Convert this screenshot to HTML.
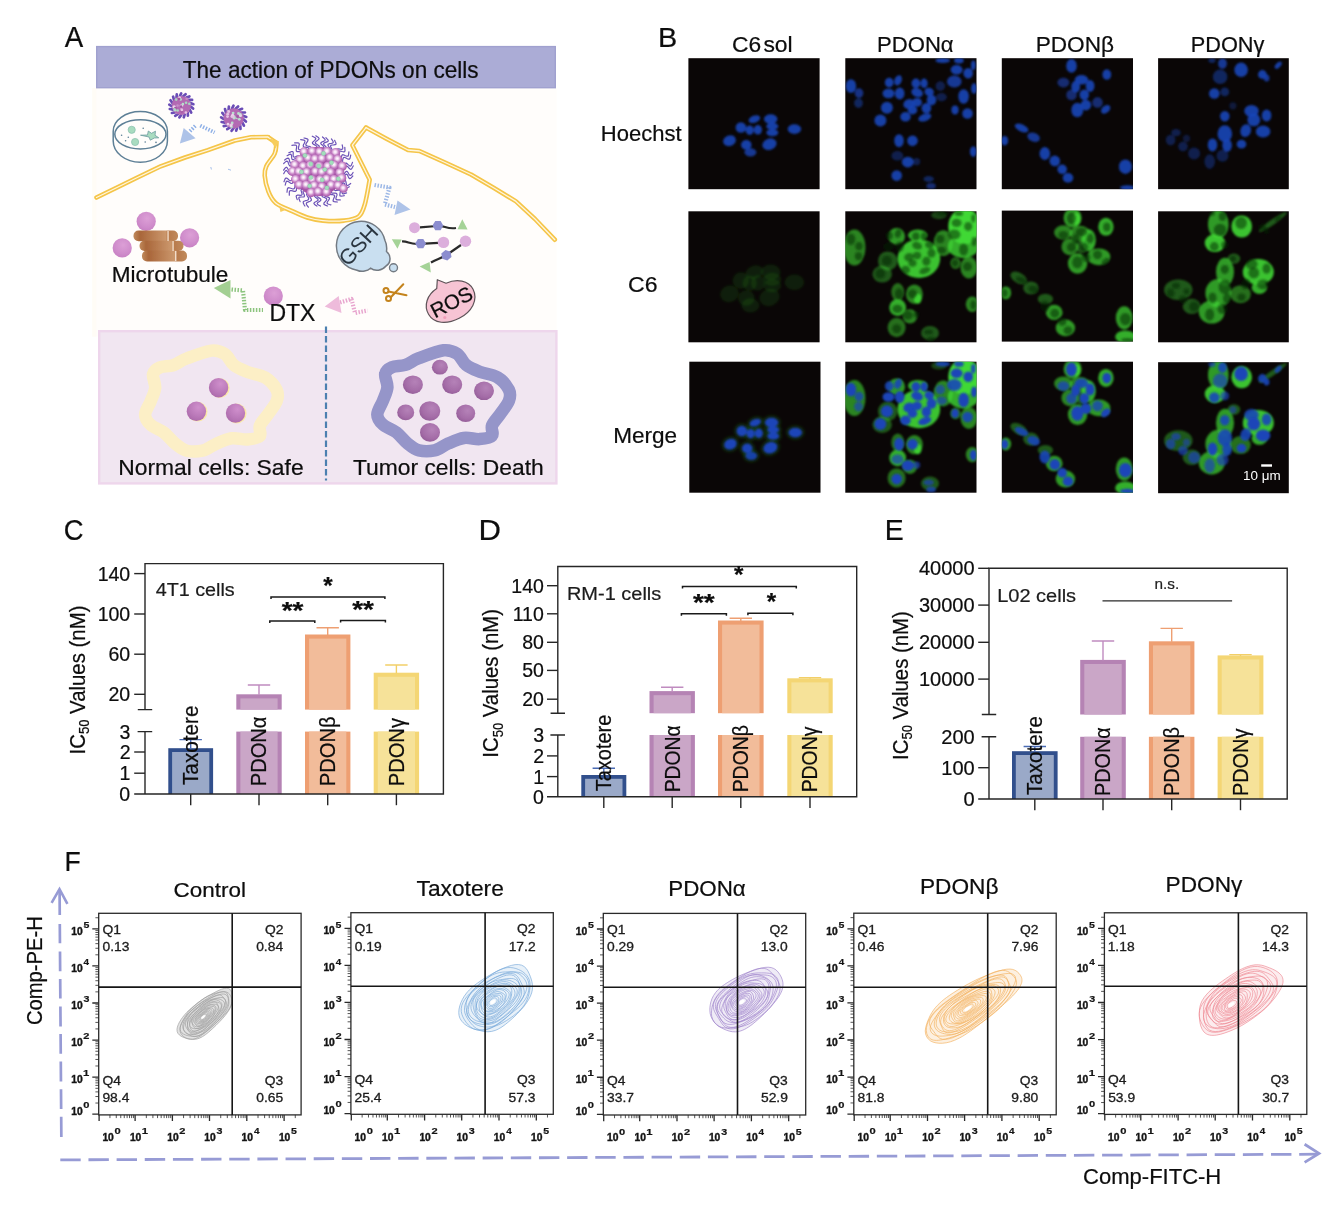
<!DOCTYPE html>
<html lang="en">
<head>
<meta charset="utf-8">
<title>PDONs figure</title>
<style>
html,body{margin:0;padding:0;background:#fff;}
body{width:1334px;height:1224px;overflow:hidden;}
svg{display:block;}
text{font-family:"Liberation Sans", Arial, Helvetica, sans-serif;fill:#0d0d0d;stroke:#0d0d0d;stroke-width:0.22px;}
.lbl{font-size:27px;}
</style>
</head>
<body>
<svg width="1334" height="1224" viewBox="0 0 1334 1224">
<rect x="0" y="0" width="1334" height="1224" fill="#ffffff"/>
<g id="panelA">
<defs>
<radialGradient id="gSph" cx="0.45" cy="0.42" r="0.62"><stop offset="0" stop-color="#ffffff"/><stop offset="0.25" stop-color="#f3dcf2"/><stop offset="0.6" stop-color="#c683c5"/><stop offset="1" stop-color="#a04ba1"/></radialGradient>
<radialGradient id="gPink" cx="0.55" cy="0.35" r="0.75"><stop offset="0" stop-color="#dc9fd6"/><stop offset="0.6" stop-color="#cf8ccb"/><stop offset="1" stop-color="#c47cc0"/></radialGradient>
<radialGradient id="gPink2" cx="0.6" cy="0.3" r="0.8"><stop offset="0" stop-color="#cf8fcc"/><stop offset="0.6" stop-color="#b978b8"/><stop offset="1" stop-color="#a866a8"/></radialGradient>
<radialGradient id="gTum" cx="0.6" cy="0.35" r="0.8"><stop offset="0" stop-color="#b582b8"/><stop offset="0.6" stop-color="#a46ca7"/><stop offset="1" stop-color="#8c5691"/></radialGradient>
<linearGradient id="gBrown" x1="0" y1="0" x2="1" y2="0"><stop offset="0" stop-color="#c08a5c"/><stop offset="0.15" stop-color="#a9663a"/><stop offset="0.72" stop-color="#cb976c"/><stop offset="0.78" stop-color="#b87a4c"/><stop offset="1" stop-color="#c08a5c"/></linearGradient>
<filter id="soft" x="-10%" y="-10%" width="120%" height="120%"><feGaussianBlur stdDeviation="0.45"/></filter>
<filter id="soft2" x="-10%" y="-10%" width="120%" height="120%"><feGaussianBlur stdDeviation="0.7"/></filter>
</defs>
<text transform="translate(64.7 47.4) scale(0.9675 1)" font-size="28.6" >A</text>
<rect x="92.3" y="88" width="464.3" height="248.6" fill="#fffdfb"/><rect x="92.3" y="88" width="4" height="248.6" fill="#fffcf6"/>
<rect x="96.7" y="46.6" width="458.6" height="41.1" fill="#abacd6" stroke="#a0a1cf" stroke-width="1.4"/>
<text transform="translate(182.75 77.9) scale(0.9723 1)" font-size="23.2" >The action of PDONs on cells</text>
<g filter="url(#soft)">
<path d="M96.5 197.5 L115 188.5 L136.4 178 L160.7 166.3 L185 157.5 L207.9 150.1 L234.9 140.5 L251.1 137.2 L268 137" fill="none" stroke="#f5c548" stroke-width="4.6" stroke-linejoin="round" stroke-linecap="round"/>
<path d="M268.4 137.5 L276.5 143 L276.5 143 C276.2 144.8 276.4 149.7 274.7 153.6 C273 157.5 268 162.5 266.3 166.2 C264.6 169.9 264.4 171.4 264.7 175.6 C265 179.8 266.6 186.8 268.4 191.4 C270.2 196 272 199.8 275.7 202.9 C279.4 206.1 285.1 207.9 290.4 210.3 C295.6 212.7 301.8 215.8 307.2 217.5 C312.6 219.2 316.9 220.1 323 220.6 C329.1 221.1 338.1 221.3 344 220.6 C349.9 219.9 355.2 219.3 358.7 216.5 C362.2 213.7 363.1 210.1 364.9 204 C366.7 197.9 368.9 183.8 369.7 179.8 L352.4 145.2 L366 127.6" fill="none" stroke="#f5c548" stroke-width="4.6" stroke-linejoin="round" stroke-linecap="round"/>
<path d="M366 127.6 L386 138.5 L408 150 L419.4 151 L445 162.5 L471 174.5 L494 188 L516 201.4 L535 219 L554.8 239.7" fill="none" stroke="#f5c548" stroke-width="4.6" stroke-linejoin="round" stroke-linecap="round"/>
<path d="M96.5 197.5 L115 188.5 L136.4 178 L160.7 166.3 L185 157.5 L207.9 150.1 L234.9 140.5 L251.1 137.2 L268 137" fill="none" stroke="#fff6df" stroke-width="1.3" stroke-linejoin="round" stroke-linecap="round"/>
<path d="M268.4 137.5 L276.5 143 L276.5 143 C276.2 144.8 276.4 149.7 274.7 153.6 C273 157.5 268 162.5 266.3 166.2 C264.6 169.9 264.4 171.4 264.7 175.6 C265 179.8 266.6 186.8 268.4 191.4 C270.2 196 272 199.8 275.7 202.9 C279.4 206.1 285.1 207.9 290.4 210.3 C295.6 212.7 301.8 215.8 307.2 217.5 C312.6 219.2 316.9 220.1 323 220.6 C329.1 221.1 338.1 221.3 344 220.6 C349.9 219.9 355.2 219.3 358.7 216.5 C362.2 213.7 363.1 210.1 364.9 204 C366.7 197.9 368.9 183.8 369.7 179.8 L352.4 145.2 L366 127.6" fill="none" stroke="#fff6df" stroke-width="1.3" stroke-linejoin="round" stroke-linecap="round"/>
<path d="M366 127.6 L386 138.5 L408 150 L419.4 151 L445 162.5 L471 174.5 L494 188 L516 201.4 L535 219 L554.8 239.7" fill="none" stroke="#fff6df" stroke-width="1.3" stroke-linejoin="round" stroke-linecap="round"/>
<polygon points="269.5,138.5 279,141.2 275.5,148.5" fill="#f7cd5c"/>
<polygon points="279,205.5 285.5,210 280.5,212" fill="#f7cd5c"/>
<path d="M113.2 131.2 A27 19.6 0 0 1 167.4 131.2 L167.4 141 A27.1 21.2 0 0 1 113.2 141 Z" fill="none" stroke="#5d7f96" stroke-width="1.5"/>
<ellipse cx="140.4" cy="134.3" rx="25.6" ry="14.6" fill="none" stroke="#5d7f96" stroke-width="1.5"/>
<circle cx="131.7" cy="129.8" r="3.6" fill="#a9dcc0" stroke="#86bfae" stroke-width="0.7"/>
<circle cx="135.1" cy="142" r="3.6" fill="#a9dcc0" stroke="#86bfae" stroke-width="0.7"/>
<path d="M140.5 135.2 L147.5 135 L148.3 131 L151.5 133.3 L155.5 131.2 L155 135.3 L158.8 137.8 L154.3 138 L150.3 140.2 L149 137 Z" fill="#a9dcc0" stroke="#6d9aa0" stroke-width="0.8" stroke-linejoin="round"/>
<circle cx="121.6" cy="135.2" r="0.8" fill="#5d7f96"/>
<circle cx="128.3" cy="137.3" r="0.8" fill="#5d7f96"/>
<circle cx="125.6" cy="140.7" r="0.8" fill="#5d7f96"/>
<circle cx="143.2" cy="128.2" r="0.8" fill="#5d7f96"/>
<circle cx="145.2" cy="142" r="0.8" fill="#5d7f96"/>
<circle cx="156" cy="142.4" r="0.8" fill="#5d7f96"/>
<g><path d="M190.7 106.4 L193.1 108.6" fill="none" stroke="#6a4db6" stroke-width="2.7" stroke-linecap="round"/><path d="M189.7 109.7 L191.2 112.6" fill="none" stroke="#6a4db6" stroke-width="2.7" stroke-linecap="round"/><path d="M187.7 112.5 L187.9 115.7" fill="none" stroke="#6a4db6" stroke-width="2.7" stroke-linecap="round"/><path d="M184.7 114.3 L183.8 117.3" fill="none" stroke="#6a4db6" stroke-width="2.7" stroke-linecap="round"/><path d="M181.3 114.9 L179.4 117.4" fill="none" stroke="#6a4db6" stroke-width="2.7" stroke-linecap="round"/><path d="M178 114.2 L175.2 115.9" fill="none" stroke="#6a4db6" stroke-width="2.7" stroke-linecap="round"/><path d="M175 112.4 L171.9 113" fill="none" stroke="#6a4db6" stroke-width="2.7" stroke-linecap="round"/><path d="M173 109.6 L169.8 109" fill="none" stroke="#6a4db6" stroke-width="2.7" stroke-linecap="round"/><path d="M172.1 106.3 L169.3 104.6" fill="none" stroke="#6a4db6" stroke-width="2.7" stroke-linecap="round"/><path d="M172.4 102.9 L170.5 100.3" fill="none" stroke="#6a4db6" stroke-width="2.7" stroke-linecap="round"/><path d="M174 99.8 L173.1 96.7" fill="none" stroke="#6a4db6" stroke-width="2.7" stroke-linecap="round"/><path d="M176.5 97.5 L176.8 94.3" fill="none" stroke="#6a4db6" stroke-width="2.7" stroke-linecap="round"/><path d="M179.8 96.3 L181.2 93.4" fill="none" stroke="#6a4db6" stroke-width="2.7" stroke-linecap="round"/><path d="M183.2 96.3 L185.6 94.2" fill="none" stroke="#6a4db6" stroke-width="2.7" stroke-linecap="round"/><path d="M186.4 97.6 L189.4 96.4" fill="none" stroke="#6a4db6" stroke-width="2.7" stroke-linecap="round"/><path d="M188.9 99.9 L192.1 99.9" fill="none" stroke="#6a4db6" stroke-width="2.7" stroke-linecap="round"/><path d="M190.4 103 L193.4 104.2" fill="none" stroke="#6a4db6" stroke-width="2.7" stroke-linecap="round"/><circle cx="181.4" cy="105.5" r="9.6" fill="#b36bb3"/><circle cx="181.8" cy="111.4" r="1.3" fill="#a055a2"/><circle cx="186.1" cy="102.7" r="1.3" fill="#a8d8c0"/><circle cx="182" cy="105.8" r="1.3" fill="#ecd4ec"/><circle cx="181.2" cy="109.1" r="1.3" fill="#c78ec8"/><circle cx="173.8" cy="106.9" r="1.3" fill="#ecd4ec"/><circle cx="175.1" cy="110.2" r="1.3" fill="#b7e0cc"/><circle cx="176.2" cy="99.6" r="1.3" fill="#a8d8c0"/><circle cx="180.9" cy="105.9" r="1.3" fill="#e4c3e3"/><circle cx="185.9" cy="112.5" r="1.3" fill="#e4c3e3"/><circle cx="181.1" cy="106.5" r="1.3" fill="#a055a2"/><circle cx="174.5" cy="106.7" r="1.3" fill="#ecd4ec"/><circle cx="179.6" cy="97.5" r="1.3" fill="#ecd4ec"/><circle cx="180.6" cy="99.4" r="1.3" fill="#b7e0cc"/><circle cx="182.9" cy="104" r="1.3" fill="#b7e0cc"/><circle cx="177.6" cy="105.6" r="1.3" fill="#c78ec8"/><circle cx="175.4" cy="108" r="1.3" fill="#a055a2"/><circle cx="174.6" cy="109.2" r="1.3" fill="#a8d8c0"/><circle cx="177.7" cy="110.5" r="1.3" fill="#a8d8c0"/><circle cx="181.9" cy="109.9" r="1.3" fill="#e4c3e3"/><circle cx="186.7" cy="98.8" r="1.3" fill="#c78ec8"/><circle cx="179.1" cy="99" r="1.3" fill="#a055a2"/><circle cx="189.3" cy="103.7" r="1.3" fill="#a8d8c0"/></g>
<g><path d="M243.4 119.3 L245.9 121.6" fill="none" stroke="#6a4db6" stroke-width="2.7" stroke-linecap="round"/><path d="M242.4 122.7 L243.9 125.7" fill="none" stroke="#6a4db6" stroke-width="2.7" stroke-linecap="round"/><path d="M240.2 125.6 L240.5 128.9" fill="none" stroke="#6a4db6" stroke-width="2.7" stroke-linecap="round"/><path d="M237.2 127.5 L236.2 130.7" fill="none" stroke="#6a4db6" stroke-width="2.7" stroke-linecap="round"/><path d="M233.6 128.1 L231.6 130.8" fill="none" stroke="#6a4db6" stroke-width="2.7" stroke-linecap="round"/><path d="M230.1 127.4 L227.2 129.2" fill="none" stroke="#6a4db6" stroke-width="2.7" stroke-linecap="round"/><path d="M227 125.5 L223.7 126.1" fill="none" stroke="#6a4db6" stroke-width="2.7" stroke-linecap="round"/><path d="M224.9 122.6 L221.6 122" fill="none" stroke="#6a4db6" stroke-width="2.7" stroke-linecap="round"/><path d="M223.9 119.1 L221.1 117.3" fill="none" stroke="#6a4db6" stroke-width="2.7" stroke-linecap="round"/><path d="M224.3 115.5 L222.3 112.9" fill="none" stroke="#6a4db6" stroke-width="2.7" stroke-linecap="round"/><path d="M225.9 112.3 L225 109.1" fill="none" stroke="#6a4db6" stroke-width="2.7" stroke-linecap="round"/><path d="M228.6 109.9 L228.9 106.6" fill="none" stroke="#6a4db6" stroke-width="2.7" stroke-linecap="round"/><path d="M232 108.7 L233.5 105.7" fill="none" stroke="#6a4db6" stroke-width="2.7" stroke-linecap="round"/><path d="M235.6 108.7 L238.1 106.4" fill="none" stroke="#6a4db6" stroke-width="2.7" stroke-linecap="round"/><path d="M238.9 110 L242.1 108.8" fill="none" stroke="#6a4db6" stroke-width="2.7" stroke-linecap="round"/><path d="M241.6 112.5 L244.9 112.5" fill="none" stroke="#6a4db6" stroke-width="2.7" stroke-linecap="round"/><path d="M243.1 115.7 L246.3 116.9" fill="none" stroke="#6a4db6" stroke-width="2.7" stroke-linecap="round"/><circle cx="233.7" cy="118.3" r="10.1" fill="#b36bb3"/><circle cx="228.3" cy="113.1" r="1.4" fill="#c78ec8"/><circle cx="240.7" cy="115.6" r="1.4" fill="#a8d8c0"/><circle cx="239.3" cy="119.3" r="1.4" fill="#b7e0cc"/><circle cx="228.7" cy="111.5" r="1.4" fill="#e4c3e3"/><circle cx="228" cy="124.2" r="1.4" fill="#ecd4ec"/><circle cx="227.5" cy="116.6" r="1.4" fill="#e4c3e3"/><circle cx="233.1" cy="113.1" r="1.4" fill="#b7e0cc"/><circle cx="240.3" cy="114.5" r="1.4" fill="#b7e0cc"/><circle cx="233.8" cy="116.5" r="1.4" fill="#a8d8c0"/><circle cx="231.8" cy="116.6" r="1.4" fill="#e4c3e3"/><circle cx="234.1" cy="118.2" r="1.4" fill="#b7e0cc"/><circle cx="236.7" cy="117.5" r="1.4" fill="#b7e0cc"/><circle cx="231.6" cy="126.8" r="1.4" fill="#a8d8c0"/><circle cx="238.5" cy="113.5" r="1.4" fill="#b7e0cc"/><circle cx="240.4" cy="115.7" r="1.4" fill="#ecd4ec"/><circle cx="232.2" cy="122.9" r="1.4" fill="#b7e0cc"/><circle cx="237.4" cy="116.7" r="1.4" fill="#a055a2"/><circle cx="231.6" cy="124.6" r="1.4" fill="#e4c3e3"/><circle cx="227.7" cy="114.2" r="1.4" fill="#e4c3e3"/><circle cx="230.8" cy="125.7" r="1.4" fill="#ecd4ec"/><circle cx="232.6" cy="115.2" r="1.4" fill="#ecd4ec"/><circle cx="233.2" cy="116.8" r="1.4" fill="#e4c3e3"/></g>
<g><path d="M340.9 172.9L341.7 174.3L342.5 175L343.4 174.7L344.4 173.7L345.3 172.3L346.3 171.4L347.1 171.4L347.9 172.3L348.7 173.8L349.5 175L350.3 175.5L351.2 175L352.2 173.8L353.1 172.5" fill="none" stroke="#6c53b8" stroke-width="1.2" stroke-linejoin="round" stroke-linecap="round"/><path d="M340.7 175.2L341.3 176.6L342.1 177.4L343 177.2L344 176.3L345.1 175L346.1 174.2L347 174.3L347.7 175.3L348.3 176.8L349 178.1L349.8 178.7L350.7 178.3L351.8 177.2L352.8 176" fill="none" stroke="#6c53b8" stroke-width="1.2" stroke-linejoin="round" stroke-linecap="round"/><path d="M339.3 180.1L339.6 181.6L340.1 182.6L341 182.6L342.2 181.9L343.5 180.9L344.7 180.3L345.5 180.6L345.9 181.7L346.2 183.3L346.5 184.8L347.1 185.5L348.1 185.3L349.4 184.5L350.7 183.5" fill="none" stroke="#6c53b8" stroke-width="1.2" stroke-linejoin="round" stroke-linecap="round"/><path d="M338.3 182.2L338.4 183.7L338.9 184.7L339.8 184.8L341 184.2L342.4 183.4L343.7 182.9L344.4 183.3L344.8 184.5L344.9 186.1L345.1 187.5L345.6 188.3L346.6 188.2L347.9 187.5L349.3 186.7" fill="none" stroke="#6c53b8" stroke-width="1.2" stroke-linejoin="round" stroke-linecap="round"/><path d="M335.9 185.8L335.8 187.3L336.1 188.4L337 188.8L338.4 188.5L340 188L341.3 187.8L342.1 188.3L342.2 189.6L342.1 191.2L342 192.7L342.5 193.6L343.5 193.8L345 193.4L346.6 192.9" fill="none" stroke="#6c53b8" stroke-width="1.2" stroke-linejoin="round" stroke-linecap="round"/><path d="M334.4 187.4L334.1 189L334.3 190.1L335.2 190.6L336.6 190.4L338.2 190.1L339.6 190L340.3 190.6L340.3 191.9L340 193.5L339.8 195L340.1 196L341.2 196.2L342.7 196L344.3 195.6" fill="none" stroke="#6c53b8" stroke-width="1.2" stroke-linejoin="round" stroke-linecap="round"/><path d="M331.6 189.8L331.1 191.4L331.1 192.5L331.9 193.1L333.4 193.2L335.1 193.2L336.4 193.4L337 194.1L336.9 195.4L336.3 196.9L335.9 198.4L336.1 199.4L337.1 199.9L338.7 199.9L340.3 199.9" fill="none" stroke="#6c53b8" stroke-width="1.2" stroke-linejoin="round" stroke-linecap="round"/><path d="M329.7 191.1L329 192.6L328.9 193.7L329.7 194.4L331.1 194.6L332.8 194.7L334.1 195.1L334.7 195.9L334.4 197.1L333.7 198.6L333.1 200.1L333.2 201.1L334.2 201.6L335.8 201.8L337.4 202" fill="none" stroke="#6c53b8" stroke-width="1.2" stroke-linejoin="round" stroke-linecap="round"/><path d="M325.6 193L324.7 194.3L324.3 195.4L324.9 196.1L326.3 196.6L327.9 197.1L329.2 197.6L329.5 198.5L329 199.7L328 201L327.2 202.3L327.1 203.3L327.9 204L329.4 204.5L330.9 204.9" fill="none" stroke="#6c53b8" stroke-width="1.2" stroke-linejoin="round" stroke-linecap="round"/><path d="M323.4 193.6L322.4 194.8L321.9 195.8L322.4 196.7L323.8 197.3L325.3 197.9L326.5 198.6L326.8 199.5L326.1 200.6L325 201.8L324 203L323.8 204L324.6 204.8L326 205.4L327.5 206" fill="none" stroke="#6c53b8" stroke-width="1.2" stroke-linejoin="round" stroke-linecap="round"/><path d="M318.9 194.2L317.6 195.1L316.9 195.9L317.3 196.8L318.4 197.6L319.9 198.4L320.8 199.2L320.9 200.1L320.1 201L318.7 201.9L317.6 202.8L317.2 203.6L317.7 204.5L319 205.3L320.4 206.1" fill="none" stroke="#6c53b8" stroke-width="1.2" stroke-linejoin="round" stroke-linecap="round"/><path d="M316.6 194.1L315.2 194.9L314.5 195.7L314.8 196.6L315.8 197.5L317.1 198.5L318 199.4L318.1 200.2L317.1 201L315.7 201.8L314.4 202.5L313.9 203.4L314.4 204.2L315.6 205.2L316.9 206.1" fill="none" stroke="#6c53b8" stroke-width="1.2" stroke-linejoin="round" stroke-linecap="round"/><path d="M311.5 193.2L310 193.8L309 194.6L309 195.6L309.8 196.9L310.8 198.3L311.4 199.6L311.2 200.6L310.1 201.3L308.5 201.9L307 202.5L306.3 203.3L306.5 204.5L307.4 205.8L308.4 207.2" fill="none" stroke="#6c53b8" stroke-width="1.2" stroke-linejoin="round" stroke-linecap="round"/><path d="M309.4 192.4L307.8 192.8L306.8 193.5L306.6 194.6L307.3 196L308.2 197.4L308.7 198.8L308.3 199.7L307.1 200.3L305.5 200.7L304 201.2L303.2 202L303.3 203.1L304 204.6L304.9 206" fill="none" stroke="#6c53b8" stroke-width="1.2" stroke-linejoin="round" stroke-linecap="round"/><path d="M305.8 190.5L304.3 190.6L303.2 191L303 191.9L303.5 193.2L304.2 194.7L304.5 196L304.1 196.8L302.9 197L301.2 197L299.7 197.1L298.9 197.6L298.9 198.7L299.5 200.1L300.1 201.6" fill="none" stroke="#6c53b8" stroke-width="1.2" stroke-linejoin="round" stroke-linecap="round"/><path d="M304 189.2L302.4 189.1L301.3 189.4L301 190.3L301.4 191.6L301.9 193.2L302.1 194.5L301.6 195.2L300.4 195.4L298.7 195.2L297.3 195.2L296.4 195.6L296.2 196.6L296.7 198.1L297.2 199.6" fill="none" stroke="#6c53b8" stroke-width="1.2" stroke-linejoin="round" stroke-linecap="round"/><path d="M300.2 185.3L298.5 184.9L297.3 185.1L296.7 185.9L296.5 187.5L296.5 189.2L296.3 190.6L295.5 191.3L294.2 191.3L292.5 190.8L290.9 190.5L289.8 190.8L289.3 191.9L289.3 193.5L289.3 195.2" fill="none" stroke="#6c53b8" stroke-width="1.2" stroke-linejoin="round" stroke-linecap="round"/><path d="M298.9 183.5L297.3 182.9L296 182.9L295.3 183.7L295 185.2L294.9 187L294.5 188.3L293.6 189L292.3 188.8L290.7 188.2L289.1 187.7L288 187.9L287.4 188.9L287.2 190.5L287 192.2" fill="none" stroke="#6c53b8" stroke-width="1.2" stroke-linejoin="round" stroke-linecap="round"/><path d="M296.9 179.5L295.6 178.6L294.5 178.3L293.7 178.9L293.3 180.3L292.9 181.9L292.4 183.2L291.5 183.5L290.4 183.1L289 182.1L287.7 181.3L286.7 181.2L286 182.1L285.6 183.6L285.2 185.2" fill="none" stroke="#6c53b8" stroke-width="1.2" stroke-linejoin="round" stroke-linecap="round"/><path d="M296.2 177.3L295 176.3L293.9 175.9L293.1 176.4L292.5 177.8L292 179.3L291.3 180.5L290.4 180.8L289.3 180.2L288.1 179.1L286.9 178.2L285.9 178L285.1 178.8L284.6 180.3L284 181.8" fill="none" stroke="#6c53b8" stroke-width="1.2" stroke-linejoin="round" stroke-linecap="round"/><path d="M295.4 172.1L294.5 170.8L293.7 170.2L292.8 170.5L292 171.7L291.2 173.1L290.4 174.1L289.6 174.2L288.7 173.3L287.8 172L286.9 170.8L286.1 170.4L285.3 171L284.5 172.3L283.7 173.7" fill="none" stroke="#6c53b8" stroke-width="1.2" stroke-linejoin="round" stroke-linecap="round"/><path d="M295.5 169.8L294.7 168.5L293.9 167.8L293.1 168L292.1 169.1L291.2 170.4L290.3 171.3L289.4 171.3L288.7 170.4L287.9 169L287.2 167.7L286.3 167.2L285.5 167.7L284.5 168.9L283.6 170.2" fill="none" stroke="#6c53b8" stroke-width="1.2" stroke-linejoin="round" stroke-linecap="round"/><path d="M296.2 165.6L295.6 164.1L294.9 163.2L294 163.3L292.8 164.1L291.6 165.3L290.5 166L289.6 165.8L289 164.7L288.4 163.2L287.9 161.8L287.1 161.1L286.1 161.4L284.9 162.4L283.7 163.5" fill="none" stroke="#6c53b8" stroke-width="1.2" stroke-linejoin="round" stroke-linecap="round"/><path d="M296.9 163.4L296.5 161.9L295.9 160.9L294.9 160.9L293.7 161.7L292.3 162.6L291.2 163.2L290.3 163L289.8 161.8L289.4 160.2L289 158.8L288.3 158.1L287.3 158.3L286 159.1L284.7 160.1" fill="none" stroke="#6c53b8" stroke-width="1.2" stroke-linejoin="round" stroke-linecap="round"/><path d="M298.2 160.5L298.1 158.9L297.6 157.9L296.7 157.8L295.4 158.4L294 159.2L292.8 159.6L292 159.2L291.7 158.1L291.6 156.4L291.4 155L290.9 154.2L289.8 154.3L288.5 154.9L287.1 155.7" fill="none" stroke="#6c53b8" stroke-width="1.2" stroke-linejoin="round" stroke-linecap="round"/><path d="M299.4 158.5L299.4 157L299.1 155.9L298.2 155.7L296.9 156.1L295.4 156.8L294.1 157.1L293.4 156.7L293.1 155.5L293.2 153.9L293.2 152.4L292.7 151.5L291.7 151.5L290.3 152.1L288.8 152.7" fill="none" stroke="#6c53b8" stroke-width="1.2" stroke-linejoin="round" stroke-linecap="round"/><path d="M302.5 154.9L302.8 153.2L302.6 152L301.6 151.5L300.1 151.5L298.4 151.7L297 151.7L296.3 151L296.2 149.6L296.5 148L296.7 146.4L296.3 145.4L295.2 145L293.6 145.1L291.9 145.3" fill="none" stroke="#6c53b8" stroke-width="1.2" stroke-linejoin="round" stroke-linecap="round"/><path d="M304.3 153.4L304.7 151.8L304.6 150.6L303.7 149.9L302.2 149.8L300.5 149.9L299.1 149.7L298.4 148.9L298.5 147.5L298.9 145.9L299.3 144.4L299 143.3L297.9 142.8L296.3 142.8L294.6 142.8" fill="none" stroke="#6c53b8" stroke-width="1.2" stroke-linejoin="round" stroke-linecap="round"/><path d="M307.9 151.1L308.6 149.6L308.8 148.5L308.1 147.7L306.6 147.4L304.9 147.2L303.6 146.7L303.2 145.9L303.5 144.6L304.3 143.2L304.9 141.8L304.9 140.7L303.9 140.1L302.4 139.8L300.7 139.6" fill="none" stroke="#6c53b8" stroke-width="1.2" stroke-linejoin="round" stroke-linecap="round"/><path d="M310 150.1L310.8 148.8L311.1 147.6L310.5 146.8L309.1 146.4L307.4 146L306.2 145.4L305.8 144.5L306.2 143.3L307.2 141.9L307.9 140.6L308 139.5L307.1 138.8L305.6 138.4L304 138" fill="none" stroke="#6c53b8" stroke-width="1.2" stroke-linejoin="round" stroke-linecap="round"/><path d="M315.2 148.8L316.3 147.7L316.9 146.7L316.4 145.9L315.2 145.1L313.7 144.4L312.6 143.6L312.4 142.7L313.2 141.7L314.4 140.6L315.5 139.5L315.8 138.5L315.1 137.7L313.8 137L312.3 136.2" fill="none" stroke="#6c53b8" stroke-width="1.2" stroke-linejoin="round" stroke-linecap="round"/><path d="M317.4 148.6L318.7 147.7L319.3 146.7L319 145.8L317.8 144.9L316.4 144.1L315.4 143.2L315.3 142.3L316.2 141.3L317.5 140.4L318.7 139.4L319.1 138.5L318.5 137.6L317.2 136.7L315.8 135.8" fill="none" stroke="#6c53b8" stroke-width="1.2" stroke-linejoin="round" stroke-linecap="round"/><path d="M321.8 148.9L323.2 148.3L324 147.5L323.8 146.6L322.9 145.6L321.6 144.6L320.8 143.6L320.9 142.7L321.9 142L323.4 141.4L324.7 140.8L325.2 140L324.8 139.1L323.7 138L322.5 137" fill="none" stroke="#6c53b8" stroke-width="1.2" stroke-linejoin="round" stroke-linecap="round"/><path d="M324 149.4L325.5 148.9L326.4 148.2L326.3 147.3L325.4 146.2L324.3 145.1L323.6 144L323.7 143.2L324.8 142.6L326.3 142.1L327.7 141.6L328.3 140.9L328 139.9L327 138.8L325.9 137.6" fill="none" stroke="#6c53b8" stroke-width="1.2" stroke-linejoin="round" stroke-linecap="round"/><path d="M327.5 150.6L329 150.3L330 149.8L330.1 148.8L329.4 147.6L328.5 146.2L327.9 145L328.2 144.2L329.4 143.7L331 143.5L332.5 143.2L333.2 142.5L333.1 141.5L332.3 140.2L331.4 138.9" fill="none" stroke="#6c53b8" stroke-width="1.2" stroke-linejoin="round" stroke-linecap="round"/><path d="M329.5 151.6L331.1 151.5L332.1 151.1L332.2 150.1L331.7 148.8L330.9 147.4L330.5 146.1L330.9 145.3L332.1 145L333.7 144.9L335.2 144.7L336 144.2L336 143.2L335.3 141.8L334.6 140.3" fill="none" stroke="#6c53b8" stroke-width="1.2" stroke-linejoin="round" stroke-linecap="round"/><path d="M334 155L335.6 155.2L336.7 155L337.2 154.1L337 152.7L336.6 151.1L336.6 149.7L337.2 149L338.5 148.9L340.1 149.2L341.6 149.4L342.6 149L342.8 148L342.5 146.4L342.2 144.8" fill="none" stroke="#6c53b8" stroke-width="1.2" stroke-linejoin="round" stroke-linecap="round"/><path d="M335.6 156.7L337.1 157.1L338.3 157L338.8 156.1L338.8 154.7L338.6 153L338.7 151.7L339.3 151L340.6 151.1L342.2 151.5L343.7 151.8L344.7 151.6L345 150.5L344.9 149L344.8 147.4" fill="none" stroke="#6c53b8" stroke-width="1.2" stroke-linejoin="round" stroke-linecap="round"/><path d="M337.8 159.8L339.3 160.4L340.5 160.5L341.2 159.8L341.4 158.3L341.5 156.6L341.9 155.3L342.7 154.7L344 155L345.5 155.7L346.9 156.2L348 156.1L348.5 155.2L348.7 153.6L348.9 151.9" fill="none" stroke="#6c53b8" stroke-width="1.2" stroke-linejoin="round" stroke-linecap="round"/><path d="M338.9 161.8L340.3 162.6L341.5 162.8L342.2 162.1L342.6 160.7L342.9 159L343.4 157.7L344.2 157.3L345.5 157.7L346.9 158.5L348.3 159.2L349.4 159.2L350 158.3L350.4 156.7L350.7 155.1" fill="none" stroke="#6c53b8" stroke-width="1.2" stroke-linejoin="round" stroke-linecap="round"/><path d="M340.4 166.4L341.6 167.4L342.6 167.9L343.4 167.4L344.1 166.1L344.6 164.5L345.3 163.4L346.2 163.1L347.2 163.8L348.4 164.9L349.6 165.9L350.5 166.1L351.3 165.4L351.9 163.9L352.5 162.4" fill="none" stroke="#6c53b8" stroke-width="1.2" stroke-linejoin="round" stroke-linecap="round"/><path d="M340.8 168.6L341.9 169.8L342.8 170.3L343.7 169.9L344.5 168.7L345.2 167.2L346 166.1L346.8 166L347.8 166.7L348.9 168L350 169L350.9 169.4L351.7 168.7L352.5 167.3L353.2 165.9" fill="none" stroke="#6c53b8" stroke-width="1.2" stroke-linejoin="round" stroke-linecap="round"/><circle cx="318.2" cy="171.4" r="24.6" fill="#a654a6"/><circle cx="304.1" cy="151.9" r="4.6" fill="url(#gSph)"/><circle cx="312.2" cy="151.3" r="4.6" fill="url(#gSph)"/><circle cx="319.6" cy="151.9" r="4.6" fill="url(#gSph)"/><circle cx="327.2" cy="151.6" r="4.6" fill="url(#gSph)"/><circle cx="335.6" cy="152.7" r="4.6" fill="url(#gSph)"/><circle cx="299.9" cy="159.7" r="4.6" fill="url(#gSph)"/><circle cx="308.1" cy="158.1" r="4.6" fill="url(#gSph)"/><circle cx="315" cy="158.9" r="4.6" fill="url(#gSph)"/><circle cx="322" cy="158.5" r="4.6" fill="url(#gSph)"/><circle cx="330.1" cy="157.7" r="4.6" fill="url(#gSph)"/><circle cx="337.7" cy="159.2" r="4.6" fill="url(#gSph)"/><circle cx="294.8" cy="164.8" r="4.6" fill="url(#gSph)"/><circle cx="303.2" cy="166.2" r="4.6" fill="url(#gSph)"/><circle cx="310.3" cy="165.2" r="4.6" fill="url(#gSph)"/><circle cx="319.3" cy="166.2" r="4.6" fill="url(#gSph)"/><circle cx="327.7" cy="166.2" r="4.6" fill="url(#gSph)"/><circle cx="334.3" cy="165.2" r="4.6" fill="url(#gSph)"/><circle cx="342.3" cy="166.2" r="4.6" fill="url(#gSph)"/><circle cx="292.7" cy="171.4" r="4.6" fill="url(#gSph)"/><circle cx="298.8" cy="171.6" r="4.6" fill="url(#gSph)"/><circle cx="306.8" cy="172.1" r="4.6" fill="url(#gSph)"/><circle cx="315.4" cy="171.6" r="4.6" fill="url(#gSph)"/><circle cx="321.9" cy="172" r="4.6" fill="url(#gSph)"/><circle cx="330.6" cy="172.3" r="4.6" fill="url(#gSph)"/><circle cx="339.8" cy="172.6" r="4.6" fill="url(#gSph)"/><circle cx="295.7" cy="179.3" r="4.6" fill="url(#gSph)"/><circle cx="303.9" cy="178" r="4.6" fill="url(#gSph)"/><circle cx="312.2" cy="179.6" r="4.6" fill="url(#gSph)"/><circle cx="320" cy="179.7" r="4.6" fill="url(#gSph)"/><circle cx="326.7" cy="178.8" r="4.6" fill="url(#gSph)"/><circle cx="333.9" cy="179.3" r="4.6" fill="url(#gSph)"/><circle cx="341.7" cy="178" r="4.6" fill="url(#gSph)"/><circle cx="299.2" cy="184.8" r="4.6" fill="url(#gSph)"/><circle cx="306.2" cy="185" r="4.6" fill="url(#gSph)"/><circle cx="314.3" cy="185.5" r="4.6" fill="url(#gSph)"/><circle cx="322" cy="186.7" r="4.6" fill="url(#gSph)"/><circle cx="331.2" cy="185" r="4.6" fill="url(#gSph)"/><circle cx="338.2" cy="185.5" r="4.6" fill="url(#gSph)"/><circle cx="311.2" cy="192.6" r="4.6" fill="url(#gSph)"/><circle cx="318.2" cy="191.7" r="4.6" fill="url(#gSph)"/><circle cx="326.6" cy="192.1" r="4.6" fill="url(#gSph)"/><circle cx="304.9" cy="155.5" r="2.1" fill="#a3dfbc" stroke="#7cc8a0" stroke-width="0.4"/><circle cx="323.5" cy="153.4" r="2.1" fill="#a3dfbc" stroke="#7cc8a0" stroke-width="0.4"/><circle cx="331.4" cy="162.7" r="2.1" fill="#a3dfbc" stroke="#7cc8a0" stroke-width="0.4"/><circle cx="310.8" cy="164" r="2.1" fill="#a3dfbc" stroke="#7cc8a0" stroke-width="0.4"/><circle cx="318.7" cy="166.1" r="2.1" fill="#a3dfbc" stroke="#7cc8a0" stroke-width="0.4"/><circle cx="324.8" cy="169.5" r="2.1" fill="#a3dfbc" stroke="#7cc8a0" stroke-width="0.4"/><circle cx="301.5" cy="171.9" r="2.1" fill="#a3dfbc" stroke="#7cc8a0" stroke-width="0.4"/><circle cx="310.8" cy="177.5" r="2.1" fill="#a3dfbc" stroke="#7cc8a0" stroke-width="0.4"/><circle cx="322.2" cy="179.9" r="2.1" fill="#a3dfbc" stroke="#7cc8a0" stroke-width="0.4"/><circle cx="309.7" cy="186" r="2.1" fill="#a3dfbc" stroke="#7cc8a0" stroke-width="0.4"/><circle cx="326.9" cy="187.8" r="2.1" fill="#a3dfbc" stroke="#7cc8a0" stroke-width="0.4"/><circle cx="338.3" cy="178.8" r="2.1" fill="#a3dfbc" stroke="#7cc8a0" stroke-width="0.4"/></g>
<circle cx="343.5" cy="188.5" r="4.3" fill="url(#gSph)"/>
<path d="M190 131.2 L195.6 125.6" fill="none" stroke="#8fb0e6" stroke-width="3.8" stroke-dasharray="1.5 1.5" stroke-linejoin="round"/>
<polygon points="183.7,128.1 179.9,143.6 195.6,138.2" fill="#aec3e8"/>
<path d="M200.2 125.6 L214.6 132.4" fill="none" stroke="#8fb0e6" stroke-width="3.8" stroke-dasharray="1.5 1.5" stroke-linejoin="round"/>
<polygon points="0,0 0,0 0,0" fill="none"/>
<path d="M210.8 167 L211.4 169.5 M228 169.2 L231 170.2" stroke="#9bb8e8" stroke-width="0.9" fill="none"/>
<path d="M374.5 185 L389.5 187.5 L384.8 204.5 L395 207" fill="none" stroke="#9db8e6" stroke-width="4.2" stroke-dasharray="1.5 1.5" stroke-linejoin="round"/>
<polygon points="397.5,200.5 394.5,215 410.5,209.5" fill="#aec3e8"/>
<circle cx="146.2" cy="221.4" r="9.6" fill="url(#gPink)"/>
<circle cx="189.6" cy="237.8" r="9.6" fill="url(#gPink)"/>
<circle cx="122.2" cy="247.9" r="9.6" fill="url(#gPink)"/>
<rect x="133.5" y="230.6" width="44.5" height="10.6" rx="5" ry="5" fill="url(#gBrown)"/>
<rect x="139.5" y="240.8" width="44" height="10.2" rx="5" ry="5" fill="url(#gBrown)"/>
<rect x="142" y="250.6" width="45" height="10.8" rx="5" ry="5" fill="url(#gBrown)"/>
<rect x="167.5" y="231" width="1.1" height="10" fill="#fff3e6"/>
<rect x="172.5" y="241" width="1.1" height="10" fill="#fff3e6"/>
<rect x="175.2" y="251" width="1.1" height="10" fill="#fff3e6"/>
<path d="M231.5 289.5 L243 290.5 L245 310 L263 310" fill="none" stroke="#8cc47e" stroke-width="4.2" stroke-dasharray="1.5 1.5" stroke-linejoin="round"/>
<polygon points="213.8,288 230.5,280 230.5,298.5" fill="#a3cf92"/>
<circle cx="273.3" cy="296" r="9.6" fill="url(#gPink)"/>
<path d="M340 302.5 L351.5 299 L355 313 L367.5 310.5" fill="none" stroke="#e8a6cf" stroke-width="4.2" stroke-dasharray="1.5 1.5" stroke-linejoin="round"/>
<polygon points="324.7,306.5 338.7,296 341.5,313" fill="#eebbdb"/>
<path d="M385 240.5 A24.6 24.6 0 1 0 357 270.2 C362 272.5 367.5 271 370.5 268.2 C375 271.5 382 270.8 386 266 C391 263 391.5 255.5 386.5 251.5 C387 247.5 386.5 243.5 385 240.5 Z" fill="#c9dff0" stroke="#737a82" stroke-width="1.5"/>
<circle cx="393.5" cy="267.7" r="4" fill="#c9dff0" stroke="#737a82" stroke-width="1.4"/>
<text x="0" y="0" font-size="21.5" style="fill:#2b3640;stroke:none" text-anchor="middle" transform="translate(363.8 250.3) rotate(-47)">GSH</text>
<path d="M420 227.3 L437 226 C444 225.2 447 229.5 456 228" fill="none" stroke="#2a2a2a" stroke-width="2.2"/>
<path d="M402 241.5 C408 241 410 245 420 243.8 L443 242.6" fill="none" stroke="#2a2a2a" stroke-width="2.2"/>
<path d="M461 245 L448 254 C440 259 438 258.5 431 262.5" fill="none" stroke="#2a2a2a" stroke-width="2.2"/>
<circle cx="414.5" cy="227.7" r="5.5" fill="#dcaedc"/>
<polygon points="443.3,225.6 440.6,230.3 435.2,230.3 432.5,225.6 435.2,220.9 440.6,220.9" fill="#8c8dcf"/>
<polygon points="462.3,219.3 457.5,229.2 467.6,229.6" fill="#a5d397"/>
<polygon points="391.8,239.3 401.6,239.6 397.5,248.8" fill="#a5d397"/>
<polygon points="426,243.6 423.3,248.3 417.9,248.3 415.2,243.6 417.9,238.9 423.3,238.9" fill="#8c8dcf"/>
<circle cx="443.5" cy="242.4" r="5.7" fill="#dcaedc"/>
<circle cx="465.5" cy="241.2" r="5.7" fill="#dcaedc"/>
<polygon points="451.5,257 447.3,260.5 442.3,258.7 441.3,253.4 445.5,249.9 450.5,251.7" fill="#8c8dcf"/>
<polygon points="419.6,266.5 429.6,262 430.8,272.5" fill="#a5d397"/>
<g fill="none" stroke="#c4831c" stroke-width="2" stroke-linecap="round"><circle cx="386" cy="290.5" r="2.5"/><circle cx="388.5" cy="298.6" r="2.5"/><path d="M388.4 291.5 L406.5 295.3 M390.8 297.3 L403.3 284.2"/></g>
<g transform="translate(450.8 301.8) rotate(-27)"><path d="M-25.5 1 C-26 -9 -18 -17 -6.5 -18.2 L-2 -25.8 L4.2 -18.7 C16 -18 25.5 -11 25.5 -1 C25.5 11 14 18.5 0 18.5 C-14 18.5 -25 12 -25.5 1 Z" fill="#f7c4d4" stroke="#5e5358" stroke-width="1.2" stroke-linejoin="round"/><text x="0.5" y="7.6" font-size="20.5" fill="#1a1a1a" text-anchor="middle">ROS</text></g>
<circle cx="444.8" cy="317.5" r="1.6" fill="#f090b0" opacity="0.7"/>
</g>
<text transform="translate(111.69 281.6) scale(1.0461 1)" font-size="21.6" >Microtubule</text>
<text transform="translate(269.46 321.1) scale(0.9914 1)" font-size="23.2" >DTX</text>
<rect x="99.2" y="331.2" width="457.2" height="152.2" fill="#f1e6f1" stroke="#eed6ec" stroke-width="2.4"/>
<line x1="326" y1="326.5" x2="326" y2="480.5" stroke="#4c80b0" stroke-width="2.2" stroke-dasharray="6.6 2.9"/>
<g filter="url(#soft2)">
<path d="M186.7 358.5 C193.1 356.1 205 351.4 211.4 350.6 C217.8 349.9 221.2 351.6 224.9 354 C228.7 356.4 230.2 362.2 233.9 365.2 C237.7 368.2 242.2 369.9 247.4 372 C252.7 374.1 260.5 374.6 265.4 377.6 C270.3 380.6 274.8 386.1 276.7 390 C278.6 393.9 278.2 397.1 276.7 401.2 C275.2 405.3 270.5 410.6 267.7 414.7 C264.9 418.8 261.1 422.3 259.8 425.9 C258.5 429.5 261.9 433.9 259.8 436.1 C257.7 438.4 252.1 439 247.4 439.4 C242.7 439.8 236.9 437.6 231.7 438.3 C226.4 439.1 220.8 441.8 215.9 443.9 C211 446 207.3 449.6 202.4 450.7 C197.5 451.8 191.2 451.8 186.7 450.7 C182.2 449.6 179.2 446.9 175.5 443.9 C171.8 440.9 168.3 435.9 164.2 432.7 C160.1 429.5 153.9 427.8 150.7 424.8 C147.5 421.8 145.1 418.6 145.1 414.7 C145.1 410.8 149 405.7 150.7 401.2 C152.4 396.7 154.8 392.2 155.2 387.7 C155.6 383.2 152.2 377.6 153 374.2 C153.8 370.8 156.3 369 159.7 367.5 C163.1 366 168.7 366.7 173.2 365.2 C177.7 363.7 180.3 360.9 186.7 358.5Z" fill="none" stroke="#fcefc6" stroke-width="12.5" stroke-linejoin="round"/>
<circle cx="218.6" cy="387.7" r="9.9" fill="#fbe9a8" transform="translate(1.2 0.4)"/>
<circle cx="218.6" cy="387.7" r="9.7" fill="url(#gPink2)"/>
<circle cx="196.4" cy="411.3" r="9.9" fill="#fbe9a8" transform="translate(1.2 0.4)"/>
<circle cx="196.4" cy="411.3" r="9.7" fill="url(#gPink2)"/>
<circle cx="235.5" cy="413.1" r="9.9" fill="#fbe9a8" transform="translate(1.2 0.4)"/>
<circle cx="235.5" cy="413.1" r="9.7" fill="url(#gPink2)"/>
<path d="M418.9 358.2 C425.3 355.8 437.2 351.1 443.6 350.3 C450 349.6 453.4 351.3 457.1 353.7 C460.9 356.1 462.4 361.9 466.1 364.9 C469.9 367.9 474.4 369.6 479.6 371.7 C484.9 373.8 492.7 374.3 497.6 377.3 C502.5 380.3 507 385.8 508.9 389.7 C510.8 393.6 510.4 396.8 508.9 400.9 C507.4 405 502.7 410.3 499.9 414.4 C497.1 418.5 493.3 422 492 425.6 C490.7 429.2 494.1 433.6 492 435.8 C489.9 438.1 484.3 438.7 479.6 439.1 C474.9 439.5 469.1 437.2 463.9 438 C458.6 438.8 453 441.5 448.1 443.6 C443.2 445.7 439.5 449.3 434.6 450.4 C429.7 451.5 423.4 451.5 418.9 450.4 C414.4 449.3 411.4 446.6 407.7 443.6 C403.9 440.6 400.5 435.6 396.4 432.4 C392.3 429.2 386.1 427.5 382.9 424.5 C379.7 421.5 377.3 418.3 377.3 414.4 C377.3 410.5 381.2 405.4 382.9 400.9 C384.6 396.4 387 391.9 387.4 387.4 C387.8 382.9 384.4 377.3 385.2 373.9 C385.9 370.5 388.5 368.7 391.9 367.2 C395.3 365.7 400.9 366.4 405.4 364.9 C409.9 363.4 412.5 360.6 418.9 358.2Z" fill="none" stroke="#9595c9" stroke-width="12.5" stroke-linejoin="round"/>
<ellipse cx="439.9" cy="367.2" rx="8" ry="7.4" fill="url(#gTum)"/>
<ellipse cx="412.9" cy="384.7" rx="10" ry="9.3" fill="url(#gTum)"/>
<ellipse cx="452.2" cy="384.7" rx="10" ry="9.3" fill="url(#gTum)"/>
<ellipse cx="484" cy="390.8" rx="10" ry="9.3" fill="url(#gTum)"/>
<ellipse cx="405.7" cy="412.4" rx="8.5" ry="7.9" fill="url(#gTum)"/>
<ellipse cx="429.8" cy="411" rx="10.5" ry="9.8" fill="url(#gTum)"/>
<ellipse cx="465.7" cy="413.3" rx="9.5" ry="8.8" fill="url(#gTum)"/>
<ellipse cx="430" cy="432.4" rx="10" ry="9.3" fill="url(#gTum)"/>
</g>
<text transform="translate(118.17 475.2) scale(1.0168 1)" font-size="22.5" >Normal cells: Safe</text>
<text transform="translate(352.94 475.2) scale(1.0157 1)" font-size="22.5" >Tumor cells: Death</text>
</g>
<g id="panelB">
<defs><filter id="blurN" x="-5%" y="-5%" width="110%" height="110%"><feGaussianBlur stdDeviation="0.8"/></filter><filter id="blurG" x="-5%" y="-5%" width="110%" height="110%"><feGaussianBlur stdDeviation="1.3"/></filter></defs>
<text transform="translate(657.9 47.3) scale(1.0136 1)" font-size="28.4" >B</text>
<text transform="translate(731.96 51.6) scale(1.0217 1)" font-size="22.3" >C6</text>
<text transform="translate(763.41 51.6) scale(1.0261 1)" font-size="22.3" >sol</text>
<text transform="translate(877.03 51.6) scale(0.9903 1)" font-size="22.3" >PDONα</text>
<text transform="translate(1035.69 51.6) scale(1.0148 1)" font-size="22.3" >PDONβ</text>
<text transform="translate(1190.76 51.5) scale(0.9756 1)" font-size="22.3" >PDONγ</text>
<text transform="translate(600.74 140.7) scale(0.9883 1)" font-size="22.3" >Hoechst</text>
<text transform="translate(628.05 291.9) scale(1.0331 1)" font-size="22.3" >C6</text>
<text transform="translate(613.2 443.1) scale(1.0110 1)" font-size="22.3" >Merge</text>
<clipPath id="c00"><rect x="0" y="0" width="131.2" height="131"/></clipPath><g transform="translate(688.4 58.2)"><rect x="0" y="0" width="131.2" height="131" fill="#0a0606"/><g clip-path="url(#c00)"><g filter="url(#blurN)"><ellipse cx="66" cy="60.9" rx="6" ry="3.6" fill="#1a45b8" opacity="0.9" transform="rotate(-20 66 60.9)"/><ellipse cx="82.3" cy="60.9" rx="6.8" ry="4.8" fill="#1a45b8" opacity="0.9" transform="rotate(0 82.3 60.9)"/><ellipse cx="52.5" cy="69.3" rx="5.3" ry="5.3" fill="#1a45b8" opacity="0.9" transform="rotate(0 52.5 69.3)"/><ellipse cx="61.3" cy="72" rx="4.1" ry="4.8" fill="#1a45b8" opacity="0.9" transform="rotate(0 61.3 72)"/><ellipse cx="69.5" cy="71.6" rx="4.1" ry="4.8" fill="#1a45b8" opacity="0.9" transform="rotate(0 69.5 71.6)"/><ellipse cx="83.9" cy="68.1" rx="6" ry="3.6" fill="#1a45b8" opacity="0.9" transform="rotate(0 83.9 68.1)"/><ellipse cx="83.9" cy="74.4" rx="6" ry="3.6" fill="#1a45b8" opacity="0.9" transform="rotate(0 83.9 74.4)"/><ellipse cx="106" cy="70.9" rx="6.8" ry="4.8" fill="#1a45b8" opacity="0.9" transform="rotate(0 106 70.9)"/><ellipse cx="41.1" cy="82.5" rx="6.5" ry="5.3" fill="#1a45b8" opacity="0.9" transform="rotate(-20 41.1 82.5)"/><ellipse cx="57.9" cy="86.7" rx="5.3" ry="4.8" fill="#1a45b8" opacity="0.9" transform="rotate(0 57.9 86.7)"/><ellipse cx="81.1" cy="86" rx="7.3" ry="5.6" fill="#1a45b8" opacity="0.9" transform="rotate(-20 81.1 86)"/><ellipse cx="62" cy="94.1" rx="6" ry="4.1" fill="#1a45b8" opacity="0.8" transform="rotate(0 62 94.1)"/></g></g></g>
<clipPath id="c01"><rect x="0" y="0" width="131.2" height="131"/></clipPath><g transform="translate(845.3 58.2)"><rect x="0" y="0" width="131.2" height="131" fill="#0a0606"/><g clip-path="url(#c01)"><g filter="url(#blurN)"><ellipse cx="5.6" cy="27.9" rx="5.3" ry="6.8" fill="#1a45b8" opacity="0.9" transform="rotate(0 5.6 27.9)"/><ellipse cx="13.7" cy="34.9" rx="4.4" ry="4.8" fill="#1a45b8" opacity="0.7" transform="rotate(0 13.7 34.9)"/><ellipse cx="13.2" cy="44.9" rx="4.4" ry="4.8" fill="#1a45b8" opacity="0.5" transform="rotate(0 13.2 44.9)"/><ellipse cx="43.9" cy="24.4" rx="4.4" ry="4.8" fill="#1a45b8" opacity="0.9" transform="rotate(0 43.9 24.4)"/><ellipse cx="52.8" cy="22.1" rx="3.6" ry="5.3" fill="#1a45b8" opacity="0.9" transform="rotate(20 52.8 22.1)"/><ellipse cx="70.6" cy="25.1" rx="4.4" ry="4.8" fill="#1a45b8" opacity="0.9" transform="rotate(0 70.6 25.1)"/><ellipse cx="78.8" cy="25.1" rx="3.6" ry="4.8" fill="#1a45b8" opacity="0.9" transform="rotate(0 78.8 25.1)"/><ellipse cx="43.2" cy="35.3" rx="6" ry="4.8" fill="#1a45b8" opacity="0.9" transform="rotate(0 43.2 35.3)"/><ellipse cx="54.4" cy="35.3" rx="4.8" ry="6" fill="#1a45b8" opacity="0.9" transform="rotate(0 54.4 35.3)"/><ellipse cx="71.8" cy="34.4" rx="6" ry="4.4" fill="#1a45b8" opacity="0.9" transform="rotate(20 71.8 34.4)"/><ellipse cx="83.9" cy="33.7" rx="4.8" ry="4.1" fill="#1a45b8" opacity="0.9" transform="rotate(20 83.9 33.7)"/><ellipse cx="63.7" cy="45.8" rx="5.8" ry="4.8" fill="#1a45b8" opacity="0.9" transform="rotate(-20 63.7 45.8)"/><ellipse cx="71.8" cy="44.2" rx="4.8" ry="4.4" fill="#1a45b8" opacity="0.9" transform="rotate(0 71.8 44.2)"/><ellipse cx="67.2" cy="51.8" rx="4.8" ry="4.4" fill="#1a45b8" opacity="0.9" transform="rotate(0 67.2 51.8)"/><ellipse cx="81.1" cy="50" rx="4.8" ry="5.3" fill="#1a45b8" opacity="0.9" transform="rotate(0 81.1 50)"/><ellipse cx="86.2" cy="41.8" rx="4.8" ry="5.3" fill="#1a45b8" opacity="0.9" transform="rotate(0 86.2 41.8)"/><ellipse cx="41.6" cy="49.5" rx="6" ry="6" fill="#1a45b8" opacity="0.9" transform="rotate(0 41.6 49.5)"/><ellipse cx="35.1" cy="62.3" rx="6" ry="6" fill="#1a45b8" opacity="0.9" transform="rotate(0 35.1 62.3)"/><ellipse cx="60.2" cy="58.6" rx="5.3" ry="4.8" fill="#1a45b8" opacity="0.9" transform="rotate(0 60.2 58.6)"/><ellipse cx="79.5" cy="59.3" rx="6.8" ry="3.6" fill="#1a45b8" opacity="0.9" transform="rotate(-20 79.5 59.3)"/><ellipse cx="95" cy="27.9" rx="4.8" ry="4.8" fill="#1a45b8" opacity="0.4" transform="rotate(0 95 27.9)"/><ellipse cx="96.2" cy="39" rx="5.3" ry="4.1" fill="#1a45b8" opacity="0.4" transform="rotate(0 96.2 39)"/><ellipse cx="111.3" cy="11.6" rx="6" ry="4.8" fill="#1a45b8" opacity="0.9" transform="rotate(0 111.3 11.6)"/><ellipse cx="122.9" cy="15.1" rx="4.8" ry="5.3" fill="#1a45b8" opacity="0.9" transform="rotate(0 122.9 15.1)"/><ellipse cx="109" cy="23.2" rx="7.3" ry="6" fill="#1a45b8" opacity="0.8" transform="rotate(0 109 23.2)"/><ellipse cx="118.3" cy="38.3" rx="5.3" ry="7.3" fill="#1a45b8" opacity="0.9" transform="rotate(0 118.3 38.3)"/><ellipse cx="128.7" cy="30.2" rx="2.9" ry="5.3" fill="#1a45b8" opacity="0.9" transform="rotate(0 128.7 30.2)"/><ellipse cx="109.7" cy="51.8" rx="3.6" ry="4.4" fill="#1a45b8" opacity="0.9" transform="rotate(0 109.7 51.8)"/><ellipse cx="122.2" cy="55.3" rx="5.3" ry="5.3" fill="#1a45b8" opacity="0.9" transform="rotate(0 122.2 55.3)"/><ellipse cx="97.4" cy="2.3" rx="7.3" ry="2.4" fill="#1a45b8" opacity="0.9" transform="rotate(0 97.4 2.3)"/><ellipse cx="113.6" cy="2.3" rx="4.8" ry="2.9" fill="#1a45b8" opacity="0.9" transform="rotate(0 113.6 2.3)"/><ellipse cx="128" cy="7" rx="2.4" ry="4.8" fill="#1a45b8" opacity="0.9" transform="rotate(0 128 7)"/><ellipse cx="53.7" cy="82.5" rx="4.8" ry="6.5" fill="#1a45b8" opacity="0.9" transform="rotate(0 53.7 82.5)"/><ellipse cx="67.2" cy="82.5" rx="5.3" ry="5.3" fill="#1a45b8" opacity="0.9" transform="rotate(20 67.2 82.5)"/><ellipse cx="52.1" cy="97.6" rx="6" ry="4.8" fill="#1a45b8" opacity="0.4" transform="rotate(0 52.1 97.6)"/><ellipse cx="62.5" cy="103.9" rx="6" ry="5.3" fill="#1a45b8" opacity="0.9" transform="rotate(0 62.5 103.9)"/><ellipse cx="71.3" cy="103.4" rx="3.6" ry="3.6" fill="#1a45b8" opacity="0.4" transform="rotate(0 71.3 103.4)"/><ellipse cx="51.4" cy="117.4" rx="5.3" ry="5.3" fill="#1a45b8" opacity="0.9" transform="rotate(0 51.4 117.4)"/><ellipse cx="128" cy="93.4" rx="3.4" ry="5.3" fill="#1a45b8" opacity="0.9" transform="rotate(0 128 93.4)"/><ellipse cx="83.4" cy="120.8" rx="5.3" ry="2.9" fill="#1a45b8" opacity="0.5" transform="rotate(0 83.4 120.8)"/><ellipse cx="85.8" cy="127.8" rx="4.8" ry="2.9" fill="#1a45b8" opacity="0.6" transform="rotate(0 85.8 127.8)"/></g></g></g>
<clipPath id="c02"><rect x="0" y="0" width="131.2" height="131"/></clipPath><g transform="translate(1001.8 58.2)"><rect x="0" y="0" width="131.2" height="131" fill="#0a0606"/><g clip-path="url(#c02)"><g filter="url(#blurN)"><ellipse cx="69.7" cy="7.7" rx="5.3" ry="6.8" fill="#1a45b8" opacity="0.9" transform="rotate(0 69.7 7.7)"/><ellipse cx="105" cy="16.3" rx="4.4" ry="5.3" fill="#1a45b8" opacity="0.9" transform="rotate(0 105 16.3)"/><ellipse cx="61.6" cy="24.4" rx="6" ry="4.8" fill="#1a45b8" opacity="0.6" transform="rotate(0 61.6 24.4)"/><ellipse cx="79.7" cy="21.6" rx="6.8" ry="4.8" fill="#1a45b8" opacity="0.9" transform="rotate(0 79.7 21.6)"/><ellipse cx="88.3" cy="27.9" rx="4.4" ry="6" fill="#1a45b8" opacity="0.9" transform="rotate(0 88.3 27.9)"/><ellipse cx="73.9" cy="28.6" rx="4.4" ry="6" fill="#1a45b8" opacity="0.9" transform="rotate(0 73.9 28.6)"/><ellipse cx="69.7" cy="36.7" rx="5.3" ry="5.3" fill="#1a45b8" opacity="0.6" transform="rotate(0 69.7 36.7)"/><ellipse cx="82.5" cy="36.5" rx="4.8" ry="5.3" fill="#1a45b8" opacity="0.9" transform="rotate(0 82.5 36.5)"/><ellipse cx="84.1" cy="46.9" rx="5.3" ry="5.3" fill="#1a45b8" opacity="0.9" transform="rotate(0 84.1 46.9)"/><ellipse cx="95.7" cy="44.2" rx="5.3" ry="5.3" fill="#1a45b8" opacity="0.6" transform="rotate(0 95.7 44.2)"/><ellipse cx="75.5" cy="51.8" rx="6" ry="7.3" fill="#1a45b8" opacity="0.9" transform="rotate(0 75.5 51.8)"/><ellipse cx="103.9" cy="51.1" rx="5.3" ry="3.6" fill="#1a45b8" opacity="0.9" transform="rotate(-40 103.9 51.1)"/><ellipse cx="19.8" cy="69.7" rx="7.3" ry="3.6" fill="#1a45b8" opacity="0.9" transform="rotate(25 19.8 69.7)"/><ellipse cx="31.8" cy="79" rx="6.5" ry="4.4" fill="#1a45b8" opacity="0.8" transform="rotate(20 31.8 79)"/><ellipse cx="2.8" cy="82.5" rx="3.6" ry="4.8" fill="#1a45b8" opacity="0.9" transform="rotate(0 2.8 82.5)"/><ellipse cx="43" cy="95.3" rx="5.3" ry="6.5" fill="#1a45b8" opacity="0.9" transform="rotate(0 43 95.3)"/><ellipse cx="53" cy="102.7" rx="5.3" ry="5.3" fill="#1a45b8" opacity="0.9" transform="rotate(0 53 102.7)"/><ellipse cx="60.4" cy="111.1" rx="4.8" ry="4.8" fill="#1a45b8" opacity="0.9" transform="rotate(0 60.4 111.1)"/><ellipse cx="66.2" cy="119.7" rx="5.3" ry="4.8" fill="#1a45b8" opacity="0.9" transform="rotate(0 66.2 119.7)"/><ellipse cx="123.6" cy="108.5" rx="6.5" ry="7.3" fill="#1a45b8" opacity="0.9" transform="rotate(0 123.6 108.5)"/><ellipse cx="125.5" cy="129.4" rx="7.3" ry="2.4" fill="#1a45b8" opacity="0.9" transform="rotate(0 125.5 129.4)"/></g></g></g>
<clipPath id="c03"><rect x="0" y="0" width="130.7" height="131"/></clipPath><g transform="translate(1158.1 58.2)"><rect x="0" y="0" width="130.7" height="131" fill="#0a0606"/><g clip-path="url(#c03)"><g filter="url(#blurN)"><ellipse cx="53.9" cy="2.3" rx="3.6" ry="2.4" fill="#1a45b8" opacity="0.5" transform="rotate(0 53.9 2.3)"/><ellipse cx="64.4" cy="5.3" rx="4.4" ry="5.3" fill="#1a45b8" opacity="0.8" transform="rotate(0 64.4 5.3)"/><ellipse cx="83" cy="11.6" rx="6.8" ry="7.3" fill="#1a45b8" opacity="0.9" transform="rotate(0 83 11.6)"/><ellipse cx="62" cy="18.6" rx="7.3" ry="7.3" fill="#1a45b8" opacity="0.5" transform="rotate(0 62 18.6)"/><ellipse cx="104.3" cy="16.3" rx="4.4" ry="4.4" fill="#1a45b8" opacity="0.9" transform="rotate(0 104.3 16.3)"/><ellipse cx="108.5" cy="19.8" rx="2.9" ry="3.6" fill="#1a45b8" opacity="0.8" transform="rotate(0 108.5 19.8)"/><ellipse cx="120.1" cy="7" rx="4.4" ry="2.4" fill="#1a45b8" opacity="0.9" transform="rotate(-45 120.1 7)"/><ellipse cx="56.2" cy="35.3" rx="5.3" ry="5.3" fill="#1a45b8" opacity="0.9" transform="rotate(0 56.2 35.3)"/><ellipse cx="66.7" cy="33.7" rx="4.4" ry="4.4" fill="#1a45b8" opacity="0.5" transform="rotate(0 66.7 33.7)"/><ellipse cx="74.8" cy="47.6" rx="3.6" ry="3.6" fill="#1a45b8" opacity="0.3" transform="rotate(0 74.8 47.6)"/><ellipse cx="66.7" cy="58.1" rx="4.8" ry="5.3" fill="#1a45b8" opacity="0.9" transform="rotate(0 66.7 58.1)"/><ellipse cx="93.4" cy="52.8" rx="7.3" ry="6" fill="#1a45b8" opacity="0.9" transform="rotate(0 93.4 52.8)"/><ellipse cx="108.5" cy="57.4" rx="4.8" ry="6" fill="#1a45b8" opacity="0.9" transform="rotate(0 108.5 57.4)"/><ellipse cx="95.7" cy="61.6" rx="6.5" ry="6.5" fill="#1a45b8" opacity="0.9" transform="rotate(0 95.7 61.6)"/><ellipse cx="105" cy="73.2" rx="7.3" ry="6" fill="#1a45b8" opacity="0.9" transform="rotate(0 105 73.2)"/><ellipse cx="87.6" cy="72.5" rx="5.3" ry="6.5" fill="#1a45b8" opacity="0.9" transform="rotate(20 87.6 72.5)"/><ellipse cx="66.7" cy="75.5" rx="7.3" ry="8.5" fill="#1a45b8" opacity="0.9" transform="rotate(0 66.7 75.5)"/><ellipse cx="69" cy="87.1" rx="4.8" ry="6.5" fill="#1a45b8" opacity="0.9" transform="rotate(0 69 87.1)"/><ellipse cx="54.4" cy="86.7" rx="4.8" ry="6.5" fill="#1a45b8" opacity="0.9" transform="rotate(0 54.4 86.7)"/><ellipse cx="83.4" cy="86" rx="4.8" ry="4.4" fill="#1a45b8" opacity="0.9" transform="rotate(0 83.4 86)"/><ellipse cx="17.9" cy="74.4" rx="4.8" ry="3.6" fill="#1a45b8" opacity="0.4" transform="rotate(0 17.9 74.4)"/><ellipse cx="12.5" cy="81.8" rx="4.8" ry="5.3" fill="#1a45b8" opacity="0.4" transform="rotate(0 12.5 81.8)"/><ellipse cx="28.4" cy="80.2" rx="3.6" ry="3.6" fill="#1a45b8" opacity="0.3" transform="rotate(0 28.4 80.2)"/><ellipse cx="24.9" cy="88.3" rx="4.8" ry="4.8" fill="#1a45b8" opacity="0.4" transform="rotate(0 24.9 88.3)"/><ellipse cx="36" cy="95.3" rx="6" ry="6" fill="#1a45b8" opacity="0.4" transform="rotate(0 36 95.3)"/><ellipse cx="51.6" cy="103.4" rx="5.3" ry="7.3" fill="#1a45b8" opacity="0.4" transform="rotate(0 51.6 103.4)"/><ellipse cx="64.4" cy="97.6" rx="6" ry="6" fill="#1a45b8" opacity="0.4" transform="rotate(0 64.4 97.6)"/></g></g></g>
<clipPath id="c10"><rect x="0" y="0" width="131.2" height="131"/></clipPath><g transform="translate(688.4 211.3)"><rect x="0" y="0" width="131.2" height="131" fill="#0a0606"/><g clip-path="url(#c10)"><g filter="url(#blurG)"><ellipse cx="66" cy="60.9" rx="9" ry="6.6" fill="#2fc42a" opacity="0.13" transform="rotate(-20 66 60.9)"/><ellipse cx="82.3" cy="60.9" rx="9.8" ry="7.8" fill="#2fc42a" opacity="0.13" transform="rotate(0 82.3 60.9)"/><ellipse cx="52.5" cy="69.3" rx="8.3" ry="8.3" fill="#2fc42a" opacity="0.13" transform="rotate(0 52.5 69.3)"/><ellipse cx="61.3" cy="72" rx="7.1" ry="7.8" fill="#2fc42a" opacity="0.13" transform="rotate(0 61.3 72)"/><ellipse cx="69.5" cy="71.6" rx="7.1" ry="7.8" fill="#2fc42a" opacity="0.13" transform="rotate(0 69.5 71.6)"/><ellipse cx="83.9" cy="68.1" rx="9" ry="6.6" fill="#2fc42a" opacity="0.13" transform="rotate(0 83.9 68.1)"/><ellipse cx="83.9" cy="74.4" rx="9" ry="6.6" fill="#2fc42a" opacity="0.13" transform="rotate(0 83.9 74.4)"/><ellipse cx="106" cy="70.9" rx="9.8" ry="7.8" fill="#2fc42a" opacity="0.13" transform="rotate(0 106 70.9)"/><ellipse cx="41.1" cy="82.5" rx="9.5" ry="8.3" fill="#2fc42a" opacity="0.13" transform="rotate(-20 41.1 82.5)"/><ellipse cx="57.9" cy="86.7" rx="8.3" ry="7.8" fill="#2fc42a" opacity="0.13" transform="rotate(0 57.9 86.7)"/><ellipse cx="81.1" cy="86" rx="10.3" ry="8.6" fill="#2fc42a" opacity="0.13" transform="rotate(-20 81.1 86)"/><ellipse cx="62" cy="94.1" rx="9" ry="7.1" fill="#2fc42a" opacity="0.13" transform="rotate(0 62 94.1)"/></g></g></g>
<clipPath id="c11"><rect x="0" y="0" width="131.2" height="131"/></clipPath><g transform="translate(845.3 211.3)"><rect x="0" y="0" width="131.2" height="131" fill="#0a0606"/><g clip-path="url(#c11)"><g filter="url(#blurG)"><ellipse cx="73.6" cy="47.3" rx="21.3" ry="19.3" fill="#40d834" opacity="0.9" transform="rotate(0 73.6 47.3)"/><ellipse cx="119.1" cy="15.1" rx="16.1" ry="18" fill="#40d834" opacity="1" transform="rotate(0 119.1 15.1)"/><ellipse cx="118" cy="35.1" rx="15.5" ry="11.6" fill="#40d834" opacity="0.8" transform="rotate(0 118 35.1)"/><ellipse cx="9.1" cy="36.2" rx="11" ry="18" fill="#40d834" opacity="0.6" transform="rotate(0 9.1 36.2)"/><ellipse cx="51.3" cy="25.1" rx="8.4" ry="8.4" fill="#40d834" opacity="0.7" transform="rotate(0 51.3 25.1)"/><ellipse cx="72.4" cy="24" rx="9.7" ry="5.8" fill="#40d834" opacity="0.8" transform="rotate(0 72.4 24)"/><ellipse cx="42.4" cy="49.6" rx="9.7" ry="9.7" fill="#40d834" opacity="0.4" transform="rotate(0 42.4 49.6)"/><ellipse cx="36.9" cy="62.9" rx="9.7" ry="8.4" fill="#40d834" opacity="0.4" transform="rotate(0 36.9 62.9)"/><ellipse cx="98" cy="31.8" rx="9.7" ry="12.9" fill="#40d834" opacity="0.6" transform="rotate(0 98 31.8)"/><ellipse cx="110.2" cy="51.8" rx="5.2" ry="5.8" fill="#40d834" opacity="0.5" transform="rotate(0 110.2 51.8)"/><ellipse cx="123.6" cy="56.2" rx="8.4" ry="11" fill="#40d834" opacity="0.6" transform="rotate(0 123.6 56.2)"/><ellipse cx="52.4" cy="80.7" rx="6.4" ry="9" fill="#40d834" opacity="0.5" transform="rotate(0 52.4 80.7)"/><ellipse cx="69.1" cy="82.9" rx="8.4" ry="9.7" fill="#40d834" opacity="0.6" transform="rotate(0 69.1 82.9)"/><ellipse cx="72.4" cy="87.3" rx="3.9" ry="5.2" fill="#40d834" opacity="0.9" transform="rotate(0 72.4 87.3)"/><ellipse cx="52.4" cy="96.2" rx="8.4" ry="8.4" fill="#40d834" opacity="0.8" transform="rotate(0 52.4 96.2)"/><ellipse cx="64.7" cy="105.1" rx="7.1" ry="7.1" fill="#40d834" opacity="0.6" transform="rotate(0 64.7 105.1)"/><ellipse cx="51.3" cy="116.2" rx="9" ry="9.7" fill="#40d834" opacity="0.5" transform="rotate(0 51.3 116.2)"/><ellipse cx="84.7" cy="121.8" rx="9" ry="7.1" fill="#40d834" opacity="0.4" transform="rotate(0 84.7 121.8)"/><ellipse cx="126.9" cy="92.9" rx="6.4" ry="7.7" fill="#40d834" opacity="0.6" transform="rotate(0 126.9 92.9)"/><ellipse cx="93.6" cy="4" rx="7.7" ry="3.9" fill="#40d834" opacity="0.3" transform="rotate(0 93.6 4)"/></g><g filter="url(#blurN)"><ellipse cx="5.6" cy="27.9" rx="4.5" ry="5.8" fill="#062306" opacity="0.5" transform="rotate(0 5.6 27.9)"/><ellipse cx="13.7" cy="34.9" rx="3.7" ry="4.1" fill="#062306" opacity="0.5" transform="rotate(0 13.7 34.9)"/><ellipse cx="13.2" cy="44.9" rx="3.7" ry="4.1" fill="#062306" opacity="0.5" transform="rotate(0 13.2 44.9)"/><ellipse cx="43.9" cy="24.4" rx="3.7" ry="4.1" fill="#062306" opacity="0.5" transform="rotate(0 43.9 24.4)"/><ellipse cx="52.8" cy="22.1" rx="3.1" ry="4.5" fill="#062306" opacity="0.5" transform="rotate(20 52.8 22.1)"/><ellipse cx="70.6" cy="25.1" rx="3.7" ry="4.1" fill="#062306" opacity="0.5" transform="rotate(0 70.6 25.1)"/><ellipse cx="78.8" cy="25.1" rx="3.1" ry="4.1" fill="#062306" opacity="0.5" transform="rotate(0 78.8 25.1)"/><ellipse cx="43.2" cy="35.3" rx="5.1" ry="4.1" fill="#062306" opacity="0.5" transform="rotate(0 43.2 35.3)"/><ellipse cx="54.4" cy="35.3" rx="4.1" ry="5.1" fill="#062306" opacity="0.5" transform="rotate(0 54.4 35.3)"/><ellipse cx="71.8" cy="34.4" rx="5.1" ry="3.7" fill="#062306" opacity="0.5" transform="rotate(20 71.8 34.4)"/><ellipse cx="83.9" cy="33.7" rx="4.1" ry="3.5" fill="#062306" opacity="0.5" transform="rotate(20 83.9 33.7)"/><ellipse cx="63.7" cy="45.8" rx="4.9" ry="4.1" fill="#062306" opacity="0.5" transform="rotate(-20 63.7 45.8)"/><ellipse cx="71.8" cy="44.2" rx="4.1" ry="3.7" fill="#062306" opacity="0.5" transform="rotate(0 71.8 44.2)"/><ellipse cx="67.2" cy="51.8" rx="4.1" ry="3.7" fill="#062306" opacity="0.5" transform="rotate(0 67.2 51.8)"/><ellipse cx="81.1" cy="50" rx="4.1" ry="4.5" fill="#062306" opacity="0.5" transform="rotate(0 81.1 50)"/><ellipse cx="86.2" cy="41.8" rx="4.1" ry="4.5" fill="#062306" opacity="0.5" transform="rotate(0 86.2 41.8)"/><ellipse cx="41.6" cy="49.5" rx="5.1" ry="5.1" fill="#062306" opacity="0.5" transform="rotate(0 41.6 49.5)"/><ellipse cx="35.1" cy="62.3" rx="5.1" ry="5.1" fill="#062306" opacity="0.5" transform="rotate(0 35.1 62.3)"/><ellipse cx="60.2" cy="58.6" rx="4.5" ry="4.1" fill="#062306" opacity="0.5" transform="rotate(0 60.2 58.6)"/><ellipse cx="79.5" cy="59.3" rx="5.8" ry="3.1" fill="#062306" opacity="0.5" transform="rotate(-20 79.5 59.3)"/><ellipse cx="95" cy="27.9" rx="4.1" ry="4.1" fill="#062306" opacity="0.5" transform="rotate(0 95 27.9)"/><ellipse cx="96.2" cy="39" rx="4.5" ry="3.5" fill="#062306" opacity="0.5" transform="rotate(0 96.2 39)"/><ellipse cx="111.3" cy="11.6" rx="5.1" ry="4.1" fill="#062306" opacity="0.5" transform="rotate(0 111.3 11.6)"/><ellipse cx="122.9" cy="15.1" rx="4.1" ry="4.5" fill="#062306" opacity="0.5" transform="rotate(0 122.9 15.1)"/><ellipse cx="109" cy="23.2" rx="6.2" ry="5.1" fill="#062306" opacity="0.5" transform="rotate(0 109 23.2)"/><ellipse cx="118.3" cy="38.3" rx="4.5" ry="6.2" fill="#062306" opacity="0.5" transform="rotate(0 118.3 38.3)"/><ellipse cx="128.7" cy="30.2" rx="2.5" ry="4.5" fill="#062306" opacity="0.5" transform="rotate(0 128.7 30.2)"/><ellipse cx="109.7" cy="51.8" rx="3.1" ry="3.7" fill="#062306" opacity="0.5" transform="rotate(0 109.7 51.8)"/><ellipse cx="122.2" cy="55.3" rx="4.5" ry="4.5" fill="#062306" opacity="0.5" transform="rotate(0 122.2 55.3)"/><ellipse cx="97.4" cy="2.3" rx="6.2" ry="2.1" fill="#062306" opacity="0.5" transform="rotate(0 97.4 2.3)"/><ellipse cx="113.6" cy="2.3" rx="4.1" ry="2.5" fill="#062306" opacity="0.5" transform="rotate(0 113.6 2.3)"/><ellipse cx="128" cy="7" rx="2.1" ry="4.1" fill="#062306" opacity="0.5" transform="rotate(0 128 7)"/><ellipse cx="53.7" cy="82.5" rx="4.1" ry="5.5" fill="#062306" opacity="0.5" transform="rotate(0 53.7 82.5)"/><ellipse cx="67.2" cy="82.5" rx="4.5" ry="4.5" fill="#062306" opacity="0.5" transform="rotate(20 67.2 82.5)"/><ellipse cx="52.1" cy="97.6" rx="5.1" ry="4.1" fill="#062306" opacity="0.5" transform="rotate(0 52.1 97.6)"/><ellipse cx="62.5" cy="103.9" rx="5.1" ry="4.5" fill="#062306" opacity="0.5" transform="rotate(0 62.5 103.9)"/><ellipse cx="71.3" cy="103.4" rx="3.1" ry="3.1" fill="#062306" opacity="0.5" transform="rotate(0 71.3 103.4)"/><ellipse cx="51.4" cy="117.4" rx="4.5" ry="4.5" fill="#062306" opacity="0.5" transform="rotate(0 51.4 117.4)"/><ellipse cx="128" cy="93.4" rx="2.9" ry="4.5" fill="#062306" opacity="0.5" transform="rotate(0 128 93.4)"/><ellipse cx="83.4" cy="120.8" rx="4.5" ry="2.5" fill="#062306" opacity="0.5" transform="rotate(0 83.4 120.8)"/><ellipse cx="85.8" cy="127.8" rx="4.1" ry="2.5" fill="#062306" opacity="0.5" transform="rotate(0 85.8 127.8)"/></g></g></g>
<clipPath id="c12"><rect x="0" y="0" width="131.2" height="131"/></clipPath><g transform="translate(1001.8 210.6)"><rect x="0" y="0" width="131.2" height="131" fill="#0a0606"/><g clip-path="url(#c12)"><g filter="url(#blurG)"><ellipse cx="70.8" cy="7.3" rx="9" ry="9.7" fill="#40d834" opacity="0.7" transform="rotate(0 70.8 7.3)"/><ellipse cx="74.7" cy="8.4" rx="3.9" ry="6.4" fill="#40d834" opacity="0.9" transform="rotate(0 74.7 8.4)"/><ellipse cx="104.1" cy="16.2" rx="7.7" ry="9" fill="#40d834" opacity="0.8" transform="rotate(0 104.1 16.2)"/><ellipse cx="61.3" cy="21.8" rx="9" ry="7.1" fill="#40d834" opacity="0.6" transform="rotate(0 61.3 21.8)"/><ellipse cx="78" cy="22.9" rx="10.3" ry="7.7" fill="#40d834" opacity="0.6" transform="rotate(0 78 22.9)"/><ellipse cx="86.9" cy="29.6" rx="7.1" ry="11" fill="#40d834" opacity="0.8" transform="rotate(0 86.9 29.6)"/><ellipse cx="68" cy="36.2" rx="8.4" ry="8.4" fill="#40d834" opacity="0.6" transform="rotate(0 68 36.2)"/><ellipse cx="80.2" cy="36.2" rx="6.4" ry="6.4" fill="#40d834" opacity="0.4" transform="rotate(0 80.2 36.2)"/><ellipse cx="75.8" cy="52.9" rx="9.7" ry="10.3" fill="#40d834" opacity="0.7" transform="rotate(0 75.8 52.9)"/><ellipse cx="96.9" cy="46.2" rx="11.6" ry="8.4" fill="#40d834" opacity="0.7" transform="rotate(0 96.9 46.2)"/><ellipse cx="16.9" cy="67.3" rx="9" ry="5.2" fill="#40d834" opacity="0.4" transform="rotate(30 16.9 67.3)"/><ellipse cx="29.1" cy="77.3" rx="7.7" ry="6.4" fill="#40d834" opacity="0.4" transform="rotate(0 29.1 77.3)"/><ellipse cx="4.1" cy="82.3" rx="5.2" ry="6.4" fill="#40d834" opacity="0.7" transform="rotate(0 4.1 82.3)"/><ellipse cx="43.6" cy="88.4" rx="7.7" ry="5.2" fill="#40d834" opacity="0.4" transform="rotate(0 43.6 88.4)"/><ellipse cx="52.4" cy="101.8" rx="8.4" ry="7.7" fill="#40d834" opacity="0.7" transform="rotate(0 52.4 101.8)"/><ellipse cx="63.6" cy="117.3" rx="9.7" ry="8.4" fill="#40d834" opacity="0.7" transform="rotate(0 63.6 117.3)"/><ellipse cx="122.4" cy="107.3" rx="8.4" ry="11.6" fill="#40d834" opacity="0.7" transform="rotate(0 122.4 107.3)"/><ellipse cx="123.6" cy="126.2" rx="10.3" ry="6.4" fill="#40d834" opacity="0.8" transform="rotate(0 123.6 126.2)"/></g><g filter="url(#blurN)"><ellipse cx="69.7" cy="7.7" rx="4.5" ry="5.8" fill="#062306" opacity="0.5" transform="rotate(0 69.7 7.7)"/><ellipse cx="105" cy="16.3" rx="3.7" ry="4.5" fill="#062306" opacity="0.5" transform="rotate(0 105 16.3)"/><ellipse cx="61.6" cy="24.4" rx="5.1" ry="4.1" fill="#062306" opacity="0.5" transform="rotate(0 61.6 24.4)"/><ellipse cx="79.7" cy="21.6" rx="5.8" ry="4.1" fill="#062306" opacity="0.5" transform="rotate(0 79.7 21.6)"/><ellipse cx="88.3" cy="27.9" rx="3.7" ry="5.1" fill="#062306" opacity="0.5" transform="rotate(0 88.3 27.9)"/><ellipse cx="73.9" cy="28.6" rx="3.7" ry="5.1" fill="#062306" opacity="0.5" transform="rotate(0 73.9 28.6)"/><ellipse cx="69.7" cy="36.7" rx="4.5" ry="4.5" fill="#062306" opacity="0.5" transform="rotate(0 69.7 36.7)"/><ellipse cx="82.5" cy="36.5" rx="4.1" ry="4.5" fill="#062306" opacity="0.5" transform="rotate(0 82.5 36.5)"/><ellipse cx="84.1" cy="46.9" rx="4.5" ry="4.5" fill="#062306" opacity="0.5" transform="rotate(0 84.1 46.9)"/><ellipse cx="95.7" cy="44.2" rx="4.5" ry="4.5" fill="#062306" opacity="0.5" transform="rotate(0 95.7 44.2)"/><ellipse cx="75.5" cy="51.8" rx="5.1" ry="6.2" fill="#062306" opacity="0.5" transform="rotate(0 75.5 51.8)"/><ellipse cx="103.9" cy="51.1" rx="4.5" ry="3.1" fill="#062306" opacity="0.5" transform="rotate(-40 103.9 51.1)"/><ellipse cx="19.8" cy="69.7" rx="6.2" ry="3.1" fill="#062306" opacity="0.5" transform="rotate(25 19.8 69.7)"/><ellipse cx="31.8" cy="79" rx="5.5" ry="3.7" fill="#062306" opacity="0.5" transform="rotate(20 31.8 79)"/><ellipse cx="2.8" cy="82.5" rx="3.1" ry="4.1" fill="#062306" opacity="0.5" transform="rotate(0 2.8 82.5)"/><ellipse cx="43" cy="95.3" rx="4.5" ry="5.5" fill="#062306" opacity="0.5" transform="rotate(0 43 95.3)"/><ellipse cx="53" cy="102.7" rx="4.5" ry="4.5" fill="#062306" opacity="0.5" transform="rotate(0 53 102.7)"/><ellipse cx="60.4" cy="111.1" rx="4.1" ry="4.1" fill="#062306" opacity="0.5" transform="rotate(0 60.4 111.1)"/><ellipse cx="66.2" cy="119.7" rx="4.5" ry="4.1" fill="#062306" opacity="0.5" transform="rotate(0 66.2 119.7)"/><ellipse cx="123.6" cy="108.5" rx="5.5" ry="6.2" fill="#062306" opacity="0.5" transform="rotate(0 123.6 108.5)"/><ellipse cx="125.5" cy="129.4" rx="6.2" ry="2.1" fill="#062306" opacity="0.5" transform="rotate(0 125.5 129.4)"/></g></g></g>
<clipPath id="c13"><rect x="0" y="0" width="130.7" height="131"/></clipPath><g transform="translate(1158.1 211.3)"><rect x="0" y="0" width="130.7" height="131" fill="#0a0606"/><g clip-path="url(#c13)"><g filter="url(#blurG)"><ellipse cx="60.2" cy="12.9" rx="10.3" ry="14.2" fill="#40d834" opacity="0.7" transform="rotate(0 60.2 12.9)"/><ellipse cx="56.9" cy="31.8" rx="10.3" ry="9" fill="#40d834" opacity="0.9" transform="rotate(0 56.9 31.8)"/><ellipse cx="83.6" cy="15.1" rx="10.3" ry="11" fill="#40d834" opacity="0.9" transform="rotate(0 83.6 15.1)"/><ellipse cx="114.7" cy="10.7" rx="16.8" ry="2.6" fill="#40d834" opacity="0.4" transform="rotate(-35 114.7 10.7)"/><ellipse cx="100.2" cy="60.7" rx="15.5" ry="12.9" fill="#40d834" opacity="0.9" transform="rotate(0 100.2 60.7)"/><ellipse cx="101.3" cy="76.2" rx="7.7" ry="6.4" fill="#40d834" opacity="0.8" transform="rotate(0 101.3 76.2)"/><ellipse cx="66.9" cy="60.7" rx="9" ry="14.2" fill="#40d834" opacity="0.7" transform="rotate(0 66.9 60.7)"/><ellipse cx="75.8" cy="47.3" rx="6.4" ry="5.2" fill="#40d834" opacity="0.4" transform="rotate(0 75.8 47.3)"/><ellipse cx="60.2" cy="81.8" rx="12.9" ry="14.2" fill="#40d834" opacity="0.7" transform="rotate(0 60.2 81.8)"/><ellipse cx="82.4" cy="82.9" rx="10.3" ry="9" fill="#40d834" opacity="0.5" transform="rotate(0 82.4 82.9)"/><ellipse cx="53.6" cy="100.7" rx="12.9" ry="11.6" fill="#40d834" opacity="0.7" transform="rotate(0 53.6 100.7)"/><ellipse cx="20.2" cy="78.4" rx="14.2" ry="10.3" fill="#40d834" opacity="0.4" transform="rotate(0 20.2 78.4)"/><ellipse cx="33.6" cy="95.1" rx="9" ry="7.7" fill="#40d834" opacity="0.4" transform="rotate(0 33.6 95.1)"/></g><g filter="url(#blurN)"><ellipse cx="53.9" cy="2.3" rx="3.1" ry="2.1" fill="#062306" opacity="0.5" transform="rotate(0 53.9 2.3)"/><ellipse cx="64.4" cy="5.3" rx="3.7" ry="4.5" fill="#062306" opacity="0.5" transform="rotate(0 64.4 5.3)"/><ellipse cx="83" cy="11.6" rx="5.8" ry="6.2" fill="#062306" opacity="0.5" transform="rotate(0 83 11.6)"/><ellipse cx="62" cy="18.6" rx="6.2" ry="6.2" fill="#062306" opacity="0.5" transform="rotate(0 62 18.6)"/><ellipse cx="104.3" cy="16.3" rx="3.7" ry="3.7" fill="#062306" opacity="0.5" transform="rotate(0 104.3 16.3)"/><ellipse cx="108.5" cy="19.8" rx="2.5" ry="3.1" fill="#062306" opacity="0.5" transform="rotate(0 108.5 19.8)"/><ellipse cx="120.1" cy="7" rx="3.7" ry="2.1" fill="#062306" opacity="0.5" transform="rotate(-45 120.1 7)"/><ellipse cx="56.2" cy="35.3" rx="4.5" ry="4.5" fill="#062306" opacity="0.5" transform="rotate(0 56.2 35.3)"/><ellipse cx="66.7" cy="33.7" rx="3.7" ry="3.7" fill="#062306" opacity="0.5" transform="rotate(0 66.7 33.7)"/><ellipse cx="74.8" cy="47.6" rx="3.1" ry="3.1" fill="#062306" opacity="0.5" transform="rotate(0 74.8 47.6)"/><ellipse cx="66.7" cy="58.1" rx="4.1" ry="4.5" fill="#062306" opacity="0.5" transform="rotate(0 66.7 58.1)"/><ellipse cx="93.4" cy="52.8" rx="6.2" ry="5.1" fill="#062306" opacity="0.5" transform="rotate(0 93.4 52.8)"/><ellipse cx="108.5" cy="57.4" rx="4.1" ry="5.1" fill="#062306" opacity="0.5" transform="rotate(0 108.5 57.4)"/><ellipse cx="95.7" cy="61.6" rx="5.5" ry="5.5" fill="#062306" opacity="0.5" transform="rotate(0 95.7 61.6)"/><ellipse cx="105" cy="73.2" rx="6.2" ry="5.1" fill="#062306" opacity="0.5" transform="rotate(0 105 73.2)"/><ellipse cx="87.6" cy="72.5" rx="4.5" ry="5.5" fill="#062306" opacity="0.5" transform="rotate(20 87.6 72.5)"/><ellipse cx="66.7" cy="75.5" rx="6.2" ry="7.2" fill="#062306" opacity="0.5" transform="rotate(0 66.7 75.5)"/><ellipse cx="69" cy="87.1" rx="4.1" ry="5.5" fill="#062306" opacity="0.5" transform="rotate(0 69 87.1)"/><ellipse cx="54.4" cy="86.7" rx="4.1" ry="5.5" fill="#062306" opacity="0.5" transform="rotate(0 54.4 86.7)"/><ellipse cx="83.4" cy="86" rx="4.1" ry="3.7" fill="#062306" opacity="0.5" transform="rotate(0 83.4 86)"/><ellipse cx="17.9" cy="74.4" rx="4.1" ry="3.1" fill="#062306" opacity="0.5" transform="rotate(0 17.9 74.4)"/><ellipse cx="12.5" cy="81.8" rx="4.1" ry="4.5" fill="#062306" opacity="0.5" transform="rotate(0 12.5 81.8)"/><ellipse cx="28.4" cy="80.2" rx="3.1" ry="3.1" fill="#062306" opacity="0.5" transform="rotate(0 28.4 80.2)"/><ellipse cx="24.9" cy="88.3" rx="4.1" ry="4.1" fill="#062306" opacity="0.5" transform="rotate(0 24.9 88.3)"/><ellipse cx="36" cy="95.3" rx="5.1" ry="5.1" fill="#062306" opacity="0.5" transform="rotate(0 36 95.3)"/><ellipse cx="51.6" cy="103.4" rx="4.5" ry="6.2" fill="#062306" opacity="0.5" transform="rotate(0 51.6 103.4)"/><ellipse cx="64.4" cy="97.6" rx="5.1" ry="5.1" fill="#062306" opacity="0.5" transform="rotate(0 64.4 97.6)"/></g></g></g>
<clipPath id="c20"><rect x="0" y="0" width="131.2" height="131"/></clipPath><g transform="translate(689.3 361.7)"><rect x="0" y="0" width="131.2" height="131" fill="#0a0606"/><g clip-path="url(#c20)"><g filter="url(#blurG)"><ellipse cx="66" cy="60.9" rx="9" ry="6.6" fill="#2fc42a" opacity="0.13" transform="rotate(-20 66 60.9)"/><ellipse cx="82.3" cy="60.9" rx="9.8" ry="7.8" fill="#2fc42a" opacity="0.13" transform="rotate(0 82.3 60.9)"/><ellipse cx="52.5" cy="69.3" rx="8.3" ry="8.3" fill="#2fc42a" opacity="0.13" transform="rotate(0 52.5 69.3)"/><ellipse cx="61.3" cy="72" rx="7.1" ry="7.8" fill="#2fc42a" opacity="0.13" transform="rotate(0 61.3 72)"/><ellipse cx="69.5" cy="71.6" rx="7.1" ry="7.8" fill="#2fc42a" opacity="0.13" transform="rotate(0 69.5 71.6)"/><ellipse cx="83.9" cy="68.1" rx="9" ry="6.6" fill="#2fc42a" opacity="0.13" transform="rotate(0 83.9 68.1)"/><ellipse cx="83.9" cy="74.4" rx="9" ry="6.6" fill="#2fc42a" opacity="0.13" transform="rotate(0 83.9 74.4)"/><ellipse cx="106" cy="70.9" rx="9.8" ry="7.8" fill="#2fc42a" opacity="0.13" transform="rotate(0 106 70.9)"/><ellipse cx="41.1" cy="82.5" rx="9.5" ry="8.3" fill="#2fc42a" opacity="0.13" transform="rotate(-20 41.1 82.5)"/><ellipse cx="57.9" cy="86.7" rx="8.3" ry="7.8" fill="#2fc42a" opacity="0.13" transform="rotate(0 57.9 86.7)"/><ellipse cx="81.1" cy="86" rx="10.3" ry="8.6" fill="#2fc42a" opacity="0.13" transform="rotate(-20 81.1 86)"/><ellipse cx="62" cy="94.1" rx="9" ry="7.1" fill="#2fc42a" opacity="0.13" transform="rotate(0 62 94.1)"/></g><g filter="url(#blurN)"><ellipse cx="66" cy="60.9" rx="6" ry="3.6" fill="#1a45b8" opacity="1" transform="rotate(-20 66 60.9)"/><ellipse cx="82.3" cy="60.9" rx="6.8" ry="4.8" fill="#1a45b8" opacity="1" transform="rotate(0 82.3 60.9)"/><ellipse cx="52.5" cy="69.3" rx="5.3" ry="5.3" fill="#1a45b8" opacity="1" transform="rotate(0 52.5 69.3)"/><ellipse cx="61.3" cy="72" rx="4.1" ry="4.8" fill="#1a45b8" opacity="1" transform="rotate(0 61.3 72)"/><ellipse cx="69.5" cy="71.6" rx="4.1" ry="4.8" fill="#1a45b8" opacity="1" transform="rotate(0 69.5 71.6)"/><ellipse cx="83.9" cy="68.1" rx="6" ry="3.6" fill="#1a45b8" opacity="1" transform="rotate(0 83.9 68.1)"/><ellipse cx="83.9" cy="74.4" rx="6" ry="3.6" fill="#1a45b8" opacity="1" transform="rotate(0 83.9 74.4)"/><ellipse cx="106" cy="70.9" rx="6.8" ry="4.8" fill="#1a45b8" opacity="1" transform="rotate(0 106 70.9)"/><ellipse cx="41.1" cy="82.5" rx="6.5" ry="5.3" fill="#1a45b8" opacity="1" transform="rotate(-20 41.1 82.5)"/><ellipse cx="57.9" cy="86.7" rx="5.3" ry="4.8" fill="#1a45b8" opacity="1" transform="rotate(0 57.9 86.7)"/><ellipse cx="81.1" cy="86" rx="7.3" ry="5.6" fill="#1a45b8" opacity="1" transform="rotate(-20 81.1 86)"/><ellipse cx="62" cy="94.1" rx="6" ry="4.1" fill="#1a45b8" opacity="0.9" transform="rotate(0 62 94.1)"/></g></g></g>
<clipPath id="c21"><rect x="0" y="0" width="131.2" height="131"/></clipPath><g transform="translate(845.3 361.7)"><rect x="0" y="0" width="131.2" height="131" fill="#0a0606"/><g clip-path="url(#c21)"><g filter="url(#blurG)"><ellipse cx="73.6" cy="47.3" rx="21.3" ry="19.3" fill="#40d834" opacity="0.9" transform="rotate(0 73.6 47.3)"/><ellipse cx="119.1" cy="15.1" rx="16.1" ry="18" fill="#40d834" opacity="1" transform="rotate(0 119.1 15.1)"/><ellipse cx="118" cy="35.1" rx="15.5" ry="11.6" fill="#40d834" opacity="0.8" transform="rotate(0 118 35.1)"/><ellipse cx="9.1" cy="36.2" rx="11" ry="18" fill="#40d834" opacity="0.6" transform="rotate(0 9.1 36.2)"/><ellipse cx="51.3" cy="25.1" rx="8.4" ry="8.4" fill="#40d834" opacity="0.7" transform="rotate(0 51.3 25.1)"/><ellipse cx="72.4" cy="24" rx="9.7" ry="5.8" fill="#40d834" opacity="0.8" transform="rotate(0 72.4 24)"/><ellipse cx="42.4" cy="49.6" rx="9.7" ry="9.7" fill="#40d834" opacity="0.4" transform="rotate(0 42.4 49.6)"/><ellipse cx="36.9" cy="62.9" rx="9.7" ry="8.4" fill="#40d834" opacity="0.4" transform="rotate(0 36.9 62.9)"/><ellipse cx="98" cy="31.8" rx="9.7" ry="12.9" fill="#40d834" opacity="0.6" transform="rotate(0 98 31.8)"/><ellipse cx="110.2" cy="51.8" rx="5.2" ry="5.8" fill="#40d834" opacity="0.5" transform="rotate(0 110.2 51.8)"/><ellipse cx="123.6" cy="56.2" rx="8.4" ry="11" fill="#40d834" opacity="0.6" transform="rotate(0 123.6 56.2)"/><ellipse cx="52.4" cy="80.7" rx="6.4" ry="9" fill="#40d834" opacity="0.5" transform="rotate(0 52.4 80.7)"/><ellipse cx="69.1" cy="82.9" rx="8.4" ry="9.7" fill="#40d834" opacity="0.6" transform="rotate(0 69.1 82.9)"/><ellipse cx="72.4" cy="87.3" rx="3.9" ry="5.2" fill="#40d834" opacity="0.9" transform="rotate(0 72.4 87.3)"/><ellipse cx="52.4" cy="96.2" rx="8.4" ry="8.4" fill="#40d834" opacity="0.8" transform="rotate(0 52.4 96.2)"/><ellipse cx="64.7" cy="105.1" rx="7.1" ry="7.1" fill="#40d834" opacity="0.6" transform="rotate(0 64.7 105.1)"/><ellipse cx="51.3" cy="116.2" rx="9" ry="9.7" fill="#40d834" opacity="0.5" transform="rotate(0 51.3 116.2)"/><ellipse cx="84.7" cy="121.8" rx="9" ry="7.1" fill="#40d834" opacity="0.4" transform="rotate(0 84.7 121.8)"/><ellipse cx="126.9" cy="92.9" rx="6.4" ry="7.7" fill="#40d834" opacity="0.6" transform="rotate(0 126.9 92.9)"/><ellipse cx="93.6" cy="4" rx="7.7" ry="3.9" fill="#40d834" opacity="0.3" transform="rotate(0 93.6 4)"/></g><g filter="url(#blurN)"><ellipse cx="5.6" cy="27.9" rx="5.3" ry="6.8" fill="#1a45b8" opacity="1" transform="rotate(0 5.6 27.9)"/><ellipse cx="13.7" cy="34.9" rx="4.4" ry="4.8" fill="#1a45b8" opacity="0.8" transform="rotate(0 13.7 34.9)"/><ellipse cx="13.2" cy="44.9" rx="4.4" ry="4.8" fill="#1a45b8" opacity="0.7" transform="rotate(0 13.2 44.9)"/><ellipse cx="43.9" cy="24.4" rx="4.4" ry="4.8" fill="#1a45b8" opacity="0.9" transform="rotate(0 43.9 24.4)"/><ellipse cx="52.8" cy="22.1" rx="3.6" ry="5.3" fill="#1a45b8" opacity="0.9" transform="rotate(20 52.8 22.1)"/><ellipse cx="70.6" cy="25.1" rx="4.4" ry="4.8" fill="#1a45b8" opacity="1" transform="rotate(0 70.6 25.1)"/><ellipse cx="78.8" cy="25.1" rx="3.6" ry="4.8" fill="#1a45b8" opacity="1" transform="rotate(0 78.8 25.1)"/><ellipse cx="43.2" cy="35.3" rx="6" ry="4.8" fill="#1a45b8" opacity="1" transform="rotate(0 43.2 35.3)"/><ellipse cx="54.4" cy="35.3" rx="4.8" ry="6" fill="#1a45b8" opacity="1" transform="rotate(0 54.4 35.3)"/><ellipse cx="71.8" cy="34.4" rx="6" ry="4.4" fill="#1a45b8" opacity="1" transform="rotate(20 71.8 34.4)"/><ellipse cx="83.9" cy="33.7" rx="4.8" ry="4.1" fill="#1a45b8" opacity="1" transform="rotate(20 83.9 33.7)"/><ellipse cx="63.7" cy="45.8" rx="5.8" ry="4.8" fill="#1a45b8" opacity="1" transform="rotate(-20 63.7 45.8)"/><ellipse cx="71.8" cy="44.2" rx="4.8" ry="4.4" fill="#1a45b8" opacity="1" transform="rotate(0 71.8 44.2)"/><ellipse cx="67.2" cy="51.8" rx="4.8" ry="4.4" fill="#1a45b8" opacity="1" transform="rotate(0 67.2 51.8)"/><ellipse cx="81.1" cy="50" rx="4.8" ry="5.3" fill="#1a45b8" opacity="1" transform="rotate(0 81.1 50)"/><ellipse cx="86.2" cy="41.8" rx="4.8" ry="5.3" fill="#1a45b8" opacity="1" transform="rotate(0 86.2 41.8)"/><ellipse cx="41.6" cy="49.5" rx="6" ry="6" fill="#1a45b8" opacity="1" transform="rotate(0 41.6 49.5)"/><ellipse cx="35.1" cy="62.3" rx="6" ry="6" fill="#1a45b8" opacity="1" transform="rotate(0 35.1 62.3)"/><ellipse cx="60.2" cy="58.6" rx="5.3" ry="4.8" fill="#1a45b8" opacity="1" transform="rotate(0 60.2 58.6)"/><ellipse cx="79.5" cy="59.3" rx="6.8" ry="3.6" fill="#1a45b8" opacity="1" transform="rotate(-20 79.5 59.3)"/><ellipse cx="95" cy="27.9" rx="4.8" ry="4.8" fill="#1a45b8" opacity="0.7" transform="rotate(0 95 27.9)"/><ellipse cx="96.2" cy="39" rx="5.3" ry="4.1" fill="#1a45b8" opacity="0.7" transform="rotate(0 96.2 39)"/><ellipse cx="111.3" cy="11.6" rx="6" ry="4.8" fill="#1a45b8" opacity="1" transform="rotate(0 111.3 11.6)"/><ellipse cx="122.9" cy="15.1" rx="4.8" ry="5.3" fill="#1a45b8" opacity="1" transform="rotate(0 122.9 15.1)"/><ellipse cx="109" cy="23.2" rx="7.3" ry="6" fill="#1a45b8" opacity="0.9" transform="rotate(0 109 23.2)"/><ellipse cx="118.3" cy="38.3" rx="5.3" ry="7.3" fill="#1a45b8" opacity="1" transform="rotate(0 118.3 38.3)"/><ellipse cx="128.7" cy="30.2" rx="2.9" ry="5.3" fill="#1a45b8" opacity="1" transform="rotate(0 128.7 30.2)"/><ellipse cx="109.7" cy="51.8" rx="3.6" ry="4.4" fill="#1a45b8" opacity="1" transform="rotate(0 109.7 51.8)"/><ellipse cx="122.2" cy="55.3" rx="5.3" ry="5.3" fill="#1a45b8" opacity="0.9" transform="rotate(0 122.2 55.3)"/><ellipse cx="97.4" cy="2.3" rx="7.3" ry="2.4" fill="#1a45b8" opacity="0.9" transform="rotate(0 97.4 2.3)"/><ellipse cx="113.6" cy="2.3" rx="4.8" ry="2.9" fill="#1a45b8" opacity="0.9" transform="rotate(0 113.6 2.3)"/><ellipse cx="128" cy="7" rx="2.4" ry="4.8" fill="#1a45b8" opacity="0.9" transform="rotate(0 128 7)"/><ellipse cx="53.7" cy="82.5" rx="4.8" ry="6.5" fill="#1a45b8" opacity="1" transform="rotate(0 53.7 82.5)"/><ellipse cx="67.2" cy="82.5" rx="5.3" ry="5.3" fill="#1a45b8" opacity="1" transform="rotate(20 67.2 82.5)"/><ellipse cx="52.1" cy="97.6" rx="6" ry="4.8" fill="#1a45b8" opacity="0.7" transform="rotate(0 52.1 97.6)"/><ellipse cx="62.5" cy="103.9" rx="6" ry="5.3" fill="#1a45b8" opacity="1" transform="rotate(0 62.5 103.9)"/><ellipse cx="71.3" cy="103.4" rx="3.6" ry="3.6" fill="#1a45b8" opacity="0.7" transform="rotate(0 71.3 103.4)"/><ellipse cx="51.4" cy="117.4" rx="5.3" ry="5.3" fill="#1a45b8" opacity="1" transform="rotate(0 51.4 117.4)"/><ellipse cx="128" cy="93.4" rx="3.4" ry="5.3" fill="#1a45b8" opacity="1" transform="rotate(0 128 93.4)"/><ellipse cx="83.4" cy="120.8" rx="5.3" ry="2.9" fill="#1a45b8" opacity="0.7" transform="rotate(0 83.4 120.8)"/><ellipse cx="85.8" cy="127.8" rx="4.8" ry="2.9" fill="#1a45b8" opacity="0.8" transform="rotate(0 85.8 127.8)"/></g></g></g>
<clipPath id="c22"><rect x="0" y="0" width="131.2" height="131"/></clipPath><g transform="translate(1001.8 361.7)"><rect x="0" y="0" width="131.2" height="131" fill="#0a0606"/><g clip-path="url(#c22)"><g filter="url(#blurG)"><ellipse cx="70.8" cy="7.3" rx="9" ry="9.7" fill="#40d834" opacity="0.7" transform="rotate(0 70.8 7.3)"/><ellipse cx="74.7" cy="8.4" rx="3.9" ry="6.4" fill="#40d834" opacity="0.9" transform="rotate(0 74.7 8.4)"/><ellipse cx="104.1" cy="16.2" rx="7.7" ry="9" fill="#40d834" opacity="0.8" transform="rotate(0 104.1 16.2)"/><ellipse cx="61.3" cy="21.8" rx="9" ry="7.1" fill="#40d834" opacity="0.6" transform="rotate(0 61.3 21.8)"/><ellipse cx="78" cy="22.9" rx="10.3" ry="7.7" fill="#40d834" opacity="0.6" transform="rotate(0 78 22.9)"/><ellipse cx="86.9" cy="29.6" rx="7.1" ry="11" fill="#40d834" opacity="0.8" transform="rotate(0 86.9 29.6)"/><ellipse cx="68" cy="36.2" rx="8.4" ry="8.4" fill="#40d834" opacity="0.6" transform="rotate(0 68 36.2)"/><ellipse cx="80.2" cy="36.2" rx="6.4" ry="6.4" fill="#40d834" opacity="0.4" transform="rotate(0 80.2 36.2)"/><ellipse cx="75.8" cy="52.9" rx="9.7" ry="10.3" fill="#40d834" opacity="0.7" transform="rotate(0 75.8 52.9)"/><ellipse cx="96.9" cy="46.2" rx="11.6" ry="8.4" fill="#40d834" opacity="0.7" transform="rotate(0 96.9 46.2)"/><ellipse cx="16.9" cy="67.3" rx="9" ry="5.2" fill="#40d834" opacity="0.4" transform="rotate(30 16.9 67.3)"/><ellipse cx="29.1" cy="77.3" rx="7.7" ry="6.4" fill="#40d834" opacity="0.4" transform="rotate(0 29.1 77.3)"/><ellipse cx="4.1" cy="82.3" rx="5.2" ry="6.4" fill="#40d834" opacity="0.7" transform="rotate(0 4.1 82.3)"/><ellipse cx="43.6" cy="88.4" rx="7.7" ry="5.2" fill="#40d834" opacity="0.4" transform="rotate(0 43.6 88.4)"/><ellipse cx="52.4" cy="101.8" rx="8.4" ry="7.7" fill="#40d834" opacity="0.7" transform="rotate(0 52.4 101.8)"/><ellipse cx="63.6" cy="117.3" rx="9.7" ry="8.4" fill="#40d834" opacity="0.7" transform="rotate(0 63.6 117.3)"/><ellipse cx="122.4" cy="107.3" rx="8.4" ry="11.6" fill="#40d834" opacity="0.7" transform="rotate(0 122.4 107.3)"/><ellipse cx="123.6" cy="126.2" rx="10.3" ry="6.4" fill="#40d834" opacity="0.8" transform="rotate(0 123.6 126.2)"/></g><g filter="url(#blurN)"><ellipse cx="69.7" cy="7.7" rx="5.3" ry="6.8" fill="#1a45b8" opacity="1" transform="rotate(0 69.7 7.7)"/><ellipse cx="105" cy="16.3" rx="4.4" ry="5.3" fill="#1a45b8" opacity="1" transform="rotate(0 105 16.3)"/><ellipse cx="61.6" cy="24.4" rx="6" ry="4.8" fill="#1a45b8" opacity="0.8" transform="rotate(0 61.6 24.4)"/><ellipse cx="79.7" cy="21.6" rx="6.8" ry="4.8" fill="#1a45b8" opacity="0.9" transform="rotate(0 79.7 21.6)"/><ellipse cx="88.3" cy="27.9" rx="4.4" ry="6" fill="#1a45b8" opacity="1" transform="rotate(0 88.3 27.9)"/><ellipse cx="73.9" cy="28.6" rx="4.4" ry="6" fill="#1a45b8" opacity="1" transform="rotate(0 73.9 28.6)"/><ellipse cx="69.7" cy="36.7" rx="5.3" ry="5.3" fill="#1a45b8" opacity="0.8" transform="rotate(0 69.7 36.7)"/><ellipse cx="82.5" cy="36.5" rx="4.8" ry="5.3" fill="#1a45b8" opacity="1" transform="rotate(0 82.5 36.5)"/><ellipse cx="84.1" cy="46.9" rx="5.3" ry="5.3" fill="#1a45b8" opacity="1" transform="rotate(0 84.1 46.9)"/><ellipse cx="95.7" cy="44.2" rx="5.3" ry="5.3" fill="#1a45b8" opacity="0.8" transform="rotate(0 95.7 44.2)"/><ellipse cx="75.5" cy="51.8" rx="6" ry="7.3" fill="#1a45b8" opacity="1" transform="rotate(0 75.5 51.8)"/><ellipse cx="103.9" cy="51.1" rx="5.3" ry="3.6" fill="#1a45b8" opacity="1" transform="rotate(-40 103.9 51.1)"/><ellipse cx="19.8" cy="69.7" rx="7.3" ry="3.6" fill="#1a45b8" opacity="0.9" transform="rotate(25 19.8 69.7)"/><ellipse cx="31.8" cy="79" rx="6.5" ry="4.4" fill="#1a45b8" opacity="0.9" transform="rotate(20 31.8 79)"/><ellipse cx="2.8" cy="82.5" rx="3.6" ry="4.8" fill="#1a45b8" opacity="1" transform="rotate(0 2.8 82.5)"/><ellipse cx="43" cy="95.3" rx="5.3" ry="6.5" fill="#1a45b8" opacity="0.9" transform="rotate(0 43 95.3)"/><ellipse cx="53" cy="102.7" rx="5.3" ry="5.3" fill="#1a45b8" opacity="1" transform="rotate(0 53 102.7)"/><ellipse cx="60.4" cy="111.1" rx="4.8" ry="4.8" fill="#1a45b8" opacity="1" transform="rotate(0 60.4 111.1)"/><ellipse cx="66.2" cy="119.7" rx="5.3" ry="4.8" fill="#1a45b8" opacity="1" transform="rotate(0 66.2 119.7)"/><ellipse cx="123.6" cy="108.5" rx="6.5" ry="7.3" fill="#1a45b8" opacity="1" transform="rotate(0 123.6 108.5)"/><ellipse cx="125.5" cy="129.4" rx="7.3" ry="2.4" fill="#1a45b8" opacity="1" transform="rotate(0 125.5 129.4)"/></g></g></g>
<clipPath id="c23"><rect x="0" y="0" width="130.7" height="131"/></clipPath><g transform="translate(1158.1 362.2)"><rect x="0" y="0" width="130.7" height="131" fill="#0a0606"/><g clip-path="url(#c23)"><g filter="url(#blurG)"><ellipse cx="60.2" cy="12.9" rx="10.3" ry="14.2" fill="#40d834" opacity="0.7" transform="rotate(0 60.2 12.9)"/><ellipse cx="56.9" cy="31.8" rx="10.3" ry="9" fill="#40d834" opacity="0.9" transform="rotate(0 56.9 31.8)"/><ellipse cx="83.6" cy="15.1" rx="10.3" ry="11" fill="#40d834" opacity="0.9" transform="rotate(0 83.6 15.1)"/><ellipse cx="114.7" cy="10.7" rx="16.8" ry="2.6" fill="#40d834" opacity="0.4" transform="rotate(-35 114.7 10.7)"/><ellipse cx="100.2" cy="60.7" rx="15.5" ry="12.9" fill="#40d834" opacity="0.9" transform="rotate(0 100.2 60.7)"/><ellipse cx="101.3" cy="76.2" rx="7.7" ry="6.4" fill="#40d834" opacity="0.8" transform="rotate(0 101.3 76.2)"/><ellipse cx="66.9" cy="60.7" rx="9" ry="14.2" fill="#40d834" opacity="0.7" transform="rotate(0 66.9 60.7)"/><ellipse cx="75.8" cy="47.3" rx="6.4" ry="5.2" fill="#40d834" opacity="0.4" transform="rotate(0 75.8 47.3)"/><ellipse cx="60.2" cy="81.8" rx="12.9" ry="14.2" fill="#40d834" opacity="0.7" transform="rotate(0 60.2 81.8)"/><ellipse cx="82.4" cy="82.9" rx="10.3" ry="9" fill="#40d834" opacity="0.5" transform="rotate(0 82.4 82.9)"/><ellipse cx="53.6" cy="100.7" rx="12.9" ry="11.6" fill="#40d834" opacity="0.7" transform="rotate(0 53.6 100.7)"/><ellipse cx="20.2" cy="78.4" rx="14.2" ry="10.3" fill="#40d834" opacity="0.4" transform="rotate(0 20.2 78.4)"/><ellipse cx="33.6" cy="95.1" rx="9" ry="7.7" fill="#40d834" opacity="0.4" transform="rotate(0 33.6 95.1)"/></g><g filter="url(#blurN)"><ellipse cx="53.9" cy="2.3" rx="3.6" ry="2.4" fill="#1a45b8" opacity="0.7" transform="rotate(0 53.9 2.3)"/><ellipse cx="64.4" cy="5.3" rx="4.4" ry="5.3" fill="#1a45b8" opacity="0.9" transform="rotate(0 64.4 5.3)"/><ellipse cx="83" cy="11.6" rx="6.8" ry="7.3" fill="#1a45b8" opacity="1" transform="rotate(0 83 11.6)"/><ellipse cx="62" cy="18.6" rx="7.3" ry="7.3" fill="#1a45b8" opacity="0.7" transform="rotate(0 62 18.6)"/><ellipse cx="104.3" cy="16.3" rx="4.4" ry="4.4" fill="#1a45b8" opacity="0.9" transform="rotate(0 104.3 16.3)"/><ellipse cx="108.5" cy="19.8" rx="2.9" ry="3.6" fill="#1a45b8" opacity="0.9" transform="rotate(0 108.5 19.8)"/><ellipse cx="120.1" cy="7" rx="4.4" ry="2.4" fill="#1a45b8" opacity="0.9" transform="rotate(-45 120.1 7)"/><ellipse cx="56.2" cy="35.3" rx="5.3" ry="5.3" fill="#1a45b8" opacity="0.9" transform="rotate(0 56.2 35.3)"/><ellipse cx="66.7" cy="33.7" rx="4.4" ry="4.4" fill="#1a45b8" opacity="0.7" transform="rotate(0 66.7 33.7)"/><ellipse cx="74.8" cy="47.6" rx="3.6" ry="3.6" fill="#1a45b8" opacity="0.6" transform="rotate(0 74.8 47.6)"/><ellipse cx="66.7" cy="58.1" rx="4.8" ry="5.3" fill="#1a45b8" opacity="0.9" transform="rotate(0 66.7 58.1)"/><ellipse cx="93.4" cy="52.8" rx="7.3" ry="6" fill="#1a45b8" opacity="0.9" transform="rotate(0 93.4 52.8)"/><ellipse cx="108.5" cy="57.4" rx="4.8" ry="6" fill="#1a45b8" opacity="0.9" transform="rotate(0 108.5 57.4)"/><ellipse cx="95.7" cy="61.6" rx="6.5" ry="6.5" fill="#1a45b8" opacity="1" transform="rotate(0 95.7 61.6)"/><ellipse cx="105" cy="73.2" rx="7.3" ry="6" fill="#1a45b8" opacity="1" transform="rotate(0 105 73.2)"/><ellipse cx="87.6" cy="72.5" rx="5.3" ry="6.5" fill="#1a45b8" opacity="0.9" transform="rotate(20 87.6 72.5)"/><ellipse cx="66.7" cy="75.5" rx="7.3" ry="8.5" fill="#1a45b8" opacity="0.9" transform="rotate(0 66.7 75.5)"/><ellipse cx="69" cy="87.1" rx="4.8" ry="6.5" fill="#1a45b8" opacity="0.9" transform="rotate(0 69 87.1)"/><ellipse cx="54.4" cy="86.7" rx="4.8" ry="6.5" fill="#1a45b8" opacity="1" transform="rotate(0 54.4 86.7)"/><ellipse cx="83.4" cy="86" rx="4.8" ry="4.4" fill="#1a45b8" opacity="1" transform="rotate(0 83.4 86)"/><ellipse cx="17.9" cy="74.4" rx="4.8" ry="3.6" fill="#1a45b8" opacity="0.7" transform="rotate(0 17.9 74.4)"/><ellipse cx="12.5" cy="81.8" rx="4.8" ry="5.3" fill="#1a45b8" opacity="0.7" transform="rotate(0 12.5 81.8)"/><ellipse cx="28.4" cy="80.2" rx="3.6" ry="3.6" fill="#1a45b8" opacity="0.6" transform="rotate(0 28.4 80.2)"/><ellipse cx="24.9" cy="88.3" rx="4.8" ry="4.8" fill="#1a45b8" opacity="0.7" transform="rotate(0 24.9 88.3)"/><ellipse cx="36" cy="95.3" rx="6" ry="6" fill="#1a45b8" opacity="0.7" transform="rotate(0 36 95.3)"/><ellipse cx="51.6" cy="103.4" rx="5.3" ry="7.3" fill="#1a45b8" opacity="0.7" transform="rotate(0 51.6 103.4)"/><ellipse cx="64.4" cy="97.6" rx="6" ry="6" fill="#1a45b8" opacity="0.7" transform="rotate(0 64.4 97.6)"/></g></g></g>
<rect x="1261.2" y="464.3" width="10.8" height="2.4" fill="#fff"/>
<text transform="translate(1243.09 480.4) scale(1.0353 1)" font-size="13" style="fill:#fff;stroke:none" >10 μm</text>
</g>
<g>
<text transform="translate(63.83 539.6) scale(0.9581 1)" font-size="28.6" >C</text>
<rect x="168.3" y="748.2" width="44.8" height="45.8" fill="#314f8c"/><rect x="172.1" y="752" width="37.2" height="42" fill="#9aa9c8"/>
<path d="M190.7 748.7 L190.7 739.6 M179.5 739.6 L201.9 739.6" stroke="#4a6bb4" stroke-width="1.4" fill="none"/>
<rect x="236.3" y="694.3" width="45.4" height="15.3" fill="#b583b4"/><rect x="240.4" y="698.4" width="37.2" height="11.2" fill="#caa6c7"/><rect x="236.3" y="731.6" width="45.4" height="62.4" fill="#b583b4"/><rect x="240.4" y="731.6" width="37.2" height="62.4" fill="#caa6c7"/>
<path d="M259 694.8 L259 685 M247.8 685 L270.2 685" stroke="#c08cc0" stroke-width="1.4" fill="none"/>
<rect x="305" y="634.5" width="45.4" height="75.1" fill="#ee9f72"/><rect x="309.1" y="638.6" width="37.2" height="71" fill="#f2bc9a"/><rect x="305" y="731.6" width="45.4" height="62.4" fill="#ee9f72"/><rect x="309.1" y="731.6" width="37.2" height="62.4" fill="#f2bc9a"/>
<path d="M327.7 635 L327.7 627.7 M316.5 627.7 L338.9 627.7" stroke="#ee9f72" stroke-width="1.4" fill="none"/>
<rect x="373.7" y="672.7" width="45.4" height="36.9" fill="#f4d674"/><rect x="377.8" y="676.8" width="37.2" height="32.8" fill="#f6e299"/><rect x="373.7" y="731.6" width="45.4" height="62.4" fill="#f4d674"/><rect x="377.8" y="731.6" width="37.2" height="62.4" fill="#f6e299"/>
<path d="M396.4 673.2 L396.4 665 M385.2 665 L407.6 665" stroke="#f2cf68" stroke-width="1.4" fill="none"/>
<path d="M145 709.6 L145 563.6 L443.4 563.6 L443.4 794 L134.2 794" fill="none" stroke="#262626" stroke-width="1.4" stroke-linejoin="miter"/>
<path d="M145 731.6 L145 794" fill="none" stroke="#262626" stroke-width="1.4"/>
<path d="M137.8 709.6 L152.2 709.6 M137.6 731.6 L152.2 731.6" fill="none" stroke="#262626" stroke-width="1.4"/>
<line x1="134.2" y1="573.6" x2="145" y2="573.6" stroke="#262626" stroke-width="1.4"/>
<text transform="translate(97.63 580.6) scale(0.9680 1)" font-size="20.2" >140</text>
<line x1="134.2" y1="614" x2="145" y2="614" stroke="#262626" stroke-width="1.4"/>
<text transform="translate(97.63 621) scale(0.9680 1)" font-size="20.2" >100</text>
<line x1="134.2" y1="654.2" x2="145" y2="654.2" stroke="#262626" stroke-width="1.4"/>
<text transform="translate(108.48 661.2) scale(0.9680 1)" font-size="20.2" >60</text>
<line x1="134.2" y1="694.3" x2="145" y2="694.3" stroke="#262626" stroke-width="1.4"/>
<text transform="translate(108.48 701.3) scale(0.9680 1)" font-size="20.2" >20</text>
<text transform="translate(119.43 738.6) scale(0.9680 1)" font-size="20.2" >3</text>
<line x1="134.2" y1="752" x2="145" y2="752" stroke="#262626" stroke-width="1.4"/>
<text transform="translate(119.63 759) scale(0.9680 1)" font-size="20.2" >2</text>
<line x1="134.2" y1="773.2" x2="145" y2="773.2" stroke="#262626" stroke-width="1.4"/>
<text transform="translate(119.53 780.2) scale(0.9680 1)" font-size="20.2" >1</text>
<text transform="translate(119.33 801) scale(0.9680 1)" font-size="20.2" >0</text>
<line x1="190.7" y1="794" x2="190.7" y2="805.2" stroke="#262626" stroke-width="1.4"/>
<text transform="translate(198 785.01) rotate(-90) scale(0.9738 1)" font-size="21.3" >Taxotere</text>
<line x1="259" y1="794" x2="259" y2="805.2" stroke="#262626" stroke-width="1.4"/>
<text transform="translate(266.3 786.21) rotate(-90) scale(0.9432 1)" font-size="21.3" >PDONα</text>
<line x1="327.7" y1="794" x2="327.7" y2="805.2" stroke="#262626" stroke-width="1.4"/>
<text transform="translate(335 786.21) rotate(-90) scale(0.9474 1)" font-size="21.3" >PDONβ</text>
<line x1="396.4" y1="794" x2="396.4" y2="805.2" stroke="#262626" stroke-width="1.4"/>
<text transform="translate(403.7 786.21) rotate(-90) scale(0.9446 1)" font-size="21.3" >PDONγ</text>
<text transform="translate(155.7 595.7) scale(1.0298 1)" font-size="19.2" style="fill:#1c1c1c;stroke:#1c1c1c" >4T1 cells</text>
<text transform="translate(84.6 754.43) rotate(-90) scale(0.9482 1)" font-size="21.5">IC<tspan font-size="13.76" dy="4.3">50</tspan><tspan dy="-4.3"> Values (nM)</tspan></text>
<path d="M271 598.9 L271 596.9 L384.9 596.9 L384.9 598.9" fill="none" stroke="#1a1a1a" stroke-width="1.5"/>
<text transform="translate(323.28 593.7) scale(1.0088 1)" font-size="24" font-weight="bold" >*</text>
<path d="M269.8 623 L269.8 621 L314.8 621 L314.8 623" fill="none" stroke="#1a1a1a" stroke-width="1.5"/>
<text transform="translate(281.71 618.6) scale(1.1634 1)" font-size="24" font-weight="bold" >**</text>
<path d="M340.6 622.6 L340.6 620.6 L385.4 620.6 L385.4 622.6" fill="none" stroke="#1a1a1a" stroke-width="1.5"/>
<text transform="translate(352.21 618.1) scale(1.1634 1)" font-size="24" font-weight="bold" >**</text>
</g>
<g>
<text transform="translate(478.51 539.6) scale(1.0871 1)" font-size="28.6" >D</text>
<rect x="581.3" y="775" width="45" height="21.8" fill="#314f8c"/><rect x="585.1" y="778.8" width="37.4" height="18" fill="#9aa9c8"/>
<path d="M603.8 775.5 L603.8 768.3 M592.6 768.3 L615 768.3" stroke="#4a6bb4" stroke-width="1.4" fill="none"/>
<rect x="649.5" y="691.1" width="45.4" height="22.1" fill="#b583b4"/><rect x="653.6" y="695.2" width="37.2" height="18" fill="#caa6c7"/><rect x="649.5" y="735" width="45.4" height="61.8" fill="#b583b4"/><rect x="653.6" y="735" width="37.2" height="61.8" fill="#caa6c7"/>
<path d="M672.2 691.6 L672.2 687.3 M661 687.3 L683.4 687.3" stroke="#c08cc0" stroke-width="1.4" fill="none"/>
<rect x="718" y="620.5" width="45.6" height="92.7" fill="#ee9f72"/><rect x="722.1" y="624.6" width="37.4" height="88.6" fill="#f2bc9a"/><rect x="718" y="735" width="45.6" height="61.8" fill="#ee9f72"/><rect x="722.1" y="735" width="37.4" height="61.8" fill="#f2bc9a"/>
<path d="M740.8 621 L740.8 618.3 M729.6 618.3 L752 618.3" stroke="#ee9f72" stroke-width="1.4" fill="none"/>
<rect x="787.3" y="678.3" width="45.4" height="34.9" fill="#f4d674"/><rect x="791.4" y="682.4" width="37.2" height="30.8" fill="#f6e299"/><rect x="787.3" y="735" width="45.4" height="61.8" fill="#f4d674"/><rect x="791.4" y="735" width="37.2" height="61.8" fill="#f6e299"/>
<path d="M810 678.8 L810 677.6 M798.8 677.6 L821.2 677.6" stroke="#f2cf68" stroke-width="1.4" fill="none"/>
<path d="M557.8 713.2 L557.8 566.5 L856.7 566.5 L856.7 796.8 L547 796.8" fill="none" stroke="#262626" stroke-width="1.4" stroke-linejoin="miter"/>
<path d="M557.8 735 L557.8 796.8" fill="none" stroke="#262626" stroke-width="1.4"/>
<path d="M550.6 713.2 L565 713.2 M550.4 735 L565 735" fill="none" stroke="#262626" stroke-width="1.4"/>
<line x1="547" y1="585.7" x2="557.8" y2="585.7" stroke="#262626" stroke-width="1.4"/>
<text transform="translate(511.33 592.7) scale(0.9680 1)" font-size="20.2" >140</text>
<line x1="547" y1="613.8" x2="557.8" y2="613.8" stroke="#262626" stroke-width="1.4"/>
<text transform="translate(512.7 620.8) scale(0.9680 1)" font-size="20.2" >110</text>
<line x1="547" y1="642.3" x2="557.8" y2="642.3" stroke="#262626" stroke-width="1.4"/>
<text transform="translate(522.18 649.3) scale(0.9680 1)" font-size="20.2" >80</text>
<line x1="547" y1="670.4" x2="557.8" y2="670.4" stroke="#262626" stroke-width="1.4"/>
<text transform="translate(522.18 677.4) scale(0.9680 1)" font-size="20.2" >50</text>
<line x1="547" y1="699.2" x2="557.8" y2="699.2" stroke="#262626" stroke-width="1.4"/>
<text transform="translate(522.18 706.2) scale(0.9680 1)" font-size="20.2" >20</text>
<text transform="translate(533.13 742) scale(0.9680 1)" font-size="20.2" >3</text>
<line x1="547" y1="755.9" x2="557.8" y2="755.9" stroke="#262626" stroke-width="1.4"/>
<text transform="translate(533.33 762.9) scale(0.9680 1)" font-size="20.2" >2</text>
<line x1="547" y1="776.6" x2="557.8" y2="776.6" stroke="#262626" stroke-width="1.4"/>
<text transform="translate(533.23 783.6) scale(0.9680 1)" font-size="20.2" >1</text>
<text transform="translate(533.03 803.8) scale(0.9680 1)" font-size="20.2" >0</text>
<line x1="603.8" y1="796.8" x2="603.8" y2="808" stroke="#262626" stroke-width="1.4"/>
<text transform="translate(611.1 791.2) rotate(-90) scale(0.9378 1)" font-size="21.3" >Taxotere</text>
<line x1="672.2" y1="796.8" x2="672.2" y2="808" stroke="#262626" stroke-width="1.4"/>
<text transform="translate(679.5 792.35) rotate(-90) scale(0.9083 1)" font-size="21.3" >PDONα</text>
<line x1="740.8" y1="796.8" x2="740.8" y2="808" stroke="#262626" stroke-width="1.4"/>
<text transform="translate(748.1 792.35) rotate(-90) scale(0.9123 1)" font-size="21.3" >PDONβ</text>
<line x1="810" y1="796.8" x2="810" y2="808" stroke="#262626" stroke-width="1.4"/>
<text transform="translate(817.3 792.35) rotate(-90) scale(0.9097 1)" font-size="21.3" >PDONγ</text>
<text transform="translate(566.9 600.4) scale(1.0417 1)" font-size="19.2" style="fill:#1c1c1c;stroke:#1c1c1c" >RM-1 cells</text>
<text transform="translate(498.2 757.73) rotate(-90) scale(0.9475 1)" font-size="21.5">IC<tspan font-size="13.76" dy="4.3">50</tspan><tspan dy="-4.3"> Values (nM)</tspan></text>
<path d="M682.5 588.6 L682.5 586.6 L796.3 586.6 L796.3 588.6" fill="none" stroke="#1a1a1a" stroke-width="1.5"/>
<text transform="translate(733.98 582.9) scale(1.0088 1)" font-size="24" font-weight="bold" >*</text>
<path d="M681.4 615.8 L681.4 613.8 L726.4 613.8 L726.4 615.8" fill="none" stroke="#1a1a1a" stroke-width="1.5"/>
<text transform="translate(693.01 610.6) scale(1.1634 1)" font-size="24" font-weight="bold" >**</text>
<path d="M747.9 615.3 L747.9 613.3 L792.9 613.3 L792.9 615.3" fill="none" stroke="#1a1a1a" stroke-width="1.5"/>
<text transform="translate(766.78 610.1) scale(1.0088 1)" font-size="24" font-weight="bold" >*</text>
</g>
<g>
<text transform="translate(884.72 539.6) scale(0.9944 1)" font-size="28.6" >E</text>
<rect x="1012" y="751.2" width="45.6" height="47.8" fill="#314f8c"/><rect x="1015.8" y="755" width="38" height="44" fill="#9aa9c8"/>
<path d="M1034.8 751.7 L1034.8 746.5 M1023.6 746.5 L1046 746.5" stroke="#4a6bb4" stroke-width="1.4" fill="none"/>
<rect x="1080.2" y="659.9" width="45.6" height="54.6" fill="#b583b4"/><rect x="1084.3" y="664" width="37.4" height="50.5" fill="#caa6c7"/><rect x="1080.2" y="736.8" width="45.6" height="62.2" fill="#b583b4"/><rect x="1084.3" y="736.8" width="37.4" height="62.2" fill="#caa6c7"/>
<path d="M1103 660.4 L1103 641 M1091.8 641 L1114.2 641" stroke="#c08cc0" stroke-width="1.4" fill="none"/>
<rect x="1148.9" y="641.3" width="45.5" height="73.2" fill="#ee9f72"/><rect x="1153" y="645.4" width="37.3" height="69.1" fill="#f2bc9a"/><rect x="1148.9" y="736.8" width="45.5" height="62.2" fill="#ee9f72"/><rect x="1153" y="736.8" width="37.3" height="62.2" fill="#f2bc9a"/>
<path d="M1171.7 641.8 L1171.7 628.4 M1160.5 628.4 L1182.9 628.4" stroke="#ee9f72" stroke-width="1.4" fill="none"/>
<rect x="1217.6" y="655.4" width="45.8" height="59.1" fill="#f4d674"/><rect x="1221.7" y="659.5" width="37.6" height="55" fill="#f6e299"/><rect x="1217.6" y="736.8" width="45.8" height="62.2" fill="#f4d674"/><rect x="1221.7" y="736.8" width="37.6" height="62.2" fill="#f6e299"/>
<path d="M1240.5 655.9 L1240.5 654.6 M1229.3 654.6 L1251.7 654.6" stroke="#f2cf68" stroke-width="1.4" fill="none"/>
<path d="M989 714.5 L989 568.3 L1287.2 568.3 L1287.2 799 L978.2 799" fill="none" stroke="#262626" stroke-width="1.4" stroke-linejoin="miter"/>
<path d="M989 736.8 L989 799" fill="none" stroke="#262626" stroke-width="1.4"/>
<path d="M981.8 714.5 L996.2 714.5 M981.6 736.8 L996.2 736.8" fill="none" stroke="#262626" stroke-width="1.4"/>
<line x1="978.2" y1="568.3" x2="989" y2="568.3" stroke="#262626" stroke-width="1.4"/>
<text transform="translate(918.89 575.3) scale(0.9920 1)" font-size="20.2" >40000</text>
<line x1="978.2" y1="605.1" x2="989" y2="605.1" stroke="#262626" stroke-width="1.4"/>
<text transform="translate(918.89 612.1) scale(0.9920 1)" font-size="20.2" >30000</text>
<line x1="978.2" y1="642.3" x2="989" y2="642.3" stroke="#262626" stroke-width="1.4"/>
<text transform="translate(918.89 649.3) scale(0.9920 1)" font-size="20.2" >20000</text>
<line x1="978.2" y1="679.1" x2="989" y2="679.1" stroke="#262626" stroke-width="1.4"/>
<text transform="translate(918.89 686.1) scale(0.9920 1)" font-size="20.2" >10000</text>
<text transform="translate(941.24 743.8) scale(0.9920 1)" font-size="20.2" >200</text>
<line x1="978.2" y1="767.7" x2="989" y2="767.7" stroke="#262626" stroke-width="1.4"/>
<text transform="translate(941.24 774.7) scale(0.9920 1)" font-size="20.2" >100</text>
<text transform="translate(963.48 806) scale(0.9920 1)" font-size="20.2" >0</text>
<line x1="1034.8" y1="799" x2="1034.8" y2="810.2" stroke="#262626" stroke-width="1.4"/>
<text transform="translate(1042.1 794.91) rotate(-90) scale(0.9641 1)" font-size="21.3" >Taxotere</text>
<line x1="1103" y1="799" x2="1103" y2="810.2" stroke="#262626" stroke-width="1.4"/>
<text transform="translate(1110.3 796.09) rotate(-90) scale(0.9337 1)" font-size="21.3" >PDONα</text>
<line x1="1171.7" y1="799" x2="1171.7" y2="810.2" stroke="#262626" stroke-width="1.4"/>
<text transform="translate(1178.95 796.1) rotate(-90) scale(0.9379 1)" font-size="21.3" >PDONβ</text>
<line x1="1240.5" y1="799" x2="1240.5" y2="810.2" stroke="#262626" stroke-width="1.4"/>
<text transform="translate(1247.8 796.09) rotate(-90) scale(0.9352 1)" font-size="21.3" >PDONγ</text>
<text transform="translate(997.2 601.8) scale(1.0417 1)" font-size="19.2" style="fill:#1c1c1c;stroke:#1c1c1c" >L02 cells</text>
<text transform="translate(907.6 759.93) rotate(-90) scale(0.9475 1)" font-size="21.5">IC<tspan font-size="13.76" dy="4.3">50</tspan><tspan dy="-4.3"> Values (nM)</tspan></text>
<line x1="1102.5" y1="600.9" x2="1232.1" y2="600.9" stroke="#2a2a2a" stroke-width="1.3"/>
<text transform="translate(1154.5 589) scale(0.9888 1)" font-size="15.5" style="fill:#222;stroke:#222" >n.s.</text>
</g>
<g id="panelF">
<text transform="translate(64.48 871.2) scale(0.9475 1)" font-size="28" >F</text>
<path d="M59.6 892 L59.75 914.9 M59.8 924 L59.95 943.3 M60 951.5 L60.15 971.2 M60.2 978.9 L60.35 998.4 M60.4 1006.4 L60.55 1026.4 M60.6 1034 L60.75 1053.8 M60.8 1061.6 L60.95 1081.4 M61 1089.2 L61.15 1109 M61.2 1116.8 L61.35 1137" fill="none" stroke="#979bd5" stroke-width="2.7"/>
<path d="M51.6 902.8 L59.5 889.2 L67.4 903.8" fill="none" stroke="#979bd5" stroke-width="2.6" stroke-linejoin="miter"/>
<path d="M60.3 1159.9 L1317 1154.2" fill="none" stroke="#979bd5" stroke-width="2.8" stroke-dasharray="20.4 7.757"/>
<path d="M1304.6 1144.2 L1319 1153.4 L1304.6 1162.4" fill="none" stroke="#979bd5" stroke-width="2.8"/>
<text transform="translate(41.9 1025.11) rotate(-90) scale(0.9112 1)" font-size="22.2" >Comp-PE-H</text>
<text transform="translate(1083.1 1183.6) scale(1.0241 1)" font-size="21.5" >Comp-FITC-H</text>
<g>
<text transform="translate(173.58 897.2) scale(1.0792 1)" font-size="20.8" >Control</text>
<rect x="98.7" y="913.3" width="202.4" height="201.6" fill="#fff" stroke="#2a2a2a" stroke-width="1.3"/>
<g fill="none" stroke="#8c8c8c" stroke-width="0.6" opacity="0.85" transform="translate(206.3 1014.3) rotate(-41)"><path d="M33.59 0C33.17 1.11 32.39 2.22 31.7 3.2C31.02 4.17 30.33 4.99 29.5 5.85C28.67 6.72 27.89 7.58 26.75 8.39C25.62 9.2 24.3 10.02 22.67 10.72C21.04 11.41 19.1 12.04 16.95 12.56C14.81 13.08 12.64 13.5 9.81 13.85C6.99 14.21 3.31 14.51 0 14.7C-3.31 14.89 -7.16 15.06 -10.07 15C-12.99 14.95 -15.34 14.78 -17.5 14.38C-19.65 13.99 -21.5 13.36 -23.02 12.64C-24.53 11.92 -25.58 10.98 -26.59 10.07C-27.6 9.16 -28.26 8.17 -29.06 7.16C-29.86 6.15 -30.67 5.2 -31.39 4.01C-32.12 2.81 -32.99 1.39 -33.41 0C-33.83 -1.39 -34.15 -3.01 -33.91 -4.33C-33.68 -5.64 -32.99 -6.84 -32.01 -7.89C-31.02 -8.93 -29.53 -9.83 -28 -10.6C-26.47 -11.38 -24.67 -11.99 -22.81 -12.53C-20.95 -13.07 -19.01 -13.51 -16.83 -13.84C-14.65 -14.17 -12.53 -14.41 -9.73 -14.49C-6.92 -14.57 -3.2 -14.49 -0 -14.3C3.2 -14.11 6.75 -13.74 9.47 -13.37C12.18 -12.99 14.12 -12.52 16.29 -12.07C18.45 -11.61 20.48 -11.16 22.46 -10.62C24.44 -10.08 26.5 -9.53 28.16 -8.84C29.83 -8.14 31.43 -7.33 32.44 -6.44C33.46 -5.54 34.04 -4.53 34.23 -3.45C34.42 -2.38 34.01 -1.11 33.59 0Z" fill="#8c8c8c" fill-opacity="0.3"/><path d="M30.73 0C30.73 1.02 30.47 2.11 30.14 3.06C29.81 4.02 29.39 4.87 28.75 5.74C28.1 6.62 27.39 7.51 26.27 8.31C25.15 9.1 23.75 9.9 22.03 10.52C20.32 11.13 18.18 11.63 15.97 11.99C13.75 12.34 11.44 12.5 8.74 12.64C6.05 12.79 2.73 12.8 -0.21 12.85C-3.15 12.9 -6.31 12.96 -8.91 12.95C-11.5 12.94 -13.62 12.98 -15.78 12.8C-17.94 12.63 -20.08 12.37 -21.88 11.9C-23.68 11.43 -25.28 10.76 -26.56 9.98C-27.83 9.2 -28.76 8.23 -29.54 7.23C-30.31 6.22 -30.83 5.16 -31.22 3.96C-31.61 2.75 -31.88 1.32 -31.87 0C-31.86 -1.32 -31.69 -2.78 -31.16 -3.95C-30.64 -5.12 -29.76 -6.13 -28.72 -7.03C-27.67 -7.92 -26.27 -8.66 -24.89 -9.35C-23.51 -10.03 -22.01 -10.57 -20.46 -11.12C-18.91 -11.67 -17.42 -12.19 -15.6 -12.65C-13.77 -13.11 -12.08 -13.59 -9.51 -13.85C-6.95 -14.12 -3.35 -14.31 -0.21 -14.25C2.93 -14.19 6.68 -13.9 9.35 -13.5C12.01 -13.1 13.91 -12.46 15.78 -11.85C17.66 -11.24 19.14 -10.52 20.61 -9.84C22.08 -9.17 23.38 -8.49 24.6 -7.78C25.82 -7.07 27.01 -6.37 27.93 -5.58C28.84 -4.79 29.62 -3.99 30.09 -3.06C30.56 -2.13 30.72 -1.02 30.73 0Z"/><path d="M28.6 0C28.24 0.96 27.63 1.92 27.1 2.78C26.57 3.63 26.09 4.36 25.44 5.13C24.79 5.9 24.18 6.69 23.21 7.41C22.25 8.14 21.1 8.87 19.66 9.49C18.22 10.11 16.48 10.65 14.58 11.11C12.68 11.57 10.74 11.93 8.24 12.23C5.74 12.54 2.49 12.79 -0.42 12.94C-3.33 13.09 -6.7 13.2 -9.24 13.13C-11.77 13.06 -13.77 12.87 -15.63 12.5C-17.48 12.14 -19.03 11.57 -20.34 10.94C-21.65 10.31 -22.58 9.52 -23.51 8.74C-24.44 7.97 -25.14 7.15 -25.93 6.29C-26.73 5.42 -27.58 4.61 -28.29 3.56C-29 2.51 -29.82 1.23 -30.18 0C-30.55 -1.23 -30.75 -2.68 -30.47 -3.84C-30.2 -4.99 -29.47 -6.03 -28.53 -6.93C-27.59 -7.83 -26.21 -8.58 -24.83 -9.24C-23.45 -9.9 -21.88 -10.42 -20.25 -10.89C-18.62 -11.35 -16.96 -11.75 -15.06 -12.04C-13.17 -12.33 -11.34 -12.55 -8.9 -12.63C-6.46 -12.71 -3.22 -12.65 -0.42 -12.51C2.38 -12.36 5.5 -12.06 7.91 -11.76C10.31 -11.46 12.07 -11.08 14.02 -10.7C15.96 -10.31 17.81 -9.92 19.56 -9.45C21.32 -8.97 23.12 -8.46 24.53 -7.83C25.95 -7.19 27.24 -6.45 28.03 -5.64C28.83 -4.84 29.19 -3.94 29.28 -3C29.38 -2.06 28.97 -0.96 28.6 0Z"/><path d="M27.79 0C27.7 0.93 27.26 1.92 26.77 2.77C26.27 3.61 25.62 4.33 24.83 5.05C24.04 5.77 23.15 6.48 22.02 7.11C20.89 7.74 19.56 8.34 18.05 8.83C16.54 9.33 14.79 9.73 12.96 10.07C11.13 10.41 9.35 10.65 7.08 10.89C4.81 11.13 2 11.34 -0.63 11.52C-3.26 11.71 -6.27 11.93 -8.69 12C-11.1 12.06 -13.18 12.11 -15.13 11.92C-17.08 11.73 -18.93 11.37 -20.39 10.85C-21.84 10.33 -22.96 9.57 -23.84 8.79C-24.73 8.01 -25.2 7.08 -25.68 6.17C-26.16 5.26 -26.43 4.36 -26.71 3.33C-27 2.3 -27.28 1.12 -27.37 0C-27.46 -1.12 -27.52 -2.37 -27.26 -3.4C-27 -4.43 -26.52 -5.36 -25.82 -6.21C-25.12 -7.06 -24.14 -7.81 -23.07 -8.49C-21.99 -9.18 -20.76 -9.77 -19.39 -10.3C-18.03 -10.84 -16.59 -11.33 -14.85 -11.69C-13.12 -12.06 -11.38 -12.37 -9.01 -12.48C-6.64 -12.59 -3.37 -12.55 -0.63 -12.36C2.1 -12.17 5.18 -11.76 7.4 -11.34C9.62 -10.93 11.08 -10.36 12.69 -9.87C14.3 -9.37 15.64 -8.86 17.06 -8.36C18.49 -7.86 19.92 -7.41 21.24 -6.86C22.56 -6.31 23.95 -5.75 24.97 -5.08C25.98 -4.4 26.85 -3.67 27.32 -2.82C27.79 -1.97 27.89 -0.93 27.79 0Z"/><path d="M23.81 0C23.73 0.83 23.69 1.68 23.48 2.45C23.28 3.23 23.1 3.94 22.59 4.65C22.08 5.35 21.39 6.05 20.44 6.68C19.49 7.3 18.25 7.87 16.9 8.39C15.55 8.9 14 9.35 12.33 9.76C10.65 10.16 9.03 10.55 6.83 10.84C4.64 11.13 1.72 11.41 -0.84 11.51C-3.41 11.62 -6.4 11.63 -8.55 11.49C-10.71 11.34 -12.27 11.01 -13.78 10.63C-15.29 10.26 -16.45 9.73 -17.62 9.21C-18.8 8.7 -19.77 8.15 -20.82 7.57C-21.88 6.98 -22.98 6.4 -23.94 5.69C-24.91 4.98 -25.97 4.24 -26.62 3.29C-27.27 2.34 -27.77 1.11 -27.86 0C-27.94 -1.11 -27.62 -2.37 -27.12 -3.36C-26.62 -4.34 -25.74 -5.15 -24.85 -5.92C-23.96 -6.68 -22.9 -7.33 -21.79 -7.93C-20.68 -8.53 -19.52 -9.08 -18.18 -9.52C-16.83 -9.96 -15.38 -10.35 -13.73 -10.59C-12.07 -10.84 -10.38 -10.97 -8.23 -11.01C-6.09 -11.05 -3.3 -10.96 -0.84 -10.85C1.62 -10.75 4.33 -10.58 6.51 -10.39C8.7 -10.2 10.45 -10.01 12.28 -9.72C14.1 -9.43 15.93 -9.11 17.45 -8.65C18.98 -8.19 20.4 -7.62 21.4 -6.98C22.41 -6.34 23.06 -5.57 23.49 -4.83C23.92 -4.08 23.93 -3.31 23.99 -2.51C24.04 -1.7 23.9 -0.83 23.81 0Z"/><path d="M24.03 0C24.12 0.81 23.86 1.73 23.43 2.47C22.99 3.21 22.22 3.84 21.43 4.46C20.64 5.08 19.69 5.64 18.67 6.19C17.64 6.73 16.55 7.26 15.28 7.72C14.01 8.19 12.62 8.63 11.05 8.96C9.47 9.3 7.86 9.55 5.84 9.74C3.83 9.92 1.23 10 -1.05 10.07C-3.34 10.14 -5.84 10.16 -7.87 10.15C-9.9 10.14 -11.53 10.15 -13.24 10.02C-14.94 9.89 -16.67 9.72 -18.11 9.37C-19.55 9.01 -20.9 8.51 -21.87 7.88C-22.83 7.26 -23.47 6.44 -23.89 5.63C-24.31 4.81 -24.35 3.92 -24.4 2.98C-24.46 2.04 -24.33 0.98 -24.23 0C-24.14 -0.98 -24.07 -2.01 -23.84 -2.91C-23.61 -3.81 -23.39 -4.62 -22.87 -5.38C-22.36 -6.14 -21.67 -6.86 -20.77 -7.47C-19.87 -8.08 -18.72 -8.59 -17.48 -9.02C-16.23 -9.45 -14.83 -9.78 -13.29 -10.06C-11.75 -10.34 -10.27 -10.56 -8.23 -10.69C-6.19 -10.82 -3.46 -10.89 -1.05 -10.82C1.35 -10.75 4.18 -10.55 6.21 -10.25C8.23 -9.95 9.69 -9.47 11.1 -9C12.51 -8.53 13.57 -7.95 14.65 -7.42C15.73 -6.9 16.61 -6.37 17.57 -5.84C18.53 -5.32 19.53 -4.83 20.41 -4.26C21.3 -3.69 22.26 -3.12 22.86 -2.41C23.47 -1.7 23.93 -0.81 24.03 0Z"/><path d="M21.18 0C21.37 0.74 21.56 1.57 21.43 2.29C21.3 3.01 21.02 3.69 20.41 4.3C19.8 4.91 18.84 5.49 17.75 5.96C16.66 6.44 15.24 6.81 13.87 7.15C12.51 7.5 11.04 7.74 9.55 8.01C8.07 8.29 6.77 8.54 4.97 8.79C3.16 9.04 0.88 9.33 -1.26 9.51C-3.4 9.68 -5.95 9.85 -7.88 9.85C-9.81 9.85 -11.36 9.74 -12.84 9.52C-14.33 9.3 -15.61 8.94 -16.78 8.52C-17.96 8.11 -18.96 7.61 -19.87 7.05C-20.79 6.49 -21.63 5.87 -22.26 5.17C-22.89 4.48 -23.43 3.72 -23.68 2.86C-23.92 2 -23.92 0.93 -23.74 0C-23.55 -0.93 -23.05 -1.92 -22.57 -2.72C-22.08 -3.52 -21.43 -4.16 -20.83 -4.82C-20.23 -5.49 -19.66 -6.1 -18.96 -6.7C-18.26 -7.3 -17.6 -7.93 -16.62 -8.43C-15.64 -8.94 -14.51 -9.43 -13.1 -9.73C-11.68 -10.03 -10.11 -10.2 -8.13 -10.23C-6.16 -10.27 -3.49 -10.11 -1.26 -9.93C0.96 -9.75 3.38 -9.45 5.22 -9.16C7.07 -8.87 8.39 -8.55 9.81 -8.2C11.22 -7.86 12.54 -7.5 13.71 -7.08C14.88 -6.66 15.96 -6.19 16.84 -5.68C17.71 -5.17 18.4 -4.6 18.98 -4.01C19.56 -3.43 19.95 -2.85 20.32 -2.18C20.68 -1.51 21 -0.74 21.18 0Z"/><path d="M18.77 0C18.85 0.67 18.87 1.4 18.66 2.03C18.45 2.66 18.05 3.22 17.51 3.76C16.97 4.31 16.23 4.81 15.43 5.3C14.62 5.79 13.72 6.25 12.7 6.7C11.68 7.15 10.61 7.61 9.3 7.98C7.99 8.35 6.66 8.73 4.86 8.95C3.07 9.17 0.59 9.3 -1.47 9.3C-3.53 9.31 -5.83 9.16 -7.5 8.98C-9.17 8.8 -10.26 8.5 -11.49 8.23C-12.71 7.96 -13.75 7.67 -14.85 7.35C-15.95 7.02 -17.07 6.71 -18.07 6.28C-19.07 5.86 -20.12 5.38 -20.86 4.78C-21.61 4.18 -22.22 3.49 -22.55 2.69C-22.88 1.89 -22.93 0.89 -22.86 0C-22.79 -0.89 -22.48 -1.85 -22.12 -2.64C-21.76 -3.43 -21.3 -4.1 -20.71 -4.74C-20.13 -5.38 -19.46 -5.99 -18.6 -6.48C-17.74 -6.98 -16.71 -7.42 -15.56 -7.73C-14.41 -8.05 -13.07 -8.25 -11.69 -8.4C-10.31 -8.55 -8.98 -8.59 -7.28 -8.65C-5.58 -8.7 -3.46 -8.72 -1.47 -8.72C0.51 -8.71 2.81 -8.73 4.64 -8.63C6.47 -8.53 8.05 -8.4 9.51 -8.13C10.97 -7.87 12.34 -7.48 13.41 -7.04C14.49 -6.59 15.3 -6.02 15.95 -5.47C16.61 -4.92 16.98 -4.31 17.36 -3.73C17.74 -3.15 17.99 -2.61 18.22 -1.99C18.46 -1.37 18.7 -0.67 18.77 0Z"/><path d="M17.35 0C17.6 0.63 17.86 1.35 17.77 1.96C17.69 2.58 17.4 3.16 16.85 3.68C16.31 4.2 15.44 4.67 14.52 5.08C13.6 5.5 12.46 5.84 11.34 6.16C10.22 6.48 9.06 6.76 7.8 7.03C6.54 7.29 5.38 7.55 3.8 7.75C2.22 7.94 0.15 8.11 -1.68 8.19C-3.52 8.27 -5.61 8.27 -7.19 8.2C-8.77 8.13 -9.93 7.98 -11.16 7.79C-12.4 7.61 -13.5 7.38 -14.59 7.09C-15.68 6.8 -16.77 6.49 -17.69 6.06C-18.62 5.64 -19.54 5.14 -20.15 4.55C-20.76 3.96 -21.19 3.27 -21.34 2.51C-21.49 1.75 -21.3 0.8 -21.05 0C-20.8 -0.8 -20.27 -1.63 -19.83 -2.32C-19.39 -3 -18.89 -3.55 -18.39 -4.12C-17.9 -4.69 -17.47 -5.24 -16.85 -5.74C-16.24 -6.25 -15.6 -6.76 -14.72 -7.16C-13.84 -7.55 -12.78 -7.9 -11.56 -8.12C-10.34 -8.34 -9.04 -8.45 -7.39 -8.51C-5.75 -8.56 -3.58 -8.51 -1.68 -8.43C0.22 -8.35 2.36 -8.22 4.01 -8.04C5.65 -7.85 6.95 -7.62 8.2 -7.32C9.44 -7.02 10.56 -6.64 11.47 -6.22C12.39 -5.8 13.08 -5.3 13.68 -4.82C14.29 -4.34 14.67 -3.83 15.1 -3.33C15.53 -2.83 15.89 -2.37 16.27 -1.81C16.64 -1.26 17.09 -0.63 17.35 0Z"/><path d="M14.95 0C14.8 0.56 14.58 1.13 14.39 1.64C14.2 2.16 14.07 2.62 13.78 3.11C13.5 3.6 13.2 4.11 12.65 4.56C12.1 5.02 11.38 5.48 10.48 5.85C9.58 6.22 8.45 6.53 7.26 6.78C6.06 7.03 4.84 7.2 3.31 7.35C1.78 7.49 -0.17 7.6 -1.89 7.65C-3.62 7.7 -5.57 7.73 -7.04 7.67C-8.52 7.61 -9.65 7.48 -10.74 7.27C-11.83 7.06 -12.75 6.76 -13.57 6.41C-14.4 6.07 -15.04 5.65 -15.69 5.23C-16.35 4.8 -16.92 4.35 -17.5 3.85C-18.08 3.34 -18.71 2.85 -19.16 2.2C-19.62 1.56 -20.09 0.75 -20.24 0C-20.4 -0.75 -20.37 -1.64 -20.08 -2.32C-19.79 -3 -19.19 -3.59 -18.53 -4.1C-17.86 -4.61 -16.96 -5.01 -16.11 -5.38C-15.26 -5.75 -14.35 -6.05 -13.41 -6.33C-12.48 -6.61 -11.57 -6.86 -10.49 -7.07C-9.41 -7.27 -8.39 -7.45 -6.95 -7.54C-5.52 -7.62 -3.59 -7.64 -1.89 -7.58C-0.2 -7.53 1.74 -7.39 3.22 -7.22C4.7 -7.06 5.82 -6.83 7 -6.59C8.19 -6.35 9.31 -6.09 10.32 -5.77C11.33 -5.46 12.32 -5.1 13.07 -4.69C13.82 -4.28 14.44 -3.81 14.81 -3.31C15.18 -2.82 15.28 -2.29 15.31 -1.74C15.33 -1.18 15.1 -0.56 14.95 0Z"/><path d="M14.41 0C14.57 0.54 14.64 1.16 14.44 1.67C14.23 2.17 13.77 2.63 13.19 3.03C12.61 3.44 11.77 3.78 10.96 4.1C10.15 4.42 9.24 4.67 8.34 4.94C7.45 5.21 6.59 5.47 5.61 5.72C4.63 5.97 3.75 6.24 2.46 6.45C1.17 6.65 -0.56 6.85 -2.11 6.94C-3.65 7.04 -5.47 7.07 -6.83 7.03C-8.18 6.99 -9.21 6.87 -10.26 6.7C-11.31 6.54 -12.26 6.33 -13.14 6.06C-14.02 5.79 -14.87 5.48 -15.55 5.09C-16.24 4.7 -16.85 4.24 -17.25 3.73C-17.64 3.22 -17.84 2.64 -17.9 2.02C-17.96 1.39 -17.78 0.65 -17.62 0C-17.46 -0.65 -17.17 -1.31 -16.94 -1.89C-16.7 -2.47 -16.5 -2.96 -16.21 -3.48C-15.93 -3.99 -15.69 -4.51 -15.22 -4.97C-14.75 -5.42 -14.18 -5.87 -13.4 -6.2C-12.62 -6.53 -11.63 -6.78 -10.54 -6.93C-9.45 -7.09 -8.29 -7.11 -6.88 -7.11C-5.48 -7.11 -3.67 -7.02 -2.11 -6.92C-0.54 -6.82 1.18 -6.69 2.52 -6.53C3.85 -6.36 4.88 -6.17 5.89 -5.92C6.91 -5.68 7.82 -5.39 8.61 -5.06C9.4 -4.74 10.03 -4.37 10.63 -3.99C11.22 -3.62 11.69 -3.23 12.16 -2.83C12.63 -2.43 13.09 -2.04 13.47 -1.57C13.84 -1.1 14.25 -0.54 14.41 0Z"/><path d="M12.16 0C12.14 0.48 12.02 0.99 11.76 1.42C11.51 1.85 11.08 2.21 10.63 2.57C10.17 2.92 9.59 3.23 9.02 3.56C8.45 3.88 7.86 4.18 7.2 4.5C6.53 4.81 5.88 5.15 5.02 5.44C4.17 5.73 3.32 6.03 2.09 6.22C0.87 6.42 -0.86 6.56 -2.32 6.59C-3.77 6.63 -5.44 6.55 -6.63 6.43C-7.83 6.31 -8.63 6.1 -9.48 5.89C-10.33 5.68 -11.04 5.44 -11.75 5.18C-12.47 4.92 -13.15 4.66 -13.76 4.33C-14.37 4.01 -14.97 3.65 -15.42 3.23C-15.86 2.81 -16.21 2.34 -16.43 1.8C-16.65 1.26 -16.73 0.6 -16.74 0C-16.76 -0.6 -16.68 -1.26 -16.54 -1.82C-16.4 -2.37 -16.23 -2.88 -15.91 -3.35C-15.58 -3.82 -15.18 -4.28 -14.6 -4.65C-14.02 -5.02 -13.26 -5.33 -12.42 -5.55C-11.58 -5.76 -10.56 -5.87 -9.55 -5.95C-8.53 -6.02 -7.54 -5.99 -6.34 -5.99C-5.13 -5.98 -3.67 -5.95 -2.32 -5.92C-0.96 -5.89 0.56 -5.87 1.79 -5.8C3.03 -5.73 4.08 -5.65 5.09 -5.49C6.1 -5.32 7.07 -5.09 7.86 -4.81C8.66 -4.53 9.31 -4.18 9.85 -3.82C10.4 -3.46 10.77 -3.06 11.11 -2.66C11.45 -2.27 11.7 -1.88 11.87 -1.43C12.04 -0.99 12.17 -0.48 12.16 0Z"/><path d="M11.06 0C11.1 0.44 10.93 0.94 10.66 1.33C10.38 1.72 9.88 2.05 9.4 2.37C8.92 2.68 8.34 2.95 7.77 3.23C7.2 3.51 6.62 3.77 5.97 4.02C5.32 4.27 4.65 4.52 3.85 4.73C3.06 4.93 2.26 5.12 1.19 5.25C0.13 5.38 -1.28 5.47 -2.53 5.52C-3.77 5.57 -5.16 5.57 -6.26 5.56C-7.35 5.54 -8.21 5.5 -9.11 5.41C-10 5.32 -10.88 5.2 -11.62 4.99C-12.36 4.79 -13.06 4.51 -13.55 4.17C-14.05 3.84 -14.38 3.41 -14.59 2.97C-14.81 2.54 -14.81 2.07 -14.84 1.57C-14.86 1.08 -14.77 0.52 -14.73 0C-14.7 -0.52 -14.68 -1.06 -14.61 -1.54C-14.53 -2.03 -14.49 -2.47 -14.28 -2.9C-14.06 -3.32 -13.77 -3.74 -13.31 -4.08C-12.86 -4.43 -12.23 -4.72 -11.54 -4.95C-10.85 -5.18 -10.02 -5.33 -9.15 -5.45C-8.28 -5.57 -7.43 -5.63 -6.33 -5.66C-5.22 -5.7 -3.79 -5.7 -2.53 -5.65C-1.26 -5.6 0.19 -5.5 1.27 -5.35C2.34 -5.21 3.13 -4.99 3.9 -4.76C4.67 -4.53 5.29 -4.25 5.89 -3.98C6.5 -3.71 7 -3.43 7.53 -3.15C8.06 -2.88 8.6 -2.61 9.09 -2.3C9.57 -2 10.1 -1.69 10.43 -1.31C10.76 -0.92 11.02 -0.44 11.06 0Z"/><path d="M8.75 0C8.76 0.38 8.65 0.78 8.5 1.13C8.35 1.48 8.14 1.79 7.86 2.1C7.58 2.41 7.25 2.72 6.81 2.99C6.36 3.27 5.82 3.54 5.19 3.75C4.56 3.96 3.79 4.13 3 4.25C2.22 4.38 1.41 4.45 0.46 4.51C-0.5 4.58 -1.67 4.61 -2.74 4.65C-3.8 4.69 -4.97 4.74 -5.93 4.76C-6.89 4.77 -7.7 4.8 -8.51 4.75C-9.32 4.69 -10.12 4.59 -10.77 4.41C-11.42 4.23 -11.99 3.97 -12.42 3.67C-12.85 3.37 -13.13 2.99 -13.36 2.62C-13.6 2.24 -13.71 1.85 -13.82 1.41C-13.92 0.98 -13.98 0.47 -13.97 0C-13.96 -0.47 -13.91 -0.98 -13.75 -1.41C-13.59 -1.83 -13.33 -2.19 -13 -2.53C-12.67 -2.86 -12.22 -3.15 -11.76 -3.42C-11.3 -3.68 -10.78 -3.9 -10.23 -4.12C-9.68 -4.33 -9.13 -4.53 -8.45 -4.7C-7.77 -4.86 -7.12 -5.03 -6.17 -5.11C-5.22 -5.19 -3.88 -5.23 -2.74 -5.19C-1.59 -5.14 -0.25 -5.01 0.69 -4.85C1.64 -4.68 2.29 -4.44 2.95 -4.21C3.61 -3.98 4.12 -3.73 4.65 -3.49C5.18 -3.26 5.67 -3.03 6.15 -2.79C6.62 -2.54 7.11 -2.31 7.49 -2.03C7.87 -1.75 8.23 -1.47 8.43 -1.13C8.64 -0.79 8.74 -0.38 8.75 0Z"/><path d="M6.84 0C6.81 0.32 6.75 0.67 6.61 0.96C6.47 1.26 6.28 1.52 6 1.77C5.72 2.03 5.34 2.26 4.92 2.47C4.51 2.68 4.01 2.87 3.51 3.05C3 3.24 2.48 3.41 1.88 3.58C1.29 3.75 0.74 3.93 -0.06 4.08C-0.87 4.22 -1.96 4.37 -2.95 4.44C-3.93 4.51 -5.12 4.55 -5.97 4.5C-6.82 4.46 -7.45 4.33 -8.04 4.18C-8.62 4.03 -9.07 3.81 -9.5 3.6C-9.94 3.39 -10.28 3.15 -10.63 2.91C-10.99 2.67 -11.34 2.43 -11.64 2.14C-11.95 1.86 -12.26 1.57 -12.46 1.21C-12.65 0.86 -12.79 0.41 -12.83 0C-12.86 -0.41 -12.78 -0.86 -12.65 -1.24C-12.52 -1.61 -12.3 -1.93 -12.05 -2.24C-11.8 -2.56 -11.51 -2.85 -11.15 -3.1C-10.78 -3.36 -10.36 -3.61 -9.84 -3.79C-9.32 -3.97 -8.71 -4.11 -8.03 -4.18C-7.36 -4.26 -6.64 -4.26 -5.8 -4.24C-4.95 -4.22 -3.87 -4.14 -2.95 -4.07C-2.02 -4 -1.04 -3.91 -0.24 -3.83C0.57 -3.75 1.2 -3.68 1.88 -3.58C2.56 -3.47 3.25 -3.37 3.84 -3.21C4.44 -3.05 5.01 -2.86 5.44 -2.63C5.86 -2.4 6.18 -2.13 6.41 -1.86C6.64 -1.58 6.73 -1.29 6.8 -0.98C6.87 -0.67 6.87 -0.32 6.84 0Z"/><path d="M4.99 0C4.9 0.27 4.76 0.54 4.63 0.79C4.5 1.03 4.38 1.24 4.21 1.46C4.03 1.68 3.85 1.91 3.56 2.11C3.28 2.31 2.93 2.51 2.52 2.68C2.1 2.85 1.6 3 1.07 3.13C0.53 3.26 -0.01 3.36 -0.71 3.46C-1.41 3.55 -2.33 3.63 -3.16 3.68C-3.98 3.72 -4.95 3.76 -5.66 3.73C-6.38 3.71 -6.94 3.64 -7.45 3.53C-7.97 3.42 -8.39 3.25 -8.75 3.07C-9.11 2.89 -9.37 2.67 -9.64 2.46C-9.91 2.24 -10.14 2.02 -10.38 1.78C-10.63 1.54 -10.9 1.31 -11.11 1.02C-11.32 0.72 -11.55 0.35 -11.64 0C-11.73 -0.35 -11.76 -0.76 -11.66 -1.09C-11.56 -1.41 -11.33 -1.69 -11.06 -1.95C-10.79 -2.2 -10.41 -2.41 -10.03 -2.6C-9.65 -2.79 -9.22 -2.95 -8.77 -3.08C-8.32 -3.22 -7.86 -3.34 -7.32 -3.42C-6.78 -3.5 -6.25 -3.56 -5.56 -3.58C-4.87 -3.59 -3.95 -3.57 -3.16 -3.52C-2.37 -3.48 -1.5 -3.39 -0.81 -3.31C-0.13 -3.23 0.37 -3.13 0.93 -3.03C1.49 -2.93 2.04 -2.83 2.54 -2.69C3.04 -2.56 3.56 -2.41 3.95 -2.23C4.34 -2.05 4.68 -1.83 4.88 -1.6C5.09 -1.36 5.16 -1.11 5.18 -0.84C5.19 -0.58 5.08 -0.27 4.99 0Z"/><path d="M3.32 0C3.25 0.22 3.14 0.45 3.04 0.65C2.93 0.85 2.84 1.02 2.69 1.2C2.53 1.38 2.37 1.56 2.13 1.73C1.89 1.89 1.6 2.05 1.25 2.18C0.91 2.32 0.5 2.44 0.07 2.55C-0.37 2.65 -0.8 2.74 -1.37 2.82C-1.94 2.9 -2.69 2.98 -3.37 3.02C-4.05 3.06 -4.84 3.09 -5.43 3.07C-6.02 3.05 -6.48 3 -6.9 2.9C-7.32 2.81 -7.66 2.67 -7.95 2.52C-8.25 2.37 -8.45 2.19 -8.67 2.01C-8.9 1.83 -9.08 1.65 -9.28 1.46C-9.48 1.26 -9.71 1.07 -9.88 0.83C-10.05 0.59 -10.23 0.29 -10.3 0C-10.37 -0.29 -10.38 -0.62 -10.3 -0.88C-10.22 -1.15 -10.03 -1.38 -9.82 -1.59C-9.6 -1.8 -9.3 -1.97 -9 -2.13C-8.69 -2.29 -8.36 -2.42 -7.99 -2.54C-7.63 -2.65 -7.24 -2.75 -6.8 -2.82C-6.36 -2.89 -5.91 -2.93 -5.34 -2.94C-4.77 -2.95 -4.02 -2.92 -3.37 -2.88C-2.72 -2.84 -2.02 -2.76 -1.46 -2.7C-0.9 -2.63 -0.49 -2.55 -0.03 -2.47C0.43 -2.39 0.88 -2.31 1.29 -2.2C1.71 -2.1 2.13 -1.98 2.46 -1.83C2.78 -1.68 3.05 -1.5 3.22 -1.31C3.39 -1.12 3.44 -0.91 3.46 -0.69C3.48 -0.47 3.39 -0.22 3.32 0Z"/><path d="M1.89 0C1.85 0.18 1.72 0.37 1.58 0.52C1.45 0.67 1.25 0.79 1.07 0.92C0.9 1.05 0.72 1.17 0.53 1.29C0.34 1.41 0.17 1.54 -0.06 1.66C-0.29 1.79 -0.54 1.92 -0.85 2.02C-1.17 2.12 -1.52 2.21 -1.97 2.27C-2.43 2.33 -3.05 2.36 -3.58 2.37C-4.11 2.38 -4.7 2.36 -5.15 2.34C-5.59 2.31 -5.92 2.27 -6.27 2.21C-6.61 2.15 -6.92 2.08 -7.19 1.98C-7.46 1.89 -7.71 1.77 -7.9 1.64C-8.09 1.5 -8.22 1.34 -8.33 1.17C-8.45 1.01 -8.5 0.83 -8.57 0.64C-8.64 0.44 -8.69 0.22 -8.73 0C-8.77 -0.22 -8.83 -0.46 -8.82 -0.67C-8.82 -0.88 -8.8 -1.08 -8.68 -1.26C-8.57 -1.44 -8.39 -1.6 -8.15 -1.73C-7.92 -1.86 -7.6 -1.96 -7.27 -2.03C-6.95 -2.1 -6.58 -2.13 -6.21 -2.17C-5.85 -2.2 -5.51 -2.21 -5.07 -2.22C-4.63 -2.23 -4.08 -2.24 -3.58 -2.23C-3.08 -2.22 -2.49 -2.2 -2.05 -2.16C-1.6 -2.12 -1.25 -2.06 -0.91 -1.98C-0.56 -1.9 -0.26 -1.8 0.02 -1.7C0.3 -1.6 0.55 -1.49 0.79 -1.37C1.02 -1.25 1.25 -1.13 1.42 -0.99C1.59 -0.85 1.76 -0.71 1.84 -0.55C1.91 -0.38 1.94 -0.18 1.89 0Z"/><path d="M0.03 0C0.08 0.13 0.13 0.27 0.11 0.39C0.08 0.52 0.01 0.63 -0.1 0.73C-0.21 0.83 -0.39 0.93 -0.58 1.01C-0.76 1.09 -0.98 1.16 -1.21 1.22C-1.43 1.29 -1.65 1.35 -1.9 1.4C-2.15 1.45 -2.38 1.51 -2.69 1.55C-3.01 1.58 -3.42 1.62 -3.79 1.63C-4.15 1.65 -4.57 1.64 -4.88 1.63C-5.2 1.62 -5.43 1.59 -5.68 1.55C-5.93 1.52 -6.15 1.47 -6.37 1.42C-6.59 1.36 -6.81 1.3 -7 1.21C-7.18 1.13 -7.36 1.03 -7.48 0.91C-7.59 0.79 -7.67 0.65 -7.69 0.5C-7.71 0.35 -7.67 0.16 -7.62 0C-7.57 -0.16 -7.47 -0.32 -7.39 -0.46C-7.3 -0.6 -7.22 -0.71 -7.12 -0.82C-7.03 -0.94 -6.95 -1.05 -6.83 -1.15C-6.71 -1.25 -6.58 -1.35 -6.4 -1.43C-6.22 -1.51 -6 -1.58 -5.76 -1.62C-5.51 -1.66 -5.25 -1.68 -4.93 -1.69C-4.6 -1.7 -4.17 -1.69 -3.79 -1.68C-3.41 -1.66 -2.98 -1.64 -2.65 -1.6C-2.33 -1.57 -2.07 -1.52 -1.82 -1.46C-1.57 -1.4 -1.36 -1.32 -1.18 -1.23C-1 -1.15 -0.87 -1.05 -0.74 -0.96C-0.62 -0.86 -0.55 -0.76 -0.45 -0.66C-0.36 -0.56 -0.28 -0.47 -0.2 -0.36C-0.12 -0.25 -0.02 -0.13 0.03 0Z"/><path d="M-1.77 0C-1.77 0.07 -1.76 0.15 -1.76 0.23C-1.77 0.3 -1.77 0.37 -1.8 0.44C-1.84 0.5 -1.9 0.57 -1.99 0.63C-2.08 0.69 -2.2 0.74 -2.34 0.79C-2.47 0.83 -2.64 0.86 -2.8 0.89C-2.97 0.91 -3.13 0.93 -3.33 0.95C-3.53 0.97 -3.78 0.98 -4 0.99C-4.22 1 -4.48 1.01 -4.67 1C-4.87 1 -5.02 0.98 -5.17 0.96C-5.31 0.94 -5.44 0.9 -5.56 0.86C-5.68 0.82 -5.79 0.77 -5.89 0.72C-5.99 0.66 -6.09 0.6 -6.17 0.53C-6.25 0.47 -6.34 0.39 -6.39 0.3C-6.43 0.22 -6.47 0.1 -6.46 0C-6.46 -0.1 -6.41 -0.21 -6.35 -0.3C-6.3 -0.39 -6.2 -0.46 -6.11 -0.52C-6.02 -0.58 -5.92 -0.64 -5.82 -0.69C-5.72 -0.74 -5.63 -0.79 -5.52 -0.84C-5.41 -0.88 -5.31 -0.93 -5.17 -0.96C-5.03 -0.99 -4.89 -1.02 -4.7 -1.04C-4.5 -1.05 -4.23 -1.05 -4 -1.04C-3.77 -1.03 -3.5 -1.01 -3.3 -0.98C-3.1 -0.96 -2.96 -0.92 -2.8 -0.89C-2.65 -0.85 -2.5 -0.81 -2.38 -0.77C-2.26 -0.72 -2.14 -0.67 -2.06 -0.61C-1.97 -0.55 -1.91 -0.49 -1.86 -0.42C-1.82 -0.36 -1.81 -0.29 -1.79 -0.22C-1.78 -0.15 -1.78 -0.07 -1.77 0Z" fill="#fff" stroke="none"/></g>
<path d="M232.2 913.3 L232.2 1114.9 M98.7 987.1 L301.1 987.1" stroke="#161616" stroke-width="1.6" fill="none"/>
<text transform="translate(71.18 1114.5) scale(0.9997 1)" font-size="10.3" font-weight="bold" style="fill:#141414;stroke:#141414;stroke-width:0.4px" >10</text>
<text transform="translate(83.25 1107.6) scale(1.1623 1)" font-size="9.6" font-weight="bold" style="fill:#141414;stroke:#141414;stroke-width:0.2px" >0</text>
<text transform="translate(71.18 1083.24) scale(0.9997 1)" font-size="10.3" font-weight="bold" style="fill:#141414;stroke:#141414;stroke-width:0.4px" >10</text>
<text transform="translate(83.02 1076.34) scale(1.1746 1)" font-size="9.6" font-weight="bold" style="fill:#141414;stroke:#141414;stroke-width:0.2px" >1</text>
<text transform="translate(71.18 1046.18) scale(0.9997 1)" font-size="10.3" font-weight="bold" style="fill:#141414;stroke:#141414;stroke-width:0.4px" >10</text>
<text transform="translate(83.31 1039.28) scale(1.1502 1)" font-size="9.6" font-weight="bold" style="fill:#141414;stroke:#141414;stroke-width:0.2px" >2</text>
<text transform="translate(71.18 1009.12) scale(0.9997 1)" font-size="10.3" font-weight="bold" style="fill:#141414;stroke:#141414;stroke-width:0.4px" >10</text>
<text transform="translate(83.43 1002.22) scale(1.1153 1)" font-size="9.6" font-weight="bold" style="fill:#141414;stroke:#141414;stroke-width:0.2px" >3</text>
<text transform="translate(71.18 972.06) scale(0.9997 1)" font-size="10.3" font-weight="bold" style="fill:#141414;stroke:#141414;stroke-width:0.4px" >10</text>
<text transform="translate(83.55 965.16) scale(1.0319 1)" font-size="9.6" font-weight="bold" style="fill:#141414;stroke:#141414;stroke-width:0.2px" >4</text>
<text transform="translate(71.18 935) scale(0.9997 1)" font-size="10.3" font-weight="bold" style="fill:#141414;stroke:#141414;stroke-width:0.4px" >10</text>
<text transform="translate(83.38 928.1) scale(1.1042 1)" font-size="9.6" font-weight="bold" style="fill:#141414;stroke:#141414;stroke-width:0.2px" >5</text>
<text transform="translate(102.38 1141.3) scale(0.9997 1)" font-size="10.3" font-weight="bold" style="fill:#141414;stroke:#141414;stroke-width:0.4px" >10</text>
<text transform="translate(114.45 1134.4) scale(1.1623 1)" font-size="9.6" font-weight="bold" style="fill:#141414;stroke:#141414;stroke-width:0.2px" >0</text>
<text transform="translate(129.88 1141.3) scale(0.9997 1)" font-size="10.3" font-weight="bold" style="fill:#141414;stroke:#141414;stroke-width:0.4px" >10</text>
<text transform="translate(141.72 1134.4) scale(1.1746 1)" font-size="9.6" font-weight="bold" style="fill:#141414;stroke:#141414;stroke-width:0.2px" >1</text>
<text transform="translate(167.18 1141.3) scale(0.9997 1)" font-size="10.3" font-weight="bold" style="fill:#141414;stroke:#141414;stroke-width:0.4px" >10</text>
<text transform="translate(179.31 1134.4) scale(1.1502 1)" font-size="9.6" font-weight="bold" style="fill:#141414;stroke:#141414;stroke-width:0.2px" >2</text>
<text transform="translate(204.28 1141.3) scale(0.9997 1)" font-size="10.3" font-weight="bold" style="fill:#141414;stroke:#141414;stroke-width:0.4px" >10</text>
<text transform="translate(216.53 1134.4) scale(1.1153 1)" font-size="9.6" font-weight="bold" style="fill:#141414;stroke:#141414;stroke-width:0.2px" >3</text>
<text transform="translate(241.58 1141.3) scale(0.9997 1)" font-size="10.3" font-weight="bold" style="fill:#141414;stroke:#141414;stroke-width:0.4px" >10</text>
<text transform="translate(253.95 1134.4) scale(1.0319 1)" font-size="9.6" font-weight="bold" style="fill:#141414;stroke:#141414;stroke-width:0.2px" >4</text>
<text transform="translate(278.88 1141.3) scale(0.9997 1)" font-size="10.3" font-weight="bold" style="fill:#141414;stroke:#141414;stroke-width:0.4px" >10</text>
<text transform="translate(291.08 1134.4) scale(1.1042 1)" font-size="9.6" font-weight="bold" style="fill:#141414;stroke:#141414;stroke-width:0.2px" >5</text>
<path d="M92.3 1114.2 L98.7 1114.2 M92.3 1077.14 L98.7 1077.14 M92.3 1040.08 L98.7 1040.08 M92.3 1003.02 L98.7 1003.02 M92.3 965.96 L98.7 965.96 M92.3 928.9 L98.7 928.9 M99.1 1114.9 L99.1 1121.1 M135.1 1114.9 L135.1 1121.1 M172.4 1114.9 L172.4 1121.1 M209.5 1114.9 L209.5 1121.1 M246.8 1114.9 L246.8 1121.1 M284.1 1114.9 L284.1 1121.1" stroke="#2a2a2a" stroke-width="1.3" fill="none"/>
<path d="M95.4 1103.04 L98.7 1103.04 M95.4 1096.52 L98.7 1096.52 M95.4 1091.89 L98.7 1091.89 M95.4 1088.3 L98.7 1088.3 M95.4 1085.36 L98.7 1085.36 M95.4 1082.88 L98.7 1082.88 M95.4 1080.73 L98.7 1080.73 M95.4 1078.84 L98.7 1078.84 M95.4 1065.98 L98.7 1065.98 M95.4 1059.46 L98.7 1059.46 M95.4 1054.83 L98.7 1054.83 M95.4 1051.24 L98.7 1051.24 M95.4 1048.3 L98.7 1048.3 M95.4 1045.82 L98.7 1045.82 M95.4 1043.67 L98.7 1043.67 M95.4 1041.78 L98.7 1041.78 M95.4 1028.92 L98.7 1028.92 M95.4 1022.4 L98.7 1022.4 M95.4 1017.77 L98.7 1017.77 M95.4 1014.18 L98.7 1014.18 M95.4 1011.24 L98.7 1011.24 M95.4 1008.76 L98.7 1008.76 M95.4 1006.61 L98.7 1006.61 M95.4 1004.72 L98.7 1004.72 M95.4 991.86 L98.7 991.86 M95.4 985.34 L98.7 985.34 M95.4 980.71 L98.7 980.71 M95.4 977.12 L98.7 977.12 M95.4 974.18 L98.7 974.18 M95.4 971.7 L98.7 971.7 M95.4 969.55 L98.7 969.55 M95.4 967.66 L98.7 967.66 M95.4 954.8 L98.7 954.8 M95.4 948.28 L98.7 948.28 M95.4 943.65 L98.7 943.65 M95.4 940.06 L98.7 940.06 M95.4 937.12 L98.7 937.12 M95.4 934.64 L98.7 934.64 M95.4 932.49 L98.7 932.49 M95.4 930.6 L98.7 930.6 M95.4 917.74 L98.7 917.74 M109.94 1114.9 L109.94 1118.1 M116.28 1114.9 L116.28 1118.1 M120.77 1114.9 L120.77 1118.1 M124.26 1114.9 L124.26 1118.1 M127.11 1114.9 L127.11 1118.1 M129.52 1114.9 L129.52 1118.1 M131.61 1114.9 L131.61 1118.1 M133.45 1114.9 L133.45 1118.1 M146.33 1114.9 L146.33 1118.1 M152.9 1114.9 L152.9 1118.1 M157.56 1114.9 L157.56 1118.1 M161.17 1114.9 L161.17 1118.1 M164.13 1114.9 L164.13 1118.1 M166.62 1114.9 L166.62 1118.1 M168.79 1114.9 L168.79 1118.1 M170.69 1114.9 L170.69 1118.1 M183.57 1114.9 L183.57 1118.1 M190.1 1114.9 L190.1 1118.1 M194.74 1114.9 L194.74 1118.1 M198.33 1114.9 L198.33 1118.1 M201.27 1114.9 L201.27 1118.1 M203.75 1114.9 L203.75 1118.1 M205.9 1114.9 L205.9 1118.1 M207.8 1114.9 L207.8 1118.1 M220.73 1114.9 L220.73 1118.1 M227.3 1114.9 L227.3 1118.1 M231.96 1114.9 L231.96 1118.1 M235.57 1114.9 L235.57 1118.1 M238.53 1114.9 L238.53 1118.1 M241.02 1114.9 L241.02 1118.1 M243.19 1114.9 L243.19 1118.1 M245.09 1114.9 L245.09 1118.1 M258.03 1114.9 L258.03 1118.1 M264.6 1114.9 L264.6 1118.1 M269.26 1114.9 L269.26 1118.1 M272.87 1114.9 L272.87 1118.1 M275.83 1114.9 L275.83 1118.1 M278.32 1114.9 L278.32 1118.1 M280.49 1114.9 L280.49 1118.1 M282.39 1114.9 L282.39 1118.1 M295.27 1114.9 L295.27 1118.1" stroke="#2a2a2a" stroke-width="0.8" fill="none"/>
<text transform="translate(102.38 934) scale(1.1000 1)" font-size="12.6" style="fill:#1c1c1c;stroke:#1c1c1c;stroke-width:0.3px" >Q1</text>
<text transform="translate(102.45 951.3) scale(1.1000 1)" font-size="12.6" style="fill:#1c1c1c;stroke:#1c1c1c;stroke-width:0.3px" >0.13</text>
<text transform="translate(264.89 934) scale(1.1000 1)" font-size="12.6" style="fill:#1c1c1c;stroke:#1c1c1c;stroke-width:0.3px" >Q2</text>
<text transform="translate(256.16 951.3) scale(1.1000 1)" font-size="12.6" style="fill:#1c1c1c;stroke:#1c1c1c;stroke-width:0.3px" >0.84</text>
<text transform="translate(102.38 1084.8) scale(1.1000 1)" font-size="12.6" style="fill:#1c1c1c;stroke:#1c1c1c;stroke-width:0.3px" >Q4</text>
<text transform="translate(102.38 1102.2) scale(1.1000 1)" font-size="12.6" style="fill:#1c1c1c;stroke:#1c1c1c;stroke-width:0.3px" >98.4</text>
<text transform="translate(264.75 1084.8) scale(1.1000 1)" font-size="12.6" style="fill:#1c1c1c;stroke:#1c1c1c;stroke-width:0.3px" >Q3</text>
<text transform="translate(256.3 1102.2) scale(1.1000 1)" font-size="12.6" style="fill:#1c1c1c;stroke:#1c1c1c;stroke-width:0.3px" >0.65</text>
</g>
<g>
<text transform="translate(416.54 896.3) scale(1.0345 1)" font-size="22" >Taxotere</text>
<rect x="350.9" y="912.7" width="202.4" height="201.6" fill="#fff" stroke="#2a2a2a" stroke-width="1.3"/>
<g fill="none" stroke="#5f99d2" stroke-width="0.6" opacity="0.85" transform="translate(497.2 998.5) rotate(-38)"><path d="M40.51 0C40.08 1.94 39.41 3.9 38.74 5.64C38.07 7.37 37.44 8.87 36.49 10.4C35.54 11.92 34.51 13.44 33.04 14.8C31.58 16.17 29.77 17.46 27.7 18.56C25.62 19.67 23.2 20.6 20.59 21.44C17.97 22.28 15.42 22.98 11.99 23.58C8.56 24.19 4.07 24.76 0 25.06C-4.07 25.36 -8.89 25.58 -12.45 25.38C-16.01 25.18 -18.83 24.67 -21.38 23.87C-23.93 23.06 -25.98 21.82 -27.76 20.56C-29.54 19.29 -30.76 17.76 -32.06 16.28C-33.36 14.81 -34.42 13.32 -35.57 11.71C-36.73 10.1 -38.01 8.58 -39 6.63C-39.99 4.68 -41.06 2.28 -41.49 0C-41.92 -2.28 -42.02 -4.94 -41.57 -7.07C-41.12 -9.2 -40.06 -11.07 -38.79 -12.77C-37.52 -14.46 -35.78 -15.93 -33.97 -17.25C-32.17 -18.58 -30.17 -19.72 -27.97 -20.71C-25.77 -21.7 -23.44 -22.58 -20.76 -23.18C-18.09 -23.78 -15.39 -24.18 -11.92 -24.31C-8.46 -24.43 -3.9 -24.23 -0 -23.94C3.9 -23.64 8.14 -23.07 11.46 -22.55C14.79 -22.03 17.23 -21.44 19.97 -20.8C22.71 -20.16 25.41 -19.56 27.9 -18.7C30.4 -17.84 32.99 -16.89 34.95 -15.66C36.92 -14.43 38.65 -12.92 39.71 -11.31C40.77 -9.7 41.18 -7.89 41.31 -6.01C41.44 -4.12 40.94 -1.94 40.51 0Z" fill="#5f99d2" fill-opacity="0.16"/><path d="M37.49 0C37.5 1.79 37.21 3.74 36.64 5.37C36.06 7 35.09 8.39 34.04 9.78C32.99 11.17 31.71 12.44 30.34 13.72C28.96 15.01 27.56 16.29 25.8 17.48C24.03 18.68 22.15 19.94 19.76 20.88C17.37 21.82 14.82 22.69 11.48 23.14C8.13 23.59 3.51 23.71 -0.29 23.59C-4.09 23.48 -8.23 22.95 -11.3 22.45C-14.37 21.94 -16.4 21.23 -18.71 20.56C-21.01 19.89 -23.08 19.23 -25.15 18.41C-27.21 17.59 -29.32 16.76 -31.1 15.64C-32.87 14.53 -34.58 13.22 -35.81 11.69C-37.04 10.17 -37.91 8.44 -38.46 6.49C-39.01 4.54 -39.14 2.16 -39.13 0C-39.12 -2.16 -38.87 -4.51 -38.39 -6.48C-37.92 -8.46 -37.32 -10.22 -36.3 -11.85C-35.27 -13.48 -33.95 -15.02 -32.27 -16.24C-30.59 -17.47 -28.44 -18.45 -26.21 -19.2C-23.98 -19.95 -21.43 -20.35 -18.87 -20.74C-16.31 -21.14 -13.96 -21.32 -10.87 -21.56C-7.77 -21.8 -3.94 -22.07 -0.29 -22.19C3.36 -22.31 7.67 -22.47 11.04 -22.29C14.41 -22.1 17.29 -21.73 19.93 -21.05C22.56 -20.37 24.93 -19.33 26.86 -18.19C28.79 -17.06 30.24 -15.63 31.51 -14.25C32.79 -12.87 33.68 -11.4 34.52 -9.92C35.37 -8.44 36.08 -7.02 36.58 -5.36C37.07 -3.71 37.48 -1.79 37.49 0Z"/><path d="M36.02 0C36.11 1.72 35.76 3.62 35.24 5.21C34.72 6.8 33.87 8.17 32.9 9.54C31.92 10.91 30.8 12.22 29.38 13.43C27.97 14.63 26.37 15.82 24.43 16.76C22.49 17.71 20.21 18.52 17.76 19.09C15.3 19.67 12.74 19.96 9.68 20.19C6.63 20.41 2.8 20.39 -0.58 20.43C-3.96 20.46 -7.59 20.46 -10.59 20.41C-13.59 20.35 -16.03 20.37 -18.58 20.09C-21.12 19.81 -23.71 19.45 -25.85 18.72C-28 17.98 -29.99 16.93 -31.46 15.68C-32.92 14.43 -33.91 12.82 -34.63 11.21C-35.36 9.59 -35.6 7.86 -35.81 5.99C-36.03 4.12 -36.03 1.98 -35.93 0C-35.83 -1.98 -35.68 -4.11 -35.22 -5.89C-34.76 -7.68 -34.12 -9.26 -33.15 -10.72C-32.18 -12.18 -30.87 -13.49 -29.41 -14.64C-27.96 -15.8 -26.22 -16.75 -24.41 -17.65C-22.59 -18.55 -20.71 -19.33 -18.52 -20.03C-16.34 -20.73 -14.29 -21.43 -11.3 -21.85C-8.31 -22.27 -4.19 -22.61 -0.58 -22.56C3.04 -22.52 7.34 -22.17 10.39 -21.58C13.44 -20.99 15.6 -20 17.7 -19.04C19.8 -18.07 21.38 -16.88 22.98 -15.79C24.59 -14.7 25.94 -13.62 27.34 -12.51C28.75 -11.4 30.2 -10.35 31.41 -9.11C32.63 -7.88 33.88 -6.64 34.65 -5.12C35.42 -3.61 35.92 -1.72 36.02 0Z"/><path d="M33.4 0C33.44 1.63 33.37 3.41 32.93 4.92C32.49 6.42 31.81 7.78 30.77 9.01C29.72 10.25 28.25 11.37 26.65 12.33C25.06 13.3 23.11 14.05 21.21 14.8C19.31 15.54 17.35 16.14 15.26 16.79C13.17 17.45 11.35 18.15 8.66 18.75C5.98 19.36 2.44 20.06 -0.87 20.43C-4.17 20.81 -8.21 21.1 -11.17 21C-14.14 20.91 -16.5 20.49 -18.66 19.87C-20.83 19.24 -22.59 18.26 -24.18 17.26C-25.76 16.26 -26.99 15.07 -28.17 13.86C-29.35 12.66 -30.4 11.39 -31.27 10.01C-32.15 8.62 -32.97 7.21 -33.44 5.54C-33.91 3.87 -34.16 1.84 -34.12 0C-34.08 -1.84 -33.68 -3.83 -33.2 -5.5C-32.71 -7.16 -31.99 -8.56 -31.22 -9.99C-30.44 -11.41 -29.62 -12.78 -28.52 -14.04C-27.43 -15.31 -26.25 -16.6 -24.62 -17.59C-23 -18.59 -21.05 -19.49 -18.79 -20C-16.52 -20.52 -14.01 -20.72 -11.03 -20.7C-8.04 -20.69 -4.13 -20.29 -0.87 -19.91C2.39 -19.54 5.81 -18.96 8.52 -18.46C11.23 -17.97 13.19 -17.49 15.38 -16.92C17.57 -16.36 19.72 -15.84 21.66 -15.1C23.6 -14.36 25.5 -13.51 27.01 -12.49C28.52 -11.47 29.76 -10.26 30.71 -9C31.66 -7.73 32.24 -6.38 32.69 -4.88C33.14 -3.38 33.36 -1.63 33.4 0Z"/><path d="M29.04 0C28.8 1.46 28.45 2.92 28.13 4.26C27.82 5.6 27.63 6.81 27.14 8.06C26.64 9.32 26.15 10.63 25.16 11.79C24.18 12.95 22.86 14.1 21.23 15C19.59 15.9 17.53 16.63 15.35 17.19C13.17 17.75 10.92 18.08 8.17 18.35C5.42 18.62 1.92 18.76 -1.16 18.82C-4.24 18.87 -7.69 18.87 -10.32 18.68C-12.95 18.48 -14.99 18.17 -16.96 17.65C-18.94 17.13 -20.64 16.39 -22.17 15.56C-23.69 14.73 -24.91 13.72 -26.12 12.68C-27.33 11.63 -28.38 10.53 -29.42 9.3C-30.46 8.08 -31.57 6.86 -32.36 5.31C-33.16 3.76 -33.96 1.81 -34.2 0C-34.44 -1.81 -34.35 -3.92 -33.8 -5.55C-33.25 -7.18 -32.13 -8.57 -30.92 -9.79C-29.7 -11.02 -28.06 -11.98 -26.52 -12.88C-24.98 -13.78 -23.36 -14.5 -21.7 -15.21C-20.03 -15.93 -18.44 -16.61 -16.54 -17.17C-14.63 -17.73 -12.83 -18.27 -10.27 -18.57C-7.71 -18.88 -4.22 -19.02 -1.16 -18.97C1.91 -18.92 5.44 -18.62 8.12 -18.25C10.8 -17.88 12.82 -17.34 14.92 -16.75C17.03 -16.15 18.99 -15.49 20.76 -14.69C22.53 -13.89 24.25 -13.01 25.56 -11.97C26.88 -10.94 27.96 -9.74 28.63 -8.49C29.3 -7.24 29.51 -5.89 29.57 -4.47C29.64 -3.06 29.28 -1.46 29.04 0Z"/><path d="M27.19 0C26.9 1.38 26.49 2.76 26.09 4.01C25.69 5.25 25.37 6.35 24.79 7.47C24.21 8.6 23.58 9.75 22.59 10.77C21.59 11.79 20.33 12.77 18.84 13.6C17.35 14.42 15.56 15.11 13.63 15.7C11.7 16.3 9.79 16.77 7.27 17.15C4.76 17.54 1.48 17.88 -1.45 18.03C-4.38 18.18 -7.79 18.25 -10.31 18.07C-12.83 17.88 -14.78 17.47 -16.58 16.89C-18.38 16.31 -19.82 15.45 -21.12 14.57C-22.42 13.7 -23.36 12.66 -24.38 11.65C-25.4 10.63 -26.3 9.62 -27.23 8.49C-28.17 7.36 -29.22 6.27 -30 4.86C-30.77 3.44 -31.58 1.67 -31.87 0C-32.17 -1.67 -32.16 -3.62 -31.76 -5.16C-31.35 -6.69 -30.45 -8.02 -29.43 -9.21C-28.42 -10.4 -27.05 -11.4 -25.68 -12.31C-24.32 -13.22 -22.85 -13.99 -21.26 -14.67C-19.67 -15.36 -18.04 -15.97 -16.15 -16.42C-14.27 -16.86 -12.4 -17.2 -9.95 -17.34C-7.5 -17.48 -4.26 -17.41 -1.45 -17.27C1.36 -17.12 4.47 -16.78 6.92 -16.45C9.36 -16.12 11.2 -15.72 13.21 -15.26C15.22 -14.8 17.19 -14.34 18.97 -13.68C20.75 -13.03 22.55 -12.28 23.89 -11.35C25.23 -10.42 26.33 -9.28 26.99 -8.1C27.65 -6.92 27.82 -5.61 27.85 -4.26C27.89 -2.91 27.49 -1.38 27.19 0Z"/><path d="M26.73 0C26.69 1.34 26.25 2.79 25.74 4C25.24 5.2 24.49 6.22 23.67 7.24C22.85 8.26 21.94 9.22 20.82 10.11C19.7 10.99 18.43 11.84 16.95 12.53C15.47 13.22 13.76 13.79 11.94 14.24C10.11 14.69 8.27 14.96 6 15.21C3.72 15.46 0.87 15.61 -1.74 15.75C-4.34 15.9 -7.26 16.07 -9.63 16.1C-12.01 16.12 -14.03 16.16 -15.99 15.91C-17.96 15.66 -19.89 15.25 -21.42 14.58C-22.95 13.91 -24.23 12.94 -25.17 11.9C-26.11 10.86 -26.63 9.58 -27.08 8.34C-27.53 7.1 -27.68 5.84 -27.87 4.45C-28.07 3.05 -28.21 1.49 -28.25 0C-28.29 -1.49 -28.34 -3.11 -28.1 -4.48C-27.86 -5.86 -27.46 -7.1 -26.8 -8.25C-26.13 -9.39 -25.18 -10.44 -24.11 -11.36C-23.04 -12.29 -21.75 -13.08 -20.37 -13.8C-18.98 -14.52 -17.51 -15.16 -15.79 -15.68C-14.06 -16.2 -12.38 -16.68 -10.04 -16.92C-7.7 -17.16 -4.48 -17.25 -1.74 -17.1C1 -16.95 4.15 -16.52 6.4 -16C8.64 -15.49 10.15 -14.72 11.73 -14.03C13.31 -13.33 14.56 -12.55 15.9 -11.82C17.23 -11.09 18.51 -10.41 19.76 -9.63C21.01 -8.85 22.35 -8.09 23.39 -7.16C24.43 -6.22 25.42 -5.22 25.97 -4.03C26.53 -2.84 26.76 -1.34 26.73 0Z"/><path d="M23.91 0C24.14 1.23 24.3 2.63 24.06 3.79C23.81 4.96 23.26 6.03 22.43 6.97C21.59 7.91 20.32 8.73 19.03 9.43C17.74 10.14 16.17 10.67 14.69 11.21C13.21 11.74 11.73 12.19 10.14 12.67C8.54 13.15 7.16 13.67 5.14 14.09C3.11 14.51 0.43 14.98 -2.03 15.21C-4.49 15.44 -7.43 15.57 -9.62 15.48C-11.81 15.39 -13.51 15.09 -15.17 14.68C-16.83 14.26 -18.26 13.66 -19.58 13C-20.91 12.34 -22.1 11.58 -23.14 10.72C-24.18 9.86 -25.15 8.91 -25.83 7.83C-26.5 6.76 -27 5.59 -27.2 4.28C-27.4 2.98 -27.27 1.39 -27.04 0C-26.82 -1.39 -26.3 -2.83 -25.85 -4.05C-25.4 -5.28 -24.89 -6.28 -24.35 -7.35C-23.81 -8.42 -23.36 -9.47 -22.61 -10.46C-21.87 -11.44 -21.07 -12.46 -19.9 -13.23C-18.72 -14.01 -17.25 -14.69 -15.56 -15.1C-13.86 -15.51 -11.98 -15.67 -9.72 -15.69C-7.47 -15.71 -4.52 -15.47 -2.03 -15.24C0.47 -15 3.15 -14.65 5.24 -14.29C7.33 -13.93 8.89 -13.55 10.52 -13.07C12.15 -12.59 13.67 -12.06 15 -11.41C16.33 -10.77 17.51 -10.01 18.5 -9.2C19.49 -8.39 20.25 -7.48 20.95 -6.55C21.65 -5.61 22.21 -4.69 22.7 -3.6C23.2 -2.51 23.69 -1.23 23.91 0Z"/><path d="M21.03 0C21.24 1.12 21.49 2.37 21.38 3.45C21.28 4.53 21.02 5.56 20.4 6.47C19.79 7.39 18.8 8.25 17.66 8.95C16.53 9.65 15.04 10.19 13.61 10.67C12.17 11.15 10.62 11.48 9.06 11.85C7.49 12.21 6.11 12.54 4.22 12.85C2.32 13.16 -0.08 13.51 -2.32 13.7C-4.55 13.9 -7.19 14.06 -9.19 14.01C-11.19 13.97 -12.79 13.76 -14.34 13.42C-15.88 13.08 -17.23 12.55 -18.47 11.96C-19.71 11.37 -20.8 10.67 -21.79 9.89C-22.78 9.11 -23.71 8.25 -24.4 7.27C-25.09 6.29 -25.68 5.23 -25.94 4.02C-26.2 2.81 -26.18 1.3 -25.96 0C-25.75 -1.3 -25.18 -2.68 -24.64 -3.8C-24.1 -4.92 -23.38 -5.79 -22.73 -6.72C-22.08 -7.65 -21.48 -8.5 -20.74 -9.36C-20 -10.21 -19.31 -11.1 -18.29 -11.83C-17.27 -12.56 -16.1 -13.29 -14.64 -13.75C-13.17 -14.22 -11.54 -14.52 -9.49 -14.62C-7.43 -14.72 -4.65 -14.57 -2.32 -14.37C0.02 -14.18 2.57 -13.8 4.51 -13.43C6.46 -13.06 7.87 -12.64 9.36 -12.16C10.85 -11.68 12.22 -11.17 13.43 -10.55C14.64 -9.94 15.73 -9.24 16.61 -8.48C17.49 -7.72 18.16 -6.87 18.74 -6C19.32 -5.13 19.7 -4.26 20.08 -3.26C20.46 -2.26 20.81 -1.12 21.03 0Z"/><path d="M18.86 0C18.94 1.03 18.98 2.14 18.83 3.12C18.68 4.09 18.47 5.01 17.95 5.86C17.44 6.71 16.7 7.54 15.73 8.22C14.77 8.89 13.49 9.46 12.18 9.91C10.88 10.37 9.38 10.65 7.9 10.94C6.43 11.24 5.08 11.44 3.33 11.67C1.58 11.91 -0.57 12.18 -2.61 12.36C-4.64 12.55 -7.02 12.78 -8.88 12.79C-10.74 12.81 -12.31 12.74 -13.78 12.47C-15.24 12.2 -16.56 11.73 -17.68 11.17C-18.81 10.61 -19.71 9.87 -20.52 9.1C-21.33 8.33 -21.99 7.48 -22.55 6.56C-23.1 5.65 -23.59 4.71 -23.87 3.62C-24.15 2.52 -24.3 1.19 -24.22 0C-24.13 -1.19 -23.8 -2.49 -23.36 -3.53C-22.92 -4.57 -22.24 -5.41 -21.59 -6.25C-20.94 -7.09 -20.22 -7.82 -19.47 -8.56C-18.71 -9.31 -18 -10.04 -17.06 -10.7C-16.11 -11.36 -15.12 -12.05 -13.82 -12.52C-12.51 -12.98 -11.1 -13.37 -9.23 -13.51C-7.36 -13.65 -4.76 -13.57 -2.61 -13.38C-0.45 -13.19 1.92 -12.76 3.68 -12.36C5.44 -11.96 6.63 -11.46 7.94 -10.99C9.26 -10.51 10.43 -10.03 11.56 -9.49C12.68 -8.95 13.77 -8.4 14.68 -7.74C15.59 -7.09 16.39 -6.37 17 -5.58C17.6 -4.8 18.01 -3.97 18.32 -3.04C18.63 -2.11 18.77 -1.03 18.86 0Z"/><path d="M17.53 0C17.35 0.96 16.83 1.97 16.33 2.8C15.83 3.62 15.16 4.28 14.52 4.96C13.89 5.65 13.26 6.28 12.53 6.91C11.8 7.54 11.07 8.18 10.14 8.73C9.21 9.29 8.16 9.83 6.94 10.24C5.72 10.66 4.45 10.98 2.81 11.23C1.18 11.48 -0.98 11.62 -2.89 11.72C-4.81 11.82 -6.99 11.87 -8.69 11.82C-10.4 11.77 -11.79 11.68 -13.12 11.42C-14.46 11.15 -15.72 10.76 -16.71 10.23C-17.71 9.7 -18.5 8.98 -19.11 8.23C-19.71 7.48 -20.02 6.6 -20.34 5.74C-20.66 4.88 -20.8 4.04 -21.03 3.08C-21.25 2.13 -21.5 1.06 -21.68 0C-21.85 -1.06 -22.1 -2.24 -22.06 -3.26C-22.03 -4.28 -21.89 -5.25 -21.47 -6.11C-21.04 -6.98 -20.34 -7.78 -19.51 -8.44C-18.68 -9.09 -17.59 -9.61 -16.47 -10.06C-15.36 -10.5 -14.14 -10.82 -12.83 -11.09C-11.52 -11.36 -10.27 -11.56 -8.62 -11.67C-6.96 -11.77 -4.79 -11.8 -2.89 -11.7C-1 -11.61 1.15 -11.37 2.74 -11.08C4.33 -10.79 5.45 -10.35 6.65 -9.94C7.84 -9.52 8.85 -9.05 9.9 -8.57C10.95 -8.1 11.97 -7.64 12.93 -7.09C13.89 -6.54 14.91 -5.97 15.65 -5.28C16.39 -4.59 17.05 -3.83 17.37 -2.95C17.68 -2.07 17.7 -0.96 17.53 0Z"/><path d="M14.03 0C14.2 0.82 14.38 1.75 14.29 2.54C14.2 3.33 13.94 4.07 13.49 4.75C13.04 5.43 12.35 6.06 11.6 6.62C10.85 7.19 9.94 7.69 8.99 8.16C8.03 8.62 7.01 9.05 5.85 9.41C4.69 9.77 3.55 10.1 2.05 10.29C0.54 10.49 -1.48 10.6 -3.18 10.59C-4.89 10.58 -6.79 10.42 -8.21 10.24C-9.62 10.05 -10.59 9.76 -11.68 9.48C-12.76 9.2 -13.74 8.91 -14.73 8.55C-15.73 8.2 -16.77 7.85 -17.67 7.36C-18.57 6.86 -19.49 6.28 -20.12 5.57C-20.74 4.86 -21.21 4.03 -21.41 3.1C-21.62 2.17 -21.52 1 -21.34 0C-21.17 -1 -20.74 -2.05 -20.35 -2.92C-19.96 -3.79 -19.49 -4.49 -18.98 -5.2C-18.48 -5.91 -17.97 -6.58 -17.31 -7.17C-16.65 -7.77 -15.91 -8.33 -15.02 -8.77C-14.14 -9.21 -13.11 -9.56 -11.98 -9.82C-10.86 -10.09 -9.73 -10.24 -8.27 -10.36C-6.8 -10.48 -4.91 -10.54 -3.18 -10.55C-1.45 -10.56 0.55 -10.55 2.11 -10.41C3.67 -10.28 4.96 -10.07 6.16 -9.73C7.35 -9.39 8.43 -8.9 9.28 -8.35C10.12 -7.81 10.72 -7.11 11.24 -6.46C11.75 -5.81 12.02 -5.11 12.35 -4.43C12.68 -3.75 12.95 -3.12 13.23 -2.39C13.5 -1.65 13.85 -0.82 14.03 0Z"/><path d="M12.35 0C12.54 0.75 12.72 1.62 12.64 2.34C12.55 3.07 12.29 3.76 11.82 4.36C11.35 4.96 10.6 5.5 9.81 5.95C9.03 6.41 8.04 6.75 7.1 7.09C6.16 7.42 5.19 7.69 4.17 7.96C3.15 8.24 2.24 8.51 0.97 8.74C-0.31 8.96 -1.97 9.19 -3.47 9.3C-4.98 9.41 -6.75 9.45 -8.08 9.39C-9.41 9.32 -10.43 9.14 -11.45 8.91C-12.48 8.68 -13.39 8.35 -14.25 7.98C-15.12 7.61 -15.93 7.19 -16.64 6.69C-17.34 6.18 -18.03 5.6 -18.49 4.94C-18.95 4.28 -19.29 3.53 -19.41 2.71C-19.53 1.89 -19.41 0.87 -19.22 0C-19.03 -0.87 -18.63 -1.77 -18.28 -2.52C-17.94 -3.27 -17.55 -3.87 -17.16 -4.51C-16.78 -5.14 -16.46 -5.77 -15.99 -6.35C-15.51 -6.94 -15.03 -7.56 -14.33 -8.04C-13.62 -8.52 -12.76 -8.96 -11.75 -9.24C-10.73 -9.52 -9.62 -9.66 -8.24 -9.72C-6.86 -9.77 -5.04 -9.68 -3.47 -9.57C-1.91 -9.46 -0.19 -9.27 1.13 -9.05C2.45 -8.84 3.46 -8.59 4.47 -8.27C5.47 -7.95 6.4 -7.57 7.18 -7.14C7.96 -6.71 8.61 -6.19 9.16 -5.66C9.72 -5.14 10.1 -4.56 10.49 -3.98C10.88 -3.4 11.2 -2.84 11.51 -2.18C11.82 -1.52 12.16 -0.75 12.35 0Z"/><path d="M10.27 0C10.24 0.66 10.09 1.39 9.82 1.98C9.55 2.57 9.1 3.05 8.65 3.53C8.19 4.02 7.63 4.43 7.08 4.86C6.53 5.29 5.99 5.7 5.36 6.11C4.73 6.53 4.11 6.98 3.3 7.36C2.49 7.73 1.66 8.11 0.48 8.35C-0.7 8.58 -2.36 8.73 -3.76 8.74C-5.16 8.76 -6.76 8.63 -7.91 8.46C-9.07 8.29 -9.84 8 -10.68 7.72C-11.51 7.43 -12.21 7.12 -12.9 6.77C-13.6 6.42 -14.26 6.06 -14.84 5.62C-15.42 5.19 -15.96 4.7 -16.36 4.15C-16.77 3.59 -17.06 2.99 -17.25 2.29C-17.45 1.6 -17.51 0.77 -17.53 0C-17.56 -0.77 -17.52 -1.6 -17.41 -2.32C-17.3 -3.04 -17.17 -3.7 -16.88 -4.32C-16.59 -4.94 -16.2 -5.55 -15.64 -6.03C-15.08 -6.52 -14.33 -6.93 -13.51 -7.22C-12.69 -7.51 -11.7 -7.66 -10.72 -7.77C-9.74 -7.88 -8.79 -7.86 -7.63 -7.88C-6.47 -7.9 -5.07 -7.89 -3.76 -7.87C-2.46 -7.85 -0.99 -7.87 0.2 -7.79C1.38 -7.71 2.38 -7.61 3.34 -7.4C4.31 -7.19 5.22 -6.89 5.97 -6.52C6.73 -6.16 7.35 -5.69 7.88 -5.22C8.42 -4.74 8.81 -4.22 9.16 -3.68C9.51 -3.15 9.79 -2.61 9.98 -2C10.16 -1.39 10.3 -0.66 10.27 0Z"/><path d="M7.86 0C8.02 0.57 8.18 1.22 8.14 1.77C8.09 2.33 7.92 2.85 7.58 3.31C7.25 3.78 6.7 4.2 6.13 4.56C5.55 4.92 4.82 5.21 4.12 5.47C3.41 5.74 2.67 5.96 1.88 6.18C1.09 6.39 0.36 6.59 -0.62 6.74C-1.61 6.89 -2.9 7.03 -4.05 7.08C-5.2 7.13 -6.52 7.12 -7.51 7.05C-8.51 6.98 -9.24 6.83 -10.01 6.65C-10.79 6.48 -11.48 6.26 -12.15 6C-12.83 5.74 -13.5 5.45 -14.07 5.09C-14.65 4.72 -15.22 4.3 -15.61 3.8C-15.99 3.3 -16.27 2.73 -16.37 2.09C-16.47 1.46 -16.36 0.67 -16.2 0C-16.05 -0.67 -15.72 -1.36 -15.43 -1.94C-15.15 -2.51 -14.83 -2.96 -14.51 -3.44C-14.2 -3.92 -13.92 -4.38 -13.54 -4.82C-13.16 -5.25 -12.77 -5.7 -12.22 -6.05C-11.67 -6.4 -11.02 -6.72 -10.26 -6.93C-9.49 -7.14 -8.68 -7.26 -7.64 -7.32C-6.61 -7.38 -5.24 -7.35 -4.05 -7.3C-2.86 -7.25 -1.52 -7.15 -0.49 -7C0.54 -6.86 1.34 -6.68 2.12 -6.43C2.9 -6.18 3.61 -5.87 4.18 -5.52C4.76 -5.17 5.21 -4.74 5.59 -4.32C5.98 -3.9 6.22 -3.45 6.49 -3C6.76 -2.56 6.97 -2.14 7.2 -1.64C7.43 -1.14 7.71 -0.57 7.86 0Z"/><path d="M6.17 0C6.17 0.49 6.02 1.03 5.84 1.48C5.67 1.93 5.4 2.31 5.1 2.69C4.8 3.07 4.46 3.43 4.05 3.76C3.63 4.09 3.17 4.41 2.62 4.66C2.06 4.92 1.43 5.13 0.74 5.3C0.06 5.46 -0.63 5.55 -1.48 5.64C-2.32 5.72 -3.38 5.76 -4.34 5.81C-5.3 5.85 -6.37 5.9 -7.24 5.91C-8.11 5.91 -8.85 5.93 -9.58 5.84C-10.31 5.76 -11.03 5.62 -11.61 5.38C-12.19 5.15 -12.69 4.8 -13.05 4.42C-13.42 4.05 -13.63 3.57 -13.8 3.11C-13.97 2.65 -14.02 2.18 -14.09 1.66C-14.15 1.14 -14.19 0.55 -14.19 0C-14.19 -0.55 -14.19 -1.15 -14.09 -1.66C-13.99 -2.17 -13.84 -2.62 -13.59 -3.04C-13.34 -3.46 -12.98 -3.85 -12.59 -4.19C-12.19 -4.53 -11.71 -4.81 -11.2 -5.08C-10.69 -5.35 -10.15 -5.58 -9.52 -5.78C-8.89 -5.98 -8.27 -6.16 -7.41 -6.26C-6.55 -6.35 -5.36 -6.4 -4.34 -6.36C-3.32 -6.31 -2.14 -6.16 -1.3 -5.98C-0.47 -5.79 0.1 -5.5 0.69 -5.24C1.27 -4.97 1.72 -4.67 2.21 -4.39C2.69 -4.11 3.13 -3.84 3.58 -3.55C4.03 -3.26 4.51 -2.97 4.88 -2.63C5.26 -2.28 5.63 -1.92 5.85 -1.48C6.06 -1.04 6.17 -0.49 6.17 0Z"/><path d="M4.08 0C4.1 0.41 3.99 0.86 3.83 1.23C3.66 1.6 3.38 1.9 3.1 2.2C2.81 2.5 2.48 2.77 2.13 3.03C1.77 3.29 1.4 3.54 0.97 3.75C0.54 3.97 0.06 4.18 -0.47 4.33C-1.01 4.49 -1.56 4.6 -2.25 4.68C-2.94 4.77 -3.84 4.8 -4.63 4.82C-5.42 4.85 -6.3 4.86 -7.01 4.84C-7.71 4.83 -8.29 4.82 -8.88 4.74C-9.47 4.66 -10.06 4.56 -10.55 4.38C-11.04 4.2 -11.49 3.94 -11.8 3.64C-12.12 3.34 -12.32 2.96 -12.46 2.58C-12.59 2.19 -12.59 1.79 -12.62 1.36C-12.64 0.93 -12.6 0.45 -12.58 0C-12.57 -0.45 -12.56 -0.92 -12.5 -1.34C-12.44 -1.75 -12.37 -2.14 -12.21 -2.49C-12.04 -2.85 -11.8 -3.2 -11.49 -3.49C-11.18 -3.78 -10.78 -4.02 -10.35 -4.23C-9.91 -4.44 -9.42 -4.6 -8.88 -4.74C-8.34 -4.88 -7.82 -4.99 -7.11 -5.06C-6.4 -5.12 -5.46 -5.16 -4.63 -5.14C-3.8 -5.11 -2.84 -5.02 -2.15 -4.89C-1.45 -4.76 -0.96 -4.54 -0.47 -4.33C0.01 -4.12 0.38 -3.86 0.77 -3.62C1.15 -3.38 1.47 -3.14 1.82 -2.89C2.17 -2.64 2.53 -2.41 2.85 -2.13C3.16 -1.85 3.5 -1.57 3.71 -1.21C3.91 -0.86 4.06 -0.41 4.08 0Z"/><path d="M1.54 0C1.53 0.31 1.45 0.64 1.34 0.91C1.22 1.18 1.04 1.41 0.85 1.64C0.67 1.88 0.45 2.09 0.22 2.3C-0.01 2.52 -0.23 2.74 -0.52 2.95C-0.81 3.15 -1.12 3.37 -1.52 3.54C-1.92 3.7 -2.35 3.86 -2.92 3.94C-3.49 4.02 -4.27 4.04 -4.92 4.03C-5.57 4.01 -6.28 3.92 -6.8 3.84C-7.33 3.75 -7.68 3.63 -8.07 3.52C-8.47 3.4 -8.82 3.28 -9.16 3.14C-9.51 3 -9.85 2.85 -10.14 2.65C-10.43 2.45 -10.7 2.23 -10.89 1.97C-11.09 1.71 -11.23 1.42 -11.32 1.09C-11.42 0.76 -11.45 0.37 -11.46 0C-11.48 -0.37 -11.46 -0.76 -11.4 -1.1C-11.34 -1.44 -11.25 -1.75 -11.09 -2.03C-10.92 -2.31 -10.7 -2.58 -10.41 -2.79C-10.12 -2.99 -9.74 -3.16 -9.35 -3.28C-8.96 -3.4 -8.52 -3.47 -8.08 -3.53C-7.64 -3.59 -7.24 -3.61 -6.71 -3.65C-6.19 -3.69 -5.54 -3.73 -4.92 -3.74C-4.3 -3.76 -3.58 -3.79 -3.01 -3.76C-2.44 -3.72 -1.96 -3.66 -1.52 -3.55C-1.07 -3.43 -0.67 -3.26 -0.33 -3.07C0 -2.89 0.26 -2.65 0.49 -2.42C0.72 -2.2 0.89 -1.95 1.05 -1.7C1.2 -1.45 1.33 -1.21 1.41 -0.92C1.5 -0.64 1.55 -0.31 1.54 0Z"/><path d="M-0.65 0C-0.64 0.22 -0.63 0.46 -0.68 0.66C-0.73 0.86 -0.82 1.04 -0.94 1.22C-1.07 1.39 -1.23 1.55 -1.41 1.7C-1.59 1.86 -1.79 2 -2.02 2.14C-2.25 2.28 -2.49 2.41 -2.79 2.53C-3.08 2.64 -3.38 2.74 -3.78 2.8C-4.19 2.86 -4.75 2.89 -5.21 2.89C-5.67 2.88 -6.19 2.82 -6.56 2.76C-6.94 2.7 -7.18 2.6 -7.46 2.51C-7.74 2.42 -7.97 2.33 -8.22 2.23C-8.47 2.13 -8.72 2.03 -8.95 1.9C-9.18 1.77 -9.41 1.62 -9.58 1.44C-9.74 1.25 -9.88 1.05 -9.95 0.81C-10.02 0.57 -10.03 0.27 -10.02 0C-10 -0.27 -9.93 -0.55 -9.85 -0.79C-9.77 -1.03 -9.67 -1.23 -9.54 -1.42C-9.41 -1.62 -9.26 -1.8 -9.06 -1.96C-8.87 -2.11 -8.64 -2.24 -8.38 -2.34C-8.12 -2.45 -7.82 -2.51 -7.51 -2.56C-7.2 -2.61 -6.9 -2.64 -6.52 -2.66C-6.13 -2.68 -5.66 -2.7 -5.21 -2.71C-4.76 -2.72 -4.25 -2.73 -3.83 -2.71C-3.42 -2.69 -3.07 -2.65 -2.74 -2.57C-2.41 -2.5 -2.11 -2.38 -1.87 -2.24C-1.63 -2.1 -1.45 -1.93 -1.3 -1.75C-1.15 -1.58 -1.07 -1.39 -0.98 -1.2C-0.89 -1.02 -0.84 -0.85 -0.78 -0.64C-0.73 -0.44 -0.67 -0.22 -0.65 0Z"/><path d="M-2.6 0C-2.58 0.14 -2.57 0.29 -2.59 0.42C-2.62 0.55 -2.67 0.67 -2.76 0.78C-2.84 0.89 -2.97 0.99 -3.11 1.07C-3.25 1.15 -3.43 1.21 -3.6 1.27C-3.77 1.33 -3.95 1.38 -4.13 1.43C-4.31 1.48 -4.47 1.52 -4.7 1.57C-4.93 1.62 -5.22 1.67 -5.5 1.7C-5.78 1.73 -6.11 1.76 -6.36 1.75C-6.61 1.75 -6.81 1.72 -7 1.67C-7.19 1.63 -7.35 1.55 -7.49 1.48C-7.64 1.4 -7.75 1.3 -7.86 1.2C-7.97 1.1 -8.07 0.99 -8.15 0.87C-8.22 0.75 -8.29 0.62 -8.32 0.48C-8.35 0.33 -8.35 0.16 -8.34 0C-8.32 -0.16 -8.27 -0.32 -8.22 -0.46C-8.16 -0.6 -8.09 -0.71 -8.03 -0.83C-7.96 -0.95 -7.89 -1.06 -7.8 -1.17C-7.71 -1.28 -7.63 -1.39 -7.5 -1.48C-7.37 -1.57 -7.21 -1.65 -7.03 -1.7C-6.84 -1.75 -6.63 -1.78 -6.38 -1.78C-6.12 -1.79 -5.78 -1.76 -5.5 -1.73C-5.22 -1.7 -4.92 -1.65 -4.69 -1.6C-4.45 -1.56 -4.29 -1.51 -4.11 -1.45C-3.92 -1.4 -3.75 -1.34 -3.6 -1.28C-3.44 -1.21 -3.29 -1.13 -3.17 -1.04C-3.05 -0.95 -2.96 -0.85 -2.88 -0.75C-2.8 -0.64 -2.74 -0.53 -2.7 -0.41C-2.65 -0.28 -2.61 -0.14 -2.6 0Z" fill="#fff" stroke="none"/></g>
<path d="M485.1 912.7 L485.1 1114.3 M350.9 986.2 L553.3 986.2" stroke="#161616" stroke-width="1.6" fill="none"/>
<text transform="translate(323.38 1113.9) scale(0.9997 1)" font-size="10.3" font-weight="bold" style="fill:#141414;stroke:#141414;stroke-width:0.4px" >10</text>
<text transform="translate(335.45 1107) scale(1.1623 1)" font-size="9.6" font-weight="bold" style="fill:#141414;stroke:#141414;stroke-width:0.2px" >0</text>
<text transform="translate(323.38 1082.64) scale(0.9997 1)" font-size="10.3" font-weight="bold" style="fill:#141414;stroke:#141414;stroke-width:0.4px" >10</text>
<text transform="translate(335.22 1075.74) scale(1.1746 1)" font-size="9.6" font-weight="bold" style="fill:#141414;stroke:#141414;stroke-width:0.2px" >1</text>
<text transform="translate(323.38 1045.58) scale(0.9997 1)" font-size="10.3" font-weight="bold" style="fill:#141414;stroke:#141414;stroke-width:0.4px" >10</text>
<text transform="translate(335.51 1038.68) scale(1.1502 1)" font-size="9.6" font-weight="bold" style="fill:#141414;stroke:#141414;stroke-width:0.2px" >2</text>
<text transform="translate(323.38 1008.52) scale(0.9997 1)" font-size="10.3" font-weight="bold" style="fill:#141414;stroke:#141414;stroke-width:0.4px" >10</text>
<text transform="translate(335.63 1001.62) scale(1.1153 1)" font-size="9.6" font-weight="bold" style="fill:#141414;stroke:#141414;stroke-width:0.2px" >3</text>
<text transform="translate(323.38 971.46) scale(0.9997 1)" font-size="10.3" font-weight="bold" style="fill:#141414;stroke:#141414;stroke-width:0.4px" >10</text>
<text transform="translate(335.75 964.56) scale(1.0319 1)" font-size="9.6" font-weight="bold" style="fill:#141414;stroke:#141414;stroke-width:0.2px" >4</text>
<text transform="translate(323.38 934.4) scale(0.9997 1)" font-size="10.3" font-weight="bold" style="fill:#141414;stroke:#141414;stroke-width:0.4px" >10</text>
<text transform="translate(335.58 927.5) scale(1.1042 1)" font-size="9.6" font-weight="bold" style="fill:#141414;stroke:#141414;stroke-width:0.2px" >5</text>
<text transform="translate(354.58 1140.7) scale(0.9997 1)" font-size="10.3" font-weight="bold" style="fill:#141414;stroke:#141414;stroke-width:0.4px" >10</text>
<text transform="translate(366.65 1133.8) scale(1.1623 1)" font-size="9.6" font-weight="bold" style="fill:#141414;stroke:#141414;stroke-width:0.2px" >0</text>
<text transform="translate(382.08 1140.7) scale(0.9997 1)" font-size="10.3" font-weight="bold" style="fill:#141414;stroke:#141414;stroke-width:0.4px" >10</text>
<text transform="translate(393.92 1133.8) scale(1.1746 1)" font-size="9.6" font-weight="bold" style="fill:#141414;stroke:#141414;stroke-width:0.2px" >1</text>
<text transform="translate(419.38 1140.7) scale(0.9997 1)" font-size="10.3" font-weight="bold" style="fill:#141414;stroke:#141414;stroke-width:0.4px" >10</text>
<text transform="translate(431.51 1133.8) scale(1.1502 1)" font-size="9.6" font-weight="bold" style="fill:#141414;stroke:#141414;stroke-width:0.2px" >2</text>
<text transform="translate(456.48 1140.7) scale(0.9997 1)" font-size="10.3" font-weight="bold" style="fill:#141414;stroke:#141414;stroke-width:0.4px" >10</text>
<text transform="translate(468.73 1133.8) scale(1.1153 1)" font-size="9.6" font-weight="bold" style="fill:#141414;stroke:#141414;stroke-width:0.2px" >3</text>
<text transform="translate(493.78 1140.7) scale(0.9997 1)" font-size="10.3" font-weight="bold" style="fill:#141414;stroke:#141414;stroke-width:0.4px" >10</text>
<text transform="translate(506.15 1133.8) scale(1.0319 1)" font-size="9.6" font-weight="bold" style="fill:#141414;stroke:#141414;stroke-width:0.2px" >4</text>
<text transform="translate(531.08 1140.7) scale(0.9997 1)" font-size="10.3" font-weight="bold" style="fill:#141414;stroke:#141414;stroke-width:0.4px" >10</text>
<text transform="translate(543.28 1133.8) scale(1.1042 1)" font-size="9.6" font-weight="bold" style="fill:#141414;stroke:#141414;stroke-width:0.2px" >5</text>
<path d="M344.5 1113.6 L350.9 1113.6 M344.5 1076.54 L350.9 1076.54 M344.5 1039.48 L350.9 1039.48 M344.5 1002.42 L350.9 1002.42 M344.5 965.36 L350.9 965.36 M344.5 928.3 L350.9 928.3 M351.3 1114.3 L351.3 1120.5 M387.3 1114.3 L387.3 1120.5 M424.6 1114.3 L424.6 1120.5 M461.7 1114.3 L461.7 1120.5 M499 1114.3 L499 1120.5 M536.3 1114.3 L536.3 1120.5" stroke="#2a2a2a" stroke-width="1.3" fill="none"/>
<path d="M347.6 1102.44 L350.9 1102.44 M347.6 1095.92 L350.9 1095.92 M347.6 1091.29 L350.9 1091.29 M347.6 1087.7 L350.9 1087.7 M347.6 1084.76 L350.9 1084.76 M347.6 1082.28 L350.9 1082.28 M347.6 1080.13 L350.9 1080.13 M347.6 1078.24 L350.9 1078.24 M347.6 1065.38 L350.9 1065.38 M347.6 1058.86 L350.9 1058.86 M347.6 1054.23 L350.9 1054.23 M347.6 1050.64 L350.9 1050.64 M347.6 1047.7 L350.9 1047.7 M347.6 1045.22 L350.9 1045.22 M347.6 1043.07 L350.9 1043.07 M347.6 1041.18 L350.9 1041.18 M347.6 1028.32 L350.9 1028.32 M347.6 1021.8 L350.9 1021.8 M347.6 1017.17 L350.9 1017.17 M347.6 1013.58 L350.9 1013.58 M347.6 1010.64 L350.9 1010.64 M347.6 1008.16 L350.9 1008.16 M347.6 1006.01 L350.9 1006.01 M347.6 1004.12 L350.9 1004.12 M347.6 991.26 L350.9 991.26 M347.6 984.74 L350.9 984.74 M347.6 980.11 L350.9 980.11 M347.6 976.52 L350.9 976.52 M347.6 973.58 L350.9 973.58 M347.6 971.1 L350.9 971.1 M347.6 968.95 L350.9 968.95 M347.6 967.06 L350.9 967.06 M347.6 954.2 L350.9 954.2 M347.6 947.68 L350.9 947.68 M347.6 943.05 L350.9 943.05 M347.6 939.46 L350.9 939.46 M347.6 936.52 L350.9 936.52 M347.6 934.04 L350.9 934.04 M347.6 931.89 L350.9 931.89 M347.6 930 L350.9 930 M347.6 917.14 L350.9 917.14 M362.14 1114.3 L362.14 1117.5 M368.48 1114.3 L368.48 1117.5 M372.97 1114.3 L372.97 1117.5 M376.46 1114.3 L376.46 1117.5 M379.31 1114.3 L379.31 1117.5 M381.72 1114.3 L381.72 1117.5 M383.81 1114.3 L383.81 1117.5 M385.65 1114.3 L385.65 1117.5 M398.53 1114.3 L398.53 1117.5 M405.1 1114.3 L405.1 1117.5 M409.76 1114.3 L409.76 1117.5 M413.37 1114.3 L413.37 1117.5 M416.33 1114.3 L416.33 1117.5 M418.82 1114.3 L418.82 1117.5 M420.99 1114.3 L420.99 1117.5 M422.89 1114.3 L422.89 1117.5 M435.77 1114.3 L435.77 1117.5 M442.3 1114.3 L442.3 1117.5 M446.94 1114.3 L446.94 1117.5 M450.53 1114.3 L450.53 1117.5 M453.47 1114.3 L453.47 1117.5 M455.95 1114.3 L455.95 1117.5 M458.1 1114.3 L458.1 1117.5 M460 1114.3 L460 1117.5 M472.93 1114.3 L472.93 1117.5 M479.5 1114.3 L479.5 1117.5 M484.16 1114.3 L484.16 1117.5 M487.77 1114.3 L487.77 1117.5 M490.73 1114.3 L490.73 1117.5 M493.22 1114.3 L493.22 1117.5 M495.39 1114.3 L495.39 1117.5 M497.29 1114.3 L497.29 1117.5 M510.23 1114.3 L510.23 1117.5 M516.8 1114.3 L516.8 1117.5 M521.46 1114.3 L521.46 1117.5 M525.07 1114.3 L525.07 1117.5 M528.03 1114.3 L528.03 1117.5 M530.52 1114.3 L530.52 1117.5 M532.69 1114.3 L532.69 1117.5 M534.59 1114.3 L534.59 1117.5 M547.47 1114.3 L547.47 1117.5" stroke="#2a2a2a" stroke-width="0.8" fill="none"/>
<text transform="translate(354.58 933.4) scale(1.1000 1)" font-size="12.6" style="fill:#1c1c1c;stroke:#1c1c1c;stroke-width:0.3px" >Q1</text>
<text transform="translate(354.65 950.7) scale(1.1000 1)" font-size="12.6" style="fill:#1c1c1c;stroke:#1c1c1c;stroke-width:0.3px" >0.19</text>
<text transform="translate(517.09 933.4) scale(1.1000 1)" font-size="12.6" style="fill:#1c1c1c;stroke:#1c1c1c;stroke-width:0.3px" >Q2</text>
<text transform="translate(508.64 950.7) scale(1.1000 1)" font-size="12.6" style="fill:#1c1c1c;stroke:#1c1c1c;stroke-width:0.3px" >17.2</text>
<text transform="translate(354.58 1084.2) scale(1.1000 1)" font-size="12.6" style="fill:#1c1c1c;stroke:#1c1c1c;stroke-width:0.3px" >Q4</text>
<text transform="translate(354.51 1101.6) scale(1.1000 1)" font-size="12.6" style="fill:#1c1c1c;stroke:#1c1c1c;stroke-width:0.3px" >25.4</text>
<text transform="translate(516.95 1084.2) scale(1.1000 1)" font-size="12.6" style="fill:#1c1c1c;stroke:#1c1c1c;stroke-width:0.3px" >Q3</text>
<text transform="translate(508.5 1101.6) scale(1.1000 1)" font-size="12.6" style="fill:#1c1c1c;stroke:#1c1c1c;stroke-width:0.3px" >57.3</text>
</g>
<g>
<text transform="translate(668.21 895.8) scale(1.0082 1)" font-size="22.2" >PDONα</text>
<rect x="603.3" y="913.4" width="202.4" height="201.6" fill="#fff" stroke="#2a2a2a" stroke-width="1.3"/>
<g fill="none" stroke="#8f6fc3" stroke-width="0.6" opacity="0.85" transform="translate(746.5 998.6) rotate(-36)"><path d="M41.13 0C41.02 1.9 40.66 3.93 40.07 5.66C39.48 7.39 38.74 8.94 37.6 10.4C36.46 11.87 35 13.26 33.22 14.45C31.45 15.64 29.23 16.65 26.95 17.54C24.66 18.42 22.14 19.07 19.53 19.75C16.93 20.44 14.58 21.03 11.32 21.63C8.07 22.23 3.93 22.91 0 23.35C-3.93 23.79 -8.66 24.24 -12.25 24.24C-15.84 24.24 -18.84 23.98 -21.54 23.35C-24.24 22.72 -26.53 21.63 -28.44 20.45C-30.35 19.27 -31.7 17.75 -32.98 16.26C-34.26 14.78 -35.2 13.2 -36.13 11.55C-37.06 9.9 -37.94 8.29 -38.57 6.37C-39.19 4.45 -39.75 2.14 -39.87 0C-39.98 -2.14 -39.78 -4.53 -39.26 -6.48C-38.74 -8.44 -37.81 -10.12 -36.76 -11.75C-35.71 -13.38 -34.43 -14.86 -32.98 -16.26C-31.52 -17.66 -29.98 -19.02 -28.04 -20.16C-26.1 -21.3 -23.93 -22.4 -21.31 -23.1C-18.69 -23.8 -15.85 -24.25 -12.3 -24.34C-8.75 -24.43 -3.95 -24.09 -0 -23.65C3.95 -23.21 8.16 -22.41 11.37 -21.72C14.59 -21.04 16.78 -20.26 19.3 -19.52C21.83 -18.78 24.23 -18.12 26.54 -17.27C28.86 -16.43 31.27 -15.57 33.22 -14.45C35.16 -13.33 36.97 -12.02 38.23 -10.58C39.49 -9.13 40.28 -7.52 40.76 -5.76C41.25 -4 41.25 -1.9 41.13 0Z" fill="#8f6fc3" fill-opacity="0.16"/><path d="M35.69 0C35.72 1.69 35.86 3.48 35.65 5.08C35.44 6.68 35.18 8.17 34.42 9.6C33.67 11.03 32.54 12.43 31.1 13.66C29.66 14.88 27.78 15.98 25.77 16.96C23.76 17.94 21.51 18.79 19.05 19.55C16.58 20.31 14.2 21.02 10.98 21.52C7.75 22.02 3.45 22.44 -0.29 22.54C-4.03 22.63 -8.35 22.49 -11.45 22.1C-14.56 21.71 -16.74 20.98 -18.94 20.22C-21.15 19.46 -22.87 18.48 -24.67 17.53C-26.48 16.59 -28.11 15.63 -29.79 14.55C-31.47 13.46 -33.28 12.39 -34.76 11.02C-36.23 9.65 -37.76 8.17 -38.63 6.33C-39.5 4.5 -40.01 2.11 -39.99 0C-39.96 -2.11 -39.29 -4.45 -38.47 -6.31C-37.65 -8.16 -36.34 -9.66 -35.05 -11.11C-33.77 -12.56 -32.32 -13.84 -30.75 -15.02C-29.17 -16.2 -27.54 -17.3 -25.6 -18.2C-23.66 -19.1 -21.53 -19.88 -19.11 -20.41C-16.7 -20.94 -14.23 -21.22 -11.09 -21.38C-7.96 -21.55 -3.91 -21.47 -0.29 -21.38C3.33 -21.28 7.36 -21.1 10.62 -20.83C13.87 -20.55 16.54 -20.27 19.22 -19.73C21.9 -19.18 24.56 -18.51 26.7 -17.56C28.84 -16.62 30.72 -15.39 32.06 -14.07C33.39 -12.76 34.15 -11.19 34.72 -9.68C35.29 -8.18 35.32 -6.67 35.49 -5.05C35.65 -3.44 35.67 -1.69 35.69 0Z"/><path d="M36.84 0C36.97 1.69 36.54 3.62 35.79 5.14C35.05 6.66 33.69 7.91 32.36 9.11C31.03 10.31 29.4 11.33 27.81 12.35C26.22 13.37 24.62 14.32 22.82 15.22C21.01 16.13 19.18 17.04 16.99 17.76C14.79 18.49 12.6 19.14 9.67 19.58C6.74 20.02 2.84 20.26 -0.58 20.39C-4 20.51 -7.84 20.47 -10.86 20.34C-13.87 20.21 -16.23 20.02 -18.68 19.63C-21.14 19.23 -23.55 18.76 -25.6 17.99C-27.64 17.22 -29.58 16.2 -30.96 14.98C-32.34 13.76 -33.29 12.21 -33.89 10.65C-34.5 9.09 -34.51 7.39 -34.57 5.61C-34.63 3.84 -34.36 1.85 -34.23 0C-34.1 -1.85 -34.03 -3.77 -33.81 -5.49C-33.59 -7.21 -33.48 -8.8 -32.89 -10.33C-32.3 -11.85 -31.51 -13.38 -30.27 -14.64C-29.03 -15.9 -27.33 -17.01 -25.43 -17.87C-23.52 -18.73 -21.25 -19.33 -18.85 -19.81C-16.46 -20.28 -14.1 -20.56 -11.06 -20.74C-8.01 -20.91 -4.07 -20.98 -0.58 -20.85C2.91 -20.72 6.92 -20.45 9.87 -19.96C12.83 -19.47 15.02 -18.74 17.15 -17.93C19.28 -17.12 20.99 -16.1 22.65 -15.12C24.31 -14.14 25.67 -13.1 27.12 -12.05C28.57 -11 30.03 -10 31.35 -8.83C32.67 -7.66 34.12 -6.5 35.03 -5.03C35.95 -3.56 36.71 -1.69 36.84 0Z"/><path d="M34.1 0C34.28 1.59 33.97 3.4 33.32 4.83C32.68 6.26 31.47 7.46 30.25 8.61C29.03 9.75 27.5 10.73 26 11.69C24.5 12.65 22.95 13.55 21.23 14.38C19.5 15.22 17.73 16.05 15.65 16.7C13.56 17.36 11.48 17.94 8.72 18.32C5.97 18.7 2.32 18.9 -0.87 19.01C-4.06 19.11 -7.62 19.05 -10.43 18.93C-13.25 18.82 -15.44 18.65 -17.76 18.31C-20.07 17.96 -22.36 17.56 -24.31 16.86C-26.27 16.16 -28.15 15.25 -29.5 14.12C-30.85 12.99 -31.81 11.54 -32.4 10.08C-32.99 8.61 -33.01 6.99 -33.05 5.31C-33.08 3.64 -32.77 1.74 -32.59 0C-32.42 -1.74 -32.26 -3.54 -32 -5.14C-31.73 -6.74 -31.56 -8.21 -30.98 -9.62C-30.4 -11.04 -29.66 -12.45 -28.5 -13.63C-27.35 -14.8 -25.8 -15.85 -24.04 -16.67C-22.29 -17.49 -20.2 -18.08 -17.98 -18.55C-15.76 -19.03 -13.58 -19.32 -10.73 -19.51C-7.88 -19.71 -4.16 -19.8 -0.87 -19.69C2.42 -19.59 6.23 -19.34 9.02 -18.88C11.81 -18.42 13.88 -17.71 15.88 -16.93C17.87 -16.15 19.44 -15.15 20.96 -14.21C22.48 -13.26 23.69 -12.25 25.01 -11.26C26.32 -10.26 27.62 -9.31 28.83 -8.22C30.04 -7.12 31.39 -6.05 32.27 -4.68C33.15 -3.31 33.93 -1.59 34.1 0Z"/><path d="M29.47 0C29.58 1.41 29.5 2.97 29.13 4.28C28.76 5.59 28.06 6.73 27.24 7.86C26.42 8.98 25.36 10.02 24.21 11.04C23.05 12.05 21.81 13.05 20.31 13.97C18.8 14.88 17.18 15.83 15.19 16.53C13.19 17.23 11.08 17.85 8.36 18.17C5.63 18.49 1.91 18.55 -1.16 18.45C-4.22 18.34 -7.54 17.93 -10.03 17.55C-12.51 17.17 -14.15 16.64 -16.06 16.15C-17.96 15.65 -19.69 15.19 -21.44 14.58C-23.18 13.98 -25 13.37 -26.51 12.5C-28.03 11.64 -29.52 10.61 -30.55 9.39C-31.58 8.18 -32.3 6.78 -32.7 5.21C-33.11 3.64 -33.11 1.72 -33 0C-32.89 -1.72 -32.53 -3.56 -32.05 -5.1C-31.57 -6.64 -30.97 -7.99 -30.11 -9.25C-29.24 -10.51 -28.18 -11.7 -26.84 -12.67C-25.51 -13.63 -23.85 -14.43 -22.1 -15.06C-20.34 -15.68 -18.35 -16.07 -16.31 -16.43C-14.27 -16.79 -12.39 -17 -9.86 -17.23C-7.34 -17.45 -4.17 -17.69 -1.16 -17.8C1.85 -17.9 5.43 -18.03 8.19 -17.86C10.96 -17.69 13.31 -17.36 15.44 -16.79C17.57 -16.21 19.45 -15.33 20.97 -14.4C22.48 -13.46 23.56 -12.29 24.54 -11.18C25.51 -10.07 26.14 -8.9 26.8 -7.73C27.45 -6.57 28.03 -5.47 28.48 -4.19C28.92 -2.9 29.36 -1.41 29.47 0Z"/><path d="M28.12 0C27.96 1.35 27.4 2.8 26.74 3.98C26.07 5.16 25.07 6.1 24.15 7.08C23.24 8.06 22.25 8.94 21.23 9.86C20.2 10.79 19.26 11.75 18 12.66C16.74 13.56 15.41 14.54 13.66 15.28C11.91 16.02 10.02 16.7 7.5 17.09C4.98 17.47 1.47 17.61 -1.45 17.59C-4.37 17.56 -7.6 17.27 -10.01 16.94C-12.42 16.62 -14.09 16.16 -15.89 15.66C-17.7 15.16 -19.33 14.62 -20.83 13.94C-22.34 13.26 -23.77 12.5 -24.93 11.58C-26.09 10.66 -27.06 9.59 -27.81 8.43C-28.56 7.27 -29.03 6.03 -29.43 4.62C-29.83 3.22 -30.06 1.57 -30.22 0C-30.38 -1.57 -30.54 -3.29 -30.41 -4.78C-30.27 -6.27 -30.07 -7.68 -29.41 -8.94C-28.75 -10.19 -27.76 -11.41 -26.46 -12.33C-25.16 -13.26 -23.39 -13.97 -21.61 -14.5C-19.82 -15.03 -17.77 -15.26 -15.76 -15.51C-13.74 -15.76 -11.9 -15.85 -9.52 -15.97C-7.13 -16.1 -4.2 -16.24 -1.45 -16.27C1.31 -16.3 4.51 -16.34 7.01 -16.15C9.5 -15.96 11.57 -15.64 13.53 -15.14C15.49 -14.64 17.24 -13.93 18.77 -13.16C20.31 -12.39 21.59 -11.47 22.75 -10.53C23.91 -9.59 24.92 -8.59 25.75 -7.52C26.58 -6.46 27.32 -5.37 27.72 -4.12C28.11 -2.87 28.29 -1.35 28.12 0Z"/><path d="M26.57 0C26.36 1.29 25.7 2.66 25.04 3.78C24.38 4.91 23.5 5.81 22.63 6.74C21.77 7.68 20.89 8.55 19.84 9.39C18.8 10.23 17.71 11.07 16.37 11.78C15.02 12.5 13.51 13.16 11.79 13.68C10.08 14.2 8.33 14.6 6.07 14.92C3.82 15.24 0.9 15.45 -1.74 15.61C-4.37 15.77 -7.38 15.9 -9.75 15.87C-12.13 15.84 -14.1 15.77 -15.98 15.43C-17.86 15.1 -19.63 14.59 -21.03 13.87C-22.42 13.16 -23.51 12.17 -24.34 11.15C-25.17 10.13 -25.58 8.92 -26.01 7.76C-26.44 6.59 -26.62 5.45 -26.91 4.16C-27.2 2.87 -27.53 1.42 -27.74 0C-27.94 -1.42 -28.23 -3 -28.15 -4.36C-28.06 -5.72 -27.82 -7 -27.22 -8.14C-26.62 -9.29 -25.66 -10.35 -24.54 -11.24C-23.42 -12.14 -21.99 -12.86 -20.5 -13.49C-19.01 -14.12 -17.38 -14.62 -15.59 -15.02C-13.8 -15.42 -12.07 -15.74 -9.76 -15.89C-7.46 -16.04 -4.38 -16.06 -1.74 -15.9C0.9 -15.75 3.89 -15.37 6.08 -14.94C8.27 -14.5 9.78 -13.88 11.41 -13.29C13.03 -12.71 14.4 -12.07 15.83 -11.44C17.27 -10.8 18.7 -10.2 20.04 -9.47C21.37 -8.75 22.81 -8 23.85 -7.08C24.89 -6.16 25.82 -5.14 26.27 -3.96C26.73 -2.78 26.77 -1.29 26.57 0Z"/><path d="M22.06 0C22.03 1.13 21.96 2.3 21.82 3.37C21.68 4.44 21.62 5.43 21.23 6.43C20.84 7.43 20.36 8.48 19.48 9.36C18.61 10.24 17.39 11.08 15.97 11.71C14.56 12.35 12.78 12.8 10.98 13.15C9.19 13.5 7.37 13.66 5.21 13.81C3.04 13.97 0.37 14.05 -2.03 14.1C-4.42 14.15 -7.07 14.2 -9.16 14.12C-11.25 14.03 -12.91 13.9 -14.56 13.58C-16.2 13.26 -17.69 12.79 -19.01 12.21C-20.33 11.63 -21.44 10.88 -22.47 10.08C-23.51 9.28 -24.4 8.39 -25.21 7.41C-26.01 6.42 -26.8 5.41 -27.31 4.18C-27.82 2.94 -28.25 1.4 -28.28 0C-28.3 -1.4 -28.02 -2.98 -27.47 -4.2C-26.92 -5.43 -25.95 -6.42 -24.98 -7.34C-24.01 -8.25 -22.78 -8.96 -21.65 -9.68C-20.52 -10.39 -19.4 -11 -18.19 -11.63C-16.98 -12.25 -15.85 -12.89 -14.4 -13.41C-12.95 -13.93 -11.54 -14.46 -9.47 -14.74C-7.41 -15.02 -4.53 -15.16 -2.03 -15.11C0.47 -15.05 3.38 -14.76 5.52 -14.41C7.66 -14.06 9.22 -13.53 10.82 -13C12.43 -12.46 13.85 -11.85 15.16 -11.18C16.47 -10.52 17.69 -9.8 18.66 -9C19.63 -8.2 20.44 -7.3 21 -6.37C21.55 -5.43 21.81 -4.45 21.99 -3.39C22.16 -2.33 22.08 -1.13 22.06 0Z"/><path d="M21.45 0C21.59 1.08 21.44 2.31 21.1 3.31C20.76 4.31 20.11 5.17 19.4 6.01C18.69 6.85 17.82 7.61 16.85 8.34C15.89 9.07 14.84 9.77 13.61 10.36C12.38 10.96 11.01 11.52 9.47 11.92C7.93 12.32 6.34 12.6 4.37 12.77C2.41 12.94 -0.12 12.95 -2.32 12.95C-4.51 12.95 -6.86 12.87 -8.78 12.79C-10.69 12.7 -12.18 12.64 -13.8 12.45C-15.42 12.25 -17.06 12.05 -18.48 11.62C-19.9 11.19 -21.29 10.61 -22.3 9.86C-23.31 9.1 -24.07 8.12 -24.55 7.11C-25.03 6.09 -25.14 4.97 -25.21 3.78C-25.28 2.6 -25.11 1.24 -24.97 0C-24.83 -1.24 -24.65 -2.53 -24.36 -3.64C-24.07 -4.75 -23.76 -5.74 -23.21 -6.68C-22.67 -7.61 -21.97 -8.5 -21.08 -9.25C-20.2 -10.01 -19.09 -10.65 -17.9 -11.21C-16.71 -11.76 -15.39 -12.2 -13.93 -12.59C-12.48 -12.98 -11.1 -13.33 -9.17 -13.56C-7.23 -13.79 -4.64 -13.99 -2.32 -13.98C0.01 -13.97 2.77 -13.84 4.76 -13.52C6.75 -13.19 8.23 -12.64 9.61 -12.06C10.99 -11.47 12.03 -10.7 13.03 -9.99C14.04 -9.28 14.79 -8.53 15.63 -7.81C16.47 -7.08 17.29 -6.41 18.06 -5.64C18.83 -4.87 19.69 -4.13 20.25 -3.19C20.81 -2.25 21.31 -1.08 21.45 0Z"/><path d="M18.94 0C19.12 1 19.27 2.12 19.09 3.07C18.91 4.01 18.52 4.89 17.86 5.66C17.19 6.43 16.17 7.12 15.1 7.71C14.04 8.29 12.71 8.72 11.45 9.15C10.19 9.58 8.91 9.91 7.56 10.28C6.2 10.64 5.04 11.03 3.34 11.36C1.65 11.69 -0.56 12.07 -2.61 12.26C-4.65 12.46 -7.11 12.59 -8.94 12.54C-10.77 12.48 -12.21 12.25 -13.6 11.92C-15 11.59 -16.19 11.1 -17.29 10.56C-18.39 10.02 -19.36 9.39 -20.22 8.69C-21.08 7.98 -21.88 7.21 -22.45 6.34C-23.03 5.48 -23.48 4.54 -23.67 3.48C-23.86 2.42 -23.79 1.13 -23.61 0C-23.43 -1.13 -22.98 -2.31 -22.58 -3.3C-22.18 -4.29 -21.69 -5.09 -21.21 -5.94C-20.72 -6.8 -20.3 -7.63 -19.67 -8.41C-19.04 -9.2 -18.39 -10.02 -17.43 -10.66C-16.47 -11.3 -15.29 -11.89 -13.9 -12.24C-12.51 -12.6 -10.95 -12.76 -9.07 -12.79C-7.18 -12.82 -4.69 -12.62 -2.61 -12.43C-0.52 -12.23 1.73 -11.91 3.47 -11.6C5.21 -11.29 6.5 -10.97 7.85 -10.57C9.2 -10.18 10.48 -9.76 11.59 -9.24C12.71 -8.72 13.72 -8.12 14.55 -7.47C15.39 -6.81 16.03 -6.07 16.61 -5.32C17.18 -4.56 17.61 -3.8 18 -2.91C18.39 -2.02 18.76 -1 18.94 0Z"/><path d="M15.45 0C15.55 0.86 15.72 1.79 15.7 2.63C15.67 3.46 15.64 4.27 15.29 5.03C14.94 5.79 14.38 6.55 13.61 7.18C12.84 7.82 11.78 8.37 10.67 8.83C9.56 9.29 8.28 9.64 6.96 9.96C5.63 10.28 4.37 10.54 2.73 10.74C1.09 10.94 -1.03 11.12 -2.89 11.17C-4.76 11.23 -6.9 11.21 -8.49 11.07C-10.08 10.93 -11.25 10.66 -12.43 10.33C-13.61 10.01 -14.59 9.57 -15.58 9.12C-16.56 8.67 -17.46 8.18 -18.35 7.62C-19.23 7.06 -20.16 6.48 -20.9 5.75C-21.64 5.03 -22.38 4.24 -22.78 3.28C-23.17 2.32 -23.36 1.08 -23.27 0C-23.18 -1.08 -22.73 -2.27 -22.23 -3.19C-21.73 -4.12 -20.96 -4.84 -20.26 -5.55C-19.56 -6.26 -18.81 -6.87 -18.03 -7.47C-17.26 -8.06 -16.52 -8.64 -15.61 -9.15C-14.7 -9.65 -13.74 -10.14 -12.57 -10.49C-11.4 -10.83 -10.18 -11.09 -8.57 -11.22C-6.95 -11.36 -4.79 -11.35 -2.89 -11.3C-1 -11.24 1.14 -11.09 2.81 -10.89C4.47 -10.69 5.78 -10.45 7.1 -10.11C8.42 -9.77 9.68 -9.37 10.71 -8.86C11.75 -8.34 12.64 -7.71 13.3 -7.05C13.96 -6.38 14.34 -5.6 14.65 -4.85C14.96 -4.1 15.02 -3.36 15.15 -2.55C15.28 -1.74 15.36 -0.86 15.45 0Z"/><path d="M13.38 0C13.43 0.78 13.54 1.6 13.51 2.36C13.48 3.11 13.48 3.84 13.19 4.53C12.91 5.22 12.46 5.93 11.79 6.51C11.11 7.1 10.16 7.61 9.15 8.03C8.14 8.44 6.94 8.74 5.72 9C4.5 9.27 3.33 9.45 1.85 9.61C0.36 9.77 -1.51 9.91 -3.18 9.97C-4.86 10.02 -6.77 10.05 -8.21 9.95C-9.65 9.85 -10.75 9.66 -11.84 9.39C-12.93 9.11 -13.86 8.73 -14.75 8.31C-15.64 7.9 -16.42 7.43 -17.19 6.9C-17.95 6.38 -18.72 5.83 -19.36 5.17C-20 4.51 -20.66 3.81 -21.02 2.95C-21.39 2.08 -21.62 0.97 -21.56 0C-21.51 -0.97 -21.15 -2.06 -20.7 -2.89C-20.26 -3.73 -19.54 -4.38 -18.88 -5.02C-18.22 -5.65 -17.49 -6.17 -16.77 -6.7C-16.05 -7.23 -15.38 -7.73 -14.56 -8.18C-13.75 -8.64 -12.93 -9.11 -11.9 -9.45C-10.86 -9.78 -9.79 -10.07 -8.34 -10.21C-6.89 -10.35 -4.9 -10.36 -3.18 -10.31C-1.46 -10.25 0.49 -10.07 1.98 -9.86C3.47 -9.65 4.61 -9.38 5.77 -9.06C6.94 -8.73 8.04 -8.36 8.97 -7.91C9.9 -7.46 10.74 -6.92 11.37 -6.33C11.99 -5.75 12.41 -5.07 12.71 -4.4C13.01 -3.73 13.08 -3.05 13.19 -2.31C13.3 -1.58 13.32 -0.78 13.38 0Z"/><path d="M11.63 0C11.76 0.71 11.95 1.48 11.93 2.18C11.91 2.87 11.84 3.54 11.51 4.15C11.18 4.76 10.64 5.36 9.95 5.84C9.25 6.32 8.31 6.72 7.36 7.05C6.41 7.38 5.34 7.6 4.26 7.82C3.19 8.05 2.2 8.22 0.92 8.38C-0.37 8.55 -1.99 8.71 -3.47 8.8C-4.95 8.88 -6.66 8.95 -7.97 8.89C-9.27 8.84 -10.28 8.69 -11.29 8.47C-12.3 8.25 -13.17 7.93 -14 7.57C-14.83 7.21 -15.57 6.79 -16.27 6.31C-16.96 5.83 -17.65 5.31 -18.17 4.7C-18.69 4.08 -19.17 3.41 -19.41 2.63C-19.64 1.85 -19.69 0.86 -19.55 0C-19.42 -0.86 -19.02 -1.77 -18.62 -2.5C-18.21 -3.23 -17.63 -3.79 -17.12 -4.36C-16.6 -4.94 -16.09 -5.44 -15.54 -5.95C-14.99 -6.46 -14.49 -6.98 -13.81 -7.43C-13.13 -7.89 -12.4 -8.35 -11.46 -8.66C-10.52 -8.97 -9.51 -9.21 -8.18 -9.31C-6.85 -9.42 -5.03 -9.38 -3.47 -9.3C-1.92 -9.21 -0.19 -9.01 1.13 -8.79C2.45 -8.58 3.43 -8.31 4.44 -8C5.44 -7.69 6.37 -7.34 7.17 -6.93C7.97 -6.51 8.67 -6.03 9.22 -5.52C9.77 -5.01 10.14 -4.43 10.46 -3.85C10.78 -3.28 10.94 -2.71 11.14 -2.06C11.33 -1.42 11.5 -0.71 11.63 0Z"/><path d="M10.22 0C10.26 0.65 10.26 1.36 10.09 1.96C9.92 2.55 9.62 3.09 9.18 3.58C8.74 4.07 8.1 4.5 7.43 4.87C6.76 5.24 5.96 5.53 5.18 5.82C4.41 6.11 3.63 6.35 2.78 6.62C1.94 6.88 1.21 7.17 0.12 7.41C-0.97 7.66 -2.42 7.93 -3.76 8.08C-5.11 8.22 -6.74 8.32 -7.94 8.27C-9.14 8.23 -10.08 8.05 -10.97 7.81C-11.85 7.56 -12.57 7.19 -13.23 6.8C-13.89 6.42 -14.42 5.97 -14.92 5.5C-15.43 5.03 -15.88 4.54 -16.24 3.99C-16.6 3.44 -16.91 2.86 -17.08 2.2C-17.25 1.53 -17.29 0.73 -17.25 0C-17.2 -0.73 -17.01 -1.5 -16.81 -2.15C-16.61 -2.81 -16.33 -3.36 -16.03 -3.92C-15.74 -4.49 -15.44 -5.04 -15.02 -5.55C-14.59 -6.06 -14.12 -6.58 -13.46 -6.97C-12.8 -7.37 -12 -7.72 -11.07 -7.92C-10.14 -8.12 -9.11 -8.18 -7.89 -8.17C-6.67 -8.16 -5.09 -8 -3.76 -7.86C-2.44 -7.72 -1.04 -7.51 0.07 -7.32C1.17 -7.13 1.99 -6.95 2.88 -6.72C3.78 -6.5 4.65 -6.28 5.42 -5.97C6.19 -5.67 6.93 -5.32 7.52 -4.91C8.11 -4.5 8.59 -4.02 8.97 -3.52C9.36 -3.02 9.61 -2.51 9.82 -1.92C10.03 -1.33 10.17 -0.65 10.22 0Z"/><path d="M7.62 0C7.54 0.54 7.43 1.11 7.26 1.6C7.1 2.09 6.93 2.53 6.64 2.96C6.36 3.39 6 3.8 5.54 4.17C5.08 4.54 4.52 4.88 3.91 5.18C3.29 5.48 2.61 5.74 1.87 5.99C1.12 6.24 0.42 6.47 -0.56 6.67C-1.55 6.86 -2.87 7.05 -4.05 7.14C-5.24 7.23 -6.66 7.27 -7.69 7.19C-8.71 7.11 -9.49 6.92 -10.21 6.67C-10.92 6.42 -11.47 6.05 -11.98 5.7C-12.49 5.35 -12.86 4.94 -13.27 4.55C-13.69 4.15 -14.07 3.76 -14.45 3.32C-14.82 2.88 -15.24 2.45 -15.53 1.89C-15.81 1.34 -16.07 0.65 -16.15 0C-16.24 -0.65 -16.18 -1.38 -16.02 -1.98C-15.86 -2.57 -15.54 -3.08 -15.18 -3.56C-14.83 -4.04 -14.38 -4.46 -13.89 -4.85C-13.4 -5.24 -12.86 -5.59 -12.23 -5.88C-11.6 -6.17 -10.91 -6.42 -10.12 -6.57C-9.33 -6.73 -8.51 -6.8 -7.5 -6.81C-6.48 -6.83 -5.18 -6.74 -4.05 -6.65C-2.93 -6.57 -1.73 -6.43 -0.75 -6.3C0.22 -6.18 0.96 -6.06 1.78 -5.9C2.6 -5.74 3.43 -5.59 4.16 -5.34C4.89 -5.1 5.62 -4.8 6.15 -4.44C6.69 -4.08 7.11 -3.62 7.38 -3.16C7.64 -2.7 7.72 -2.2 7.76 -1.67C7.8 -1.14 7.7 -0.54 7.62 0Z"/><path d="M5.66 0C5.54 0.46 5.29 0.93 5.07 1.33C4.86 1.73 4.62 2.06 4.38 2.41C4.14 2.77 3.95 3.13 3.65 3.48C3.35 3.82 3.04 4.2 2.58 4.51C2.13 4.82 1.58 5.11 0.93 5.33C0.28 5.54 -0.43 5.69 -1.31 5.79C-2.19 5.89 -3.35 5.91 -4.34 5.91C-5.34 5.91 -6.43 5.88 -7.27 5.8C-8.12 5.73 -8.76 5.64 -9.4 5.49C-10.05 5.33 -10.63 5.13 -11.13 4.88C-11.62 4.62 -12.03 4.3 -12.38 3.96C-12.73 3.62 -12.97 3.24 -13.22 2.84C-13.48 2.44 -13.69 2.05 -13.89 1.58C-14.09 1.1 -14.32 0.55 -14.44 0C-14.56 -0.55 -14.68 -1.18 -14.62 -1.7C-14.56 -2.22 -14.38 -2.7 -14.08 -3.11C-13.77 -3.52 -13.29 -3.88 -12.79 -4.16C-12.28 -4.45 -11.66 -4.65 -11.07 -4.83C-10.47 -5.02 -9.86 -5.15 -9.21 -5.28C-8.56 -5.41 -7.99 -5.53 -7.18 -5.61C-6.36 -5.69 -5.3 -5.76 -4.34 -5.76C-3.38 -5.75 -2.26 -5.7 -1.41 -5.6C-0.57 -5.49 0.08 -5.32 0.73 -5.13C1.39 -4.94 1.97 -4.71 2.52 -4.47C3.08 -4.22 3.6 -3.96 4.05 -3.65C4.51 -3.35 4.94 -3.02 5.23 -2.65C5.53 -2.28 5.73 -1.87 5.8 -1.43C5.88 -0.99 5.79 -0.46 5.66 0Z"/><path d="M3.89 0C3.81 0.39 3.58 0.8 3.38 1.13C3.17 1.47 2.9 1.73 2.65 2.01C2.39 2.29 2.15 2.56 1.85 2.82C1.55 3.08 1.25 3.35 0.86 3.57C0.47 3.8 0.03 4.02 -0.49 4.19C-1 4.36 -1.54 4.49 -2.23 4.59C-2.92 4.69 -3.82 4.75 -4.63 4.8C-5.44 4.84 -6.36 4.86 -7.08 4.84C-7.79 4.82 -8.37 4.77 -8.93 4.66C-9.49 4.55 -10 4.38 -10.41 4.16C-10.82 3.93 -11.14 3.64 -11.38 3.33C-11.63 3.02 -11.76 2.67 -11.91 2.32C-12.05 1.98 -12.13 1.64 -12.24 1.26C-12.35 0.87 -12.49 0.43 -12.57 0C-12.66 -0.43 -12.77 -0.92 -12.75 -1.34C-12.73 -1.76 -12.66 -2.15 -12.47 -2.5C-12.28 -2.85 -11.97 -3.18 -11.61 -3.44C-11.25 -3.7 -10.79 -3.91 -10.32 -4.09C-9.85 -4.27 -9.34 -4.4 -8.79 -4.51C-8.24 -4.62 -7.72 -4.7 -7.03 -4.75C-6.34 -4.79 -5.42 -4.8 -4.63 -4.76C-3.84 -4.72 -2.94 -4.62 -2.27 -4.5C-1.61 -4.38 -1.13 -4.21 -0.63 -4.05C-0.12 -3.88 0.32 -3.7 0.77 -3.51C1.21 -3.32 1.66 -3.14 2.07 -2.92C2.48 -2.69 2.91 -2.45 3.21 -2.17C3.51 -1.88 3.77 -1.56 3.88 -1.2C4 -0.84 3.98 -0.39 3.89 0Z"/><path d="M1.8 0C1.81 0.31 1.74 0.65 1.6 0.92C1.46 1.19 1.21 1.42 0.96 1.63C0.71 1.84 0.39 2.01 0.1 2.18C-0.19 2.36 -0.48 2.52 -0.79 2.69C-1.1 2.85 -1.4 3.03 -1.77 3.19C-2.14 3.34 -2.5 3.51 -3.03 3.61C-3.55 3.72 -4.29 3.8 -4.92 3.84C-5.56 3.87 -6.29 3.85 -6.84 3.8C-7.39 3.75 -7.79 3.66 -8.2 3.56C-8.62 3.45 -8.99 3.33 -9.33 3.17C-9.67 3.01 -9.98 2.83 -10.23 2.62C-10.48 2.41 -10.68 2.15 -10.82 1.89C-10.96 1.62 -11.01 1.33 -11.05 1.01C-11.09 0.7 -11.06 0.34 -11.05 0C-11.03 -0.34 -11.02 -0.69 -10.98 -1C-10.94 -1.32 -10.93 -1.61 -10.83 -1.89C-10.74 -2.17 -10.62 -2.47 -10.4 -2.7C-10.18 -2.94 -9.87 -3.15 -9.51 -3.3C-9.15 -3.45 -8.7 -3.54 -8.25 -3.61C-7.79 -3.67 -7.33 -3.67 -6.78 -3.67C-6.22 -3.67 -5.53 -3.65 -4.92 -3.62C-4.31 -3.59 -3.63 -3.55 -3.09 -3.49C-2.56 -3.42 -2.14 -3.34 -1.73 -3.23C-1.31 -3.12 -0.94 -2.97 -0.61 -2.81C-0.28 -2.64 0 -2.45 0.26 -2.26C0.53 -2.06 0.76 -1.85 0.97 -1.63C1.18 -1.41 1.39 -1.18 1.53 -0.91C1.67 -0.64 1.79 -0.31 1.8 0Z"/><path d="M-0.83 0C-0.8 0.21 -0.76 0.43 -0.77 0.63C-0.77 0.83 -0.78 1.02 -0.86 1.2C-0.94 1.39 -1.08 1.57 -1.26 1.72C-1.45 1.87 -1.7 2 -1.97 2.11C-2.23 2.22 -2.54 2.3 -2.86 2.38C-3.18 2.45 -3.48 2.51 -3.87 2.56C-4.26 2.6 -4.76 2.65 -5.21 2.66C-5.66 2.67 -6.16 2.67 -6.54 2.64C-6.92 2.61 -7.21 2.55 -7.49 2.47C-7.77 2.39 -8.01 2.29 -8.25 2.18C-8.48 2.08 -8.7 1.96 -8.91 1.82C-9.12 1.69 -9.34 1.55 -9.51 1.38C-9.69 1.2 -9.86 1.01 -9.96 0.78C-10.05 0.55 -10.1 0.26 -10.07 0C-10.05 -0.26 -9.94 -0.54 -9.82 -0.76C-9.7 -0.98 -9.52 -1.15 -9.35 -1.32C-9.18 -1.49 -9 -1.64 -8.82 -1.78C-8.63 -1.92 -8.46 -2.06 -8.24 -2.18C-8.03 -2.3 -7.8 -2.42 -7.52 -2.51C-7.24 -2.59 -6.95 -2.65 -6.57 -2.69C-6.18 -2.72 -5.66 -2.72 -5.21 -2.71C-4.76 -2.69 -4.25 -2.65 -3.85 -2.6C-3.45 -2.55 -3.14 -2.49 -2.83 -2.41C-2.51 -2.33 -2.21 -2.23 -1.97 -2.11C-1.72 -1.99 -1.51 -1.84 -1.35 -1.68C-1.19 -1.52 -1.1 -1.34 -1.02 -1.16C-0.95 -0.98 -0.93 -0.8 -0.9 -0.61C-0.87 -0.42 -0.85 -0.21 -0.83 0Z"/><path d="M-2.73 0C-2.72 0.13 -2.7 0.27 -2.71 0.39C-2.72 0.52 -2.74 0.64 -2.79 0.75C-2.85 0.86 -2.94 0.97 -3.06 1.06C-3.18 1.15 -3.35 1.23 -3.52 1.29C-3.69 1.35 -3.89 1.39 -4.09 1.42C-4.29 1.46 -4.48 1.48 -4.71 1.51C-4.95 1.53 -5.23 1.56 -5.5 1.58C-5.77 1.59 -6.07 1.61 -6.31 1.61C-6.55 1.61 -6.75 1.6 -6.94 1.56C-7.13 1.53 -7.3 1.47 -7.45 1.41C-7.6 1.34 -7.73 1.25 -7.85 1.16C-7.96 1.06 -8.06 0.96 -8.15 0.85C-8.23 0.73 -8.31 0.61 -8.35 0.47C-8.39 0.33 -8.41 0.15 -8.4 0C-8.39 -0.15 -8.33 -0.32 -8.27 -0.46C-8.2 -0.59 -8.1 -0.69 -8 -0.8C-7.9 -0.9 -7.8 -0.99 -7.69 -1.08C-7.59 -1.17 -7.49 -1.26 -7.37 -1.34C-7.24 -1.42 -7.12 -1.51 -6.95 -1.57C-6.78 -1.63 -6.61 -1.69 -6.36 -1.71C-6.12 -1.74 -5.78 -1.73 -5.5 -1.71C-5.22 -1.7 -4.9 -1.65 -4.66 -1.6C-4.42 -1.56 -4.26 -1.49 -4.08 -1.43C-3.91 -1.37 -3.75 -1.31 -3.6 -1.23C-3.46 -1.16 -3.32 -1.08 -3.21 -1C-3.1 -0.91 -3.01 -0.81 -2.94 -0.71C-2.87 -0.61 -2.83 -0.5 -2.8 -0.38C-2.76 -0.26 -2.74 -0.13 -2.73 0Z" fill="#fff" stroke="none"/></g>
<path d="M737.5 913.4 L737.5 1115 M603.3 987.2 L805.7 987.2" stroke="#161616" stroke-width="1.6" fill="none"/>
<text transform="translate(575.78 1114.6) scale(0.9997 1)" font-size="10.3" font-weight="bold" style="fill:#141414;stroke:#141414;stroke-width:0.4px" >10</text>
<text transform="translate(587.85 1107.7) scale(1.1623 1)" font-size="9.6" font-weight="bold" style="fill:#141414;stroke:#141414;stroke-width:0.2px" >0</text>
<text transform="translate(575.78 1083.34) scale(0.9997 1)" font-size="10.3" font-weight="bold" style="fill:#141414;stroke:#141414;stroke-width:0.4px" >10</text>
<text transform="translate(587.62 1076.44) scale(1.1746 1)" font-size="9.6" font-weight="bold" style="fill:#141414;stroke:#141414;stroke-width:0.2px" >1</text>
<text transform="translate(575.78 1046.28) scale(0.9997 1)" font-size="10.3" font-weight="bold" style="fill:#141414;stroke:#141414;stroke-width:0.4px" >10</text>
<text transform="translate(587.91 1039.38) scale(1.1502 1)" font-size="9.6" font-weight="bold" style="fill:#141414;stroke:#141414;stroke-width:0.2px" >2</text>
<text transform="translate(575.78 1009.22) scale(0.9997 1)" font-size="10.3" font-weight="bold" style="fill:#141414;stroke:#141414;stroke-width:0.4px" >10</text>
<text transform="translate(588.03 1002.32) scale(1.1153 1)" font-size="9.6" font-weight="bold" style="fill:#141414;stroke:#141414;stroke-width:0.2px" >3</text>
<text transform="translate(575.78 972.16) scale(0.9997 1)" font-size="10.3" font-weight="bold" style="fill:#141414;stroke:#141414;stroke-width:0.4px" >10</text>
<text transform="translate(588.15 965.26) scale(1.0319 1)" font-size="9.6" font-weight="bold" style="fill:#141414;stroke:#141414;stroke-width:0.2px" >4</text>
<text transform="translate(575.78 935.1) scale(0.9997 1)" font-size="10.3" font-weight="bold" style="fill:#141414;stroke:#141414;stroke-width:0.4px" >10</text>
<text transform="translate(587.98 928.2) scale(1.1042 1)" font-size="9.6" font-weight="bold" style="fill:#141414;stroke:#141414;stroke-width:0.2px" >5</text>
<text transform="translate(606.98 1141.4) scale(0.9997 1)" font-size="10.3" font-weight="bold" style="fill:#141414;stroke:#141414;stroke-width:0.4px" >10</text>
<text transform="translate(619.05 1134.5) scale(1.1623 1)" font-size="9.6" font-weight="bold" style="fill:#141414;stroke:#141414;stroke-width:0.2px" >0</text>
<text transform="translate(634.48 1141.4) scale(0.9997 1)" font-size="10.3" font-weight="bold" style="fill:#141414;stroke:#141414;stroke-width:0.4px" >10</text>
<text transform="translate(646.32 1134.5) scale(1.1746 1)" font-size="9.6" font-weight="bold" style="fill:#141414;stroke:#141414;stroke-width:0.2px" >1</text>
<text transform="translate(671.78 1141.4) scale(0.9997 1)" font-size="10.3" font-weight="bold" style="fill:#141414;stroke:#141414;stroke-width:0.4px" >10</text>
<text transform="translate(683.91 1134.5) scale(1.1502 1)" font-size="9.6" font-weight="bold" style="fill:#141414;stroke:#141414;stroke-width:0.2px" >2</text>
<text transform="translate(708.88 1141.4) scale(0.9997 1)" font-size="10.3" font-weight="bold" style="fill:#141414;stroke:#141414;stroke-width:0.4px" >10</text>
<text transform="translate(721.13 1134.5) scale(1.1153 1)" font-size="9.6" font-weight="bold" style="fill:#141414;stroke:#141414;stroke-width:0.2px" >3</text>
<text transform="translate(746.18 1141.4) scale(0.9997 1)" font-size="10.3" font-weight="bold" style="fill:#141414;stroke:#141414;stroke-width:0.4px" >10</text>
<text transform="translate(758.55 1134.5) scale(1.0319 1)" font-size="9.6" font-weight="bold" style="fill:#141414;stroke:#141414;stroke-width:0.2px" >4</text>
<text transform="translate(783.48 1141.4) scale(0.9997 1)" font-size="10.3" font-weight="bold" style="fill:#141414;stroke:#141414;stroke-width:0.4px" >10</text>
<text transform="translate(795.68 1134.5) scale(1.1042 1)" font-size="9.6" font-weight="bold" style="fill:#141414;stroke:#141414;stroke-width:0.2px" >5</text>
<path d="M596.9 1114.3 L603.3 1114.3 M596.9 1077.24 L603.3 1077.24 M596.9 1040.18 L603.3 1040.18 M596.9 1003.12 L603.3 1003.12 M596.9 966.06 L603.3 966.06 M596.9 929 L603.3 929 M603.7 1115 L603.7 1121.2 M639.7 1115 L639.7 1121.2 M677 1115 L677 1121.2 M714.1 1115 L714.1 1121.2 M751.4 1115 L751.4 1121.2 M788.7 1115 L788.7 1121.2" stroke="#2a2a2a" stroke-width="1.3" fill="none"/>
<path d="M600 1103.14 L603.3 1103.14 M600 1096.62 L603.3 1096.62 M600 1091.99 L603.3 1091.99 M600 1088.4 L603.3 1088.4 M600 1085.46 L603.3 1085.46 M600 1082.98 L603.3 1082.98 M600 1080.83 L603.3 1080.83 M600 1078.94 L603.3 1078.94 M600 1066.08 L603.3 1066.08 M600 1059.56 L603.3 1059.56 M600 1054.93 L603.3 1054.93 M600 1051.34 L603.3 1051.34 M600 1048.4 L603.3 1048.4 M600 1045.92 L603.3 1045.92 M600 1043.77 L603.3 1043.77 M600 1041.88 L603.3 1041.88 M600 1029.02 L603.3 1029.02 M600 1022.5 L603.3 1022.5 M600 1017.87 L603.3 1017.87 M600 1014.28 L603.3 1014.28 M600 1011.34 L603.3 1011.34 M600 1008.86 L603.3 1008.86 M600 1006.71 L603.3 1006.71 M600 1004.82 L603.3 1004.82 M600 991.96 L603.3 991.96 M600 985.44 L603.3 985.44 M600 980.81 L603.3 980.81 M600 977.22 L603.3 977.22 M600 974.28 L603.3 974.28 M600 971.8 L603.3 971.8 M600 969.65 L603.3 969.65 M600 967.76 L603.3 967.76 M600 954.9 L603.3 954.9 M600 948.38 L603.3 948.38 M600 943.75 L603.3 943.75 M600 940.16 L603.3 940.16 M600 937.22 L603.3 937.22 M600 934.74 L603.3 934.74 M600 932.59 L603.3 932.59 M600 930.7 L603.3 930.7 M600 917.84 L603.3 917.84 M614.54 1115 L614.54 1118.2 M620.88 1115 L620.88 1118.2 M625.37 1115 L625.37 1118.2 M628.86 1115 L628.86 1118.2 M631.71 1115 L631.71 1118.2 M634.12 1115 L634.12 1118.2 M636.21 1115 L636.21 1118.2 M638.05 1115 L638.05 1118.2 M650.93 1115 L650.93 1118.2 M657.5 1115 L657.5 1118.2 M662.16 1115 L662.16 1118.2 M665.77 1115 L665.77 1118.2 M668.73 1115 L668.73 1118.2 M671.22 1115 L671.22 1118.2 M673.39 1115 L673.39 1118.2 M675.29 1115 L675.29 1118.2 M688.17 1115 L688.17 1118.2 M694.7 1115 L694.7 1118.2 M699.34 1115 L699.34 1118.2 M702.93 1115 L702.93 1118.2 M705.87 1115 L705.87 1118.2 M708.35 1115 L708.35 1118.2 M710.5 1115 L710.5 1118.2 M712.4 1115 L712.4 1118.2 M725.33 1115 L725.33 1118.2 M731.9 1115 L731.9 1118.2 M736.56 1115 L736.56 1118.2 M740.17 1115 L740.17 1118.2 M743.13 1115 L743.13 1118.2 M745.62 1115 L745.62 1118.2 M747.79 1115 L747.79 1118.2 M749.69 1115 L749.69 1118.2 M762.63 1115 L762.63 1118.2 M769.2 1115 L769.2 1118.2 M773.86 1115 L773.86 1118.2 M777.47 1115 L777.47 1118.2 M780.43 1115 L780.43 1118.2 M782.92 1115 L782.92 1118.2 M785.09 1115 L785.09 1118.2 M786.99 1115 L786.99 1118.2 M799.87 1115 L799.87 1118.2" stroke="#2a2a2a" stroke-width="0.8" fill="none"/>
<text transform="translate(606.98 934.1) scale(1.1000 1)" font-size="12.6" style="fill:#1c1c1c;stroke:#1c1c1c;stroke-width:0.3px" >Q1</text>
<text transform="translate(607.05 951.4) scale(1.1000 1)" font-size="12.6" style="fill:#1c1c1c;stroke:#1c1c1c;stroke-width:0.3px" >0.29</text>
<text transform="translate(769.49 934.1) scale(1.1000 1)" font-size="12.6" style="fill:#1c1c1c;stroke:#1c1c1c;stroke-width:0.3px" >Q2</text>
<text transform="translate(760.83 951.4) scale(1.1000 1)" font-size="12.6" style="fill:#1c1c1c;stroke:#1c1c1c;stroke-width:0.3px" >13.0</text>
<text transform="translate(606.98 1084.9) scale(1.1000 1)" font-size="12.6" style="fill:#1c1c1c;stroke:#1c1c1c;stroke-width:0.3px" >Q4</text>
<text transform="translate(607.05 1102.3) scale(1.1000 1)" font-size="12.6" style="fill:#1c1c1c;stroke:#1c1c1c;stroke-width:0.3px" >33.7</text>
<text transform="translate(769.35 1084.9) scale(1.1000 1)" font-size="12.6" style="fill:#1c1c1c;stroke:#1c1c1c;stroke-width:0.3px" >Q3</text>
<text transform="translate(760.97 1102.3) scale(1.1000 1)" font-size="12.6" style="fill:#1c1c1c;stroke:#1c1c1c;stroke-width:0.3px" >52.9</text>
</g>
<g>
<text transform="translate(919.99 894.4) scale(1.0208 1)" font-size="22.2" >PDONβ</text>
<rect x="853.8" y="913.2" width="202.4" height="201.6" fill="#fff" stroke="#2a2a2a" stroke-width="1.3"/>
<g fill="none" stroke="#f2a444" stroke-width="0.6" opacity="0.85" transform="translate(972.7 1005.1) rotate(-34.5)"><path d="M56.1 0C56.31 1.57 56.38 3.27 55.93 4.76C55.49 6.25 54.85 7.63 53.43 8.92C52.01 10.21 49.97 11.46 47.42 12.49C44.87 13.51 41.5 14.36 38.12 15.07C34.74 15.78 30.92 16.24 27.13 16.74C23.35 17.23 19.94 17.62 15.42 18.05C10.9 18.48 5.31 18.98 0 19.33C-5.31 19.68 -11.58 20.08 -16.45 20.13C-21.32 20.19 -25.41 20.08 -29.22 19.66C-33.02 19.23 -36.39 18.48 -39.27 17.59C-42.15 16.7 -44.43 15.53 -46.5 14.32C-48.56 13.11 -50.22 11.77 -51.64 10.33C-53.06 8.89 -54.31 7.42 -55.02 5.69C-55.73 3.97 -56.12 1.88 -55.9 0C-55.69 -1.88 -54.84 -3.92 -53.76 -5.56C-52.67 -7.21 -51 -8.54 -49.39 -9.88C-47.79 -11.22 -46.02 -12.4 -44.11 -13.58C-42.19 -14.77 -40.37 -15.95 -37.91 -16.98C-35.45 -18 -32.79 -19.05 -29.34 -19.74C-25.9 -20.43 -22.13 -20.94 -17.24 -21.1C-12.35 -21.25 -5.58 -21.03 -0 -20.67C5.58 -20.32 11.67 -19.61 16.21 -18.97C20.75 -18.33 23.83 -17.55 27.26 -16.81C30.68 -16.07 33.79 -15.36 36.76 -14.53C39.72 -13.7 42.63 -12.86 45.04 -11.86C47.44 -10.86 49.57 -9.75 51.18 -8.54C52.78 -7.34 53.85 -6.08 54.67 -4.65C55.49 -3.23 55.88 -1.57 56.1 0Z" fill="#f2a444" fill-opacity="0.2"/><path d="M50.11 0C50.19 1.42 50.31 2.94 49.86 4.27C49.42 5.6 48.68 6.81 47.43 7.97C46.17 9.13 44.37 10.22 42.33 11.23C40.29 12.24 37.84 13.16 35.19 14.03C32.54 14.91 29.72 15.76 26.44 16.5C23.15 17.25 19.94 18 15.48 18.48C11.02 18.97 4.89 19.36 -0.32 19.43C-5.53 19.5 -11.51 19.29 -15.78 18.92C-20.05 18.56 -22.91 17.88 -25.92 17.23C-28.94 16.58 -31.31 15.8 -33.87 15.03C-36.43 14.26 -38.87 13.52 -41.26 12.61C-43.64 11.7 -46.23 10.77 -48.21 9.58C-50.18 8.39 -52.07 7.06 -53.13 5.47C-54.18 3.87 -54.62 1.81 -54.53 0C-54.45 -1.81 -53.6 -3.8 -52.62 -5.41C-51.64 -7.02 -50.21 -8.37 -48.64 -9.67C-47.07 -10.96 -45.32 -12.16 -43.19 -13.2C-41.06 -14.25 -38.66 -15.2 -35.85 -15.91C-33.04 -16.63 -29.79 -17.15 -26.33 -17.5C-22.86 -17.85 -19.37 -17.94 -15.04 -18.01C-10.7 -18.09 -5.28 -18.01 -0.32 -17.94C4.65 -17.88 10.21 -17.81 14.74 -17.62C19.26 -17.42 23.11 -17.22 26.84 -16.75C30.58 -16.29 34.26 -15.65 37.16 -14.82C40.07 -13.98 42.48 -12.87 44.26 -11.74C46.04 -10.61 47.01 -9.3 47.86 -8.04C48.71 -6.79 48.98 -5.57 49.36 -4.23C49.73 -2.89 50.02 -1.42 50.11 0Z"/><path d="M51.24 0C51.18 1.41 50.27 2.99 49.06 4.23C47.86 5.47 45.86 6.46 44 7.45C42.15 8.44 40.02 9.28 37.94 10.16C35.85 11.03 33.85 11.88 31.48 12.69C29.12 13.51 26.71 14.36 23.75 15.04C20.79 15.72 17.77 16.35 13.71 16.78C9.64 17.21 4.16 17.47 -0.63 17.62C-5.42 17.76 -10.84 17.74 -15.05 17.64C-19.25 17.53 -22.53 17.35 -25.88 16.98C-29.22 16.62 -32.44 16.16 -35.14 15.46C-37.84 14.75 -40.28 13.83 -42.05 12.76C-43.82 11.69 -44.95 10.35 -45.75 9.03C-46.55 7.7 -46.63 6.29 -46.84 4.78C-47.05 3.28 -46.97 1.6 -47.03 0C-47.09 -1.6 -47.32 -3.3 -47.18 -4.82C-47.04 -6.34 -47.01 -7.78 -46.21 -9.12C-45.41 -10.46 -44.2 -11.79 -42.37 -12.86C-40.54 -13.92 -37.99 -14.81 -35.23 -15.49C-32.46 -16.17 -29.18 -16.6 -25.8 -16.93C-22.42 -17.27 -19.15 -17.43 -14.95 -17.52C-10.76 -17.61 -5.39 -17.62 -0.63 -17.48C4.13 -17.34 9.56 -17.08 13.61 -16.67C17.66 -16.25 20.68 -15.65 23.68 -14.99C26.67 -14.34 29.14 -13.52 31.57 -12.73C34 -11.94 36.11 -11.11 38.26 -10.24C40.41 -9.37 42.6 -8.53 44.46 -7.53C46.32 -6.53 48.27 -5.51 49.4 -4.26C50.53 -3 51.29 -1.41 51.24 0Z"/><path d="M42.75 0C42.56 1.24 42.36 2.49 42.07 3.66C41.78 4.83 41.68 5.91 40.99 7C40.3 8.1 39.46 9.25 37.93 10.24C36.39 11.22 34.25 12.18 31.76 12.93C29.26 13.68 26.16 14.27 22.96 14.75C19.76 15.22 16.53 15.53 12.55 15.8C8.57 16.06 3.53 16.25 -0.95 16.34C-5.42 16.43 -10.46 16.47 -14.29 16.32C-18.11 16.17 -21.05 15.9 -23.91 15.45C-26.77 15.01 -29.2 14.36 -31.44 13.66C-33.69 12.95 -35.53 12.11 -37.39 11.22C-39.25 10.34 -40.99 9.41 -42.61 8.33C-44.24 7.26 -45.97 6.17 -47.11 4.78C-48.26 3.39 -49.28 1.61 -49.47 0C-49.66 -1.61 -49.22 -3.47 -48.25 -4.9C-47.28 -6.32 -45.47 -7.49 -43.67 -8.55C-41.87 -9.6 -39.58 -10.43 -37.44 -11.24C-35.3 -12.05 -33.16 -12.73 -30.84 -13.39C-28.53 -14.05 -26.29 -14.7 -23.54 -15.2C-20.79 -15.7 -18.11 -16.16 -14.35 -16.39C-10.58 -16.63 -5.44 -16.69 -0.95 -16.6C3.54 -16.51 8.69 -16.21 12.61 -15.86C16.53 -15.52 19.5 -15.05 22.59 -14.52C25.68 -13.99 28.59 -13.4 31.16 -12.69C33.72 -11.98 36.16 -11.17 37.98 -10.25C39.79 -9.33 41.18 -8.26 42.05 -7.18C42.92 -6.1 43.09 -4.95 43.21 -3.76C43.32 -2.56 42.93 -1.24 42.75 0Z"/><path d="M42.52 0C42.32 1.22 41.83 2.5 41.15 3.61C40.47 4.71 39.66 5.69 38.45 6.63C37.24 7.57 35.73 8.47 33.89 9.26C32.05 10.04 29.77 10.72 27.4 11.33C25.03 11.94 22.4 12.42 19.65 12.9C16.91 13.39 14.41 13.83 10.92 14.26C7.43 14.69 2.96 15.17 -1.26 15.47C-5.48 15.77 -10.57 16.08 -14.4 16.08C-18.23 16.07 -21.4 15.89 -24.24 15.46C-27.08 15.03 -29.45 14.3 -31.43 13.51C-33.4 12.72 -34.77 11.71 -36.11 10.73C-37.44 9.75 -38.43 8.72 -39.44 7.64C-40.45 6.55 -41.46 5.51 -42.19 4.24C-42.93 2.96 -43.64 1.43 -43.85 0C-44.06 -1.43 -43.94 -3.05 -43.44 -4.37C-42.94 -5.68 -41.97 -6.83 -40.85 -7.92C-39.72 -9.01 -38.3 -10 -36.7 -10.91C-35.1 -11.83 -33.36 -12.7 -31.23 -13.42C-29.1 -14.14 -26.73 -14.81 -23.9 -15.23C-21.07 -15.65 -18.04 -15.89 -14.27 -15.91C-10.5 -15.94 -5.44 -15.68 -1.26 -15.38C2.91 -15.08 7.36 -14.55 10.79 -14.1C14.22 -13.66 16.58 -13.17 19.31 -12.69C22.05 -12.22 24.68 -11.8 27.21 -11.25C29.74 -10.71 32.37 -10.14 34.48 -9.41C36.59 -8.68 38.54 -7.81 39.85 -6.87C41.17 -5.92 41.95 -4.86 42.4 -3.72C42.84 -2.57 42.73 -1.22 42.52 0Z"/><path d="M38.78 0C38.59 1.13 38.26 2.32 37.67 3.34C37.07 4.36 36.33 5.27 35.2 6.14C34.07 7.01 32.6 7.82 30.9 8.55C29.19 9.28 27.11 9.9 24.98 10.5C22.85 11.1 20.58 11.61 18.09 12.13C15.61 12.66 13.36 13.2 10.08 13.65C6.81 14.1 2.43 14.6 -1.58 14.86C-5.59 15.12 -10.46 15.29 -13.99 15.19C-17.52 15.09 -20.26 14.73 -22.75 14.24C-25.24 13.75 -27.17 12.99 -28.93 12.25C-30.7 11.51 -31.98 10.64 -33.33 9.78C-34.68 8.92 -35.91 8.06 -37.06 7.1C-38.2 6.13 -39.42 5.18 -40.23 4C-41.03 2.82 -41.71 1.35 -41.9 0C-42.08 -1.35 -41.85 -2.87 -41.34 -4.12C-40.84 -5.36 -39.91 -6.43 -38.86 -7.46C-37.81 -8.49 -36.55 -9.44 -35.04 -10.3C-33.52 -11.17 -31.86 -11.99 -29.78 -12.63C-27.71 -13.27 -25.31 -13.82 -22.59 -14.13C-19.86 -14.45 -16.94 -14.55 -13.44 -14.52C-9.94 -14.49 -5.41 -14.21 -1.58 -13.95C2.25 -13.7 6.28 -13.33 9.54 -13.01C12.79 -12.69 15.21 -12.4 17.93 -12.03C20.65 -11.67 23.39 -11.34 25.83 -10.84C28.28 -10.33 30.74 -9.73 32.6 -9C34.46 -8.27 35.98 -7.37 37.01 -6.44C38.04 -5.51 38.49 -4.51 38.79 -3.44C39.08 -2.36 38.96 -1.13 38.78 0Z"/><path d="M37.32 0C37.55 1.07 37.27 2.3 36.59 3.28C35.92 4.25 34.61 5.08 33.27 5.87C31.93 6.66 30.23 7.34 28.54 8.01C26.85 8.68 25.09 9.31 23.13 9.89C21.16 10.47 19.13 11.05 16.76 11.5C14.38 11.96 12 12.36 8.89 12.63C5.78 12.89 1.69 13.03 -1.89 13.11C-5.48 13.19 -9.45 13.16 -12.6 13.1C-15.75 13.03 -18.2 12.94 -20.81 12.72C-23.41 12.51 -26.01 12.26 -28.24 11.8C-30.47 11.34 -32.64 10.73 -34.2 9.95C-35.76 9.17 -36.89 8.17 -37.59 7.14C-38.28 6.11 -38.33 4.96 -38.36 3.77C-38.39 2.58 -38.01 1.23 -37.77 0C-37.54 -1.23 -37.3 -2.5 -36.95 -3.63C-36.6 -4.75 -36.35 -5.77 -35.66 -6.75C-34.98 -7.74 -34.13 -8.71 -32.82 -9.53C-31.52 -10.34 -29.8 -11.06 -27.85 -11.62C-25.89 -12.19 -23.58 -12.6 -21.11 -12.93C-18.63 -13.25 -16.21 -13.46 -13.01 -13.59C-9.8 -13.72 -5.61 -13.79 -1.89 -13.71C1.82 -13.62 6.14 -13.44 9.3 -13.1C12.46 -12.77 14.82 -12.25 17.06 -11.69C19.29 -11.13 21.05 -10.41 22.73 -9.74C24.42 -9.06 25.73 -8.35 27.17 -7.65C28.6 -6.95 30.01 -6.3 31.35 -5.55C32.68 -4.8 34.19 -4.08 35.18 -3.16C36.17 -2.23 37.08 -1.07 37.32 0Z"/><path d="M32.45 0C32.51 0.96 32.21 2 31.77 2.89C31.33 3.78 30.64 4.56 29.82 5.35C29 6.14 28.08 6.92 26.84 7.65C25.59 8.38 24.17 9.12 22.35 9.71C20.54 10.3 18.35 10.84 15.94 11.2C13.54 11.56 10.96 11.75 7.93 11.87C4.91 11.99 1.08 11.93 -2.21 11.91C-5.5 11.89 -8.96 11.81 -11.8 11.73C-14.63 11.65 -16.84 11.62 -19.22 11.44C-21.6 11.27 -24 11.09 -26.08 10.69C-28.15 10.29 -30.15 9.75 -31.66 9.07C-33.18 8.39 -34.33 7.51 -35.18 6.6C-36.04 5.68 -36.47 4.68 -36.79 3.58C-37.12 2.48 -37.22 1.19 -37.15 0C-37.08 -1.19 -36.91 -2.48 -36.39 -3.54C-35.88 -4.6 -35.13 -5.53 -34.07 -6.37C-33.01 -7.21 -31.57 -7.94 -30.04 -8.57C-28.51 -9.2 -26.7 -9.69 -24.89 -10.16C-23.07 -10.63 -21.24 -11.02 -19.15 -11.4C-17.06 -11.78 -15.19 -12.17 -12.36 -12.42C-9.54 -12.68 -5.69 -12.93 -2.21 -12.94C1.27 -12.96 5.49 -12.83 8.5 -12.53C11.51 -12.24 13.77 -11.71 15.88 -11.16C17.99 -10.61 19.61 -9.9 21.16 -9.24C22.72 -8.58 23.96 -7.9 25.21 -7.22C26.47 -6.54 27.68 -5.89 28.71 -5.16C29.73 -4.43 30.75 -3.72 31.37 -2.86C31.99 -2 32.38 -0.96 32.45 0Z"/><path d="M30.05 0C30.1 0.91 30.05 1.9 29.64 2.74C29.24 3.58 28.61 4.34 27.62 5.03C26.63 5.73 25.24 6.36 23.71 6.91C22.19 7.46 20.32 7.89 18.5 8.31C16.68 8.73 14.79 9.07 12.79 9.45C10.79 9.83 9.06 10.22 6.51 10.57C3.95 10.92 0.61 11.34 -2.53 11.57C-5.66 11.8 -9.48 11.99 -12.3 11.96C-15.12 11.93 -17.38 11.72 -19.45 11.38C-21.52 11.05 -23.21 10.51 -24.73 9.94C-26.25 9.38 -27.42 8.71 -28.55 8.01C-29.68 7.32 -30.66 6.59 -31.49 5.79C-32.32 4.99 -33.08 4.17 -33.52 3.21C-33.96 2.24 -34.18 1.06 -34.13 0C-34.08 -1.06 -33.69 -2.22 -33.21 -3.18C-32.74 -4.14 -32.04 -4.94 -31.3 -5.76C-30.55 -6.57 -29.78 -7.35 -28.74 -8.07C-27.7 -8.8 -26.6 -9.53 -25.07 -10.1C-23.54 -10.66 -21.71 -11.18 -19.57 -11.47C-17.43 -11.76 -15.05 -11.87 -12.21 -11.85C-9.37 -11.83 -5.63 -11.59 -2.53 -11.36C0.58 -11.12 3.84 -10.77 6.42 -10.47C8.99 -10.16 10.85 -9.86 12.92 -9.53C14.99 -9.19 17.01 -8.87 18.84 -8.45C20.67 -8.02 22.47 -7.53 23.9 -6.96C25.33 -6.39 26.53 -5.71 27.43 -5C28.34 -4.29 28.9 -3.55 29.34 -2.71C29.77 -1.88 30 -0.91 30.05 0Z"/><path d="M26.32 0C26.28 0.81 25.99 1.68 25.5 2.41C25 3.14 24.19 3.75 23.36 4.37C22.53 5 21.54 5.56 20.49 6.14C19.44 6.73 18.39 7.31 17.07 7.87C15.74 8.43 14.33 9.02 12.52 9.48C10.71 9.93 8.77 10.36 6.21 10.59C3.65 10.83 0.09 10.91 -2.84 10.89C-5.77 10.86 -8.99 10.64 -11.36 10.42C-13.73 10.2 -15.3 9.88 -17.07 9.57C-18.84 9.26 -20.42 8.95 -21.98 8.57C-23.54 8.19 -25.11 7.79 -26.43 7.27C-27.76 6.74 -29.01 6.13 -29.92 5.42C-30.84 4.71 -31.48 3.91 -31.91 3.01C-32.35 2.11 -32.48 1.01 -32.52 0C-32.55 -1.01 -32.44 -2.1 -32.12 -3.03C-31.81 -3.96 -31.41 -4.8 -30.65 -5.56C-29.9 -6.33 -28.89 -7.05 -27.59 -7.62C-26.3 -8.19 -24.61 -8.64 -22.87 -8.97C-21.13 -9.3 -19.13 -9.46 -17.14 -9.62C-15.16 -9.78 -13.33 -9.83 -10.95 -9.92C-8.56 -10 -5.63 -10.09 -2.84 -10.13C-0.05 -10.16 3.23 -10.21 5.8 -10.11C8.37 -10.01 10.57 -9.84 12.6 -9.52C14.62 -9.21 16.45 -8.74 17.96 -8.22C19.47 -7.71 20.63 -7.07 21.65 -6.45C22.67 -5.83 23.41 -5.17 24.09 -4.5C24.76 -3.83 25.33 -3.18 25.71 -2.43C26.08 -1.68 26.35 -0.81 26.32 0Z"/><path d="M22.84 0C22.57 0.73 22.2 1.46 21.83 2.13C21.47 2.79 21.17 3.37 20.63 3.97C20.09 4.57 19.51 5.18 18.61 5.73C17.7 6.28 16.55 6.81 15.2 7.26C13.85 7.7 12.23 8.09 10.49 8.42C8.75 8.75 7.02 9.02 4.74 9.25C2.47 9.47 -0.5 9.68 -3.16 9.78C-5.82 9.88 -8.92 9.93 -11.2 9.85C-13.49 9.76 -15.26 9.55 -16.89 9.24C-18.53 8.93 -19.83 8.47 -21.01 7.99C-22.18 7.52 -23.03 6.96 -23.95 6.4C-24.87 5.85 -25.67 5.29 -26.52 4.67C-27.36 4.05 -28.31 3.45 -29.01 2.68C-29.71 1.9 -30.44 0.92 -30.71 0C-30.97 -0.92 -30.97 -2 -30.61 -2.84C-30.24 -3.69 -29.43 -4.42 -28.53 -5.07C-27.62 -5.73 -26.38 -6.28 -25.15 -6.77C-23.92 -7.27 -22.59 -7.69 -21.15 -8.06C-19.71 -8.43 -18.22 -8.75 -16.51 -8.98C-14.8 -9.21 -13.1 -9.38 -10.87 -9.44C-8.65 -9.5 -5.71 -9.44 -3.16 -9.35C-0.61 -9.25 2.2 -9.05 4.41 -8.86C6.62 -8.66 8.29 -8.44 10.11 -8.18C11.93 -7.92 13.72 -7.67 15.34 -7.31C16.96 -6.96 18.6 -6.55 19.81 -6.05C21.03 -5.55 22.04 -4.94 22.64 -4.31C23.24 -3.68 23.4 -2.98 23.43 -2.26C23.46 -1.55 23.1 -0.73 22.84 0Z"/><path d="M21 0C21 0.68 20.86 1.41 20.57 2.05C20.28 2.68 19.9 3.25 19.26 3.8C18.62 4.34 17.77 4.87 16.71 5.31C15.64 5.76 14.28 6.14 12.86 6.46C11.45 6.78 9.84 7 8.23 7.22C6.62 7.44 5.15 7.61 3.19 7.8C1.24 8 -1.17 8.21 -3.47 8.37C-5.78 8.52 -8.5 8.71 -10.62 8.75C-12.75 8.78 -14.56 8.76 -16.22 8.57C-17.88 8.39 -19.36 8.06 -20.57 7.66C-21.79 7.26 -22.7 6.72 -23.51 6.17C-24.32 5.63 -24.9 5.02 -25.44 4.39C-25.98 3.77 -26.44 3.14 -26.75 2.41C-27.07 1.68 -27.31 0.8 -27.31 0C-27.31 -0.8 -27.12 -1.69 -26.75 -2.41C-26.38 -3.13 -25.75 -3.73 -25.09 -4.32C-24.43 -4.91 -23.63 -5.44 -22.77 -5.94C-21.91 -6.45 -21.04 -6.94 -19.93 -7.37C-18.82 -7.8 -17.64 -8.23 -16.13 -8.51C-14.62 -8.8 -13 -9.02 -10.89 -9.08C-8.79 -9.14 -5.87 -9.05 -3.47 -8.89C-1.08 -8.73 1.53 -8.41 3.47 -8.12C5.4 -7.83 6.68 -7.48 8.14 -7.16C9.6 -6.85 10.91 -6.54 12.22 -6.2C13.52 -5.86 14.85 -5.53 15.97 -5.12C17.08 -4.71 18.15 -4.25 18.91 -3.74C19.68 -3.23 20.21 -2.67 20.56 -2.05C20.91 -1.42 20.99 -0.68 21 0Z"/><path d="M18.68 0C18.73 0.62 18.43 1.3 18.02 1.86C17.6 2.41 16.91 2.88 16.21 3.34C15.5 3.8 14.68 4.22 13.78 4.63C12.87 5.03 11.91 5.42 10.78 5.76C9.65 6.1 8.39 6.41 6.99 6.65C5.58 6.89 4.15 7.06 2.35 7.19C0.55 7.32 -1.74 7.37 -3.79 7.42C-5.83 7.48 -8.09 7.5 -9.92 7.5C-11.75 7.49 -13.25 7.5 -14.78 7.4C-16.31 7.29 -17.86 7.15 -19.12 6.87C-20.38 6.59 -21.53 6.19 -22.35 5.71C-23.16 5.24 -23.66 4.64 -24.01 4.04C-24.36 3.45 -24.39 2.81 -24.46 2.14C-24.53 1.47 -24.48 0.71 -24.44 0C-24.4 -0.71 -24.39 -1.46 -24.22 -2.11C-24.04 -2.77 -23.84 -3.36 -23.38 -3.92C-22.92 -4.47 -22.28 -5 -21.46 -5.44C-20.65 -5.89 -19.61 -6.26 -18.49 -6.58C-17.37 -6.91 -16.13 -7.16 -14.75 -7.38C-13.38 -7.59 -12.05 -7.77 -10.22 -7.87C-8.4 -7.97 -5.94 -8.03 -3.79 -7.98C-1.64 -7.92 0.87 -7.77 2.66 -7.54C4.45 -7.32 5.71 -6.97 6.96 -6.63C8.21 -6.29 9.16 -5.88 10.15 -5.51C11.14 -5.14 11.99 -4.77 12.9 -4.39C13.8 -4.01 14.76 -3.66 15.58 -3.23C16.39 -2.81 17.25 -2.37 17.77 -1.84C18.29 -1.3 18.64 -0.62 18.68 0Z"/><path d="M15.6 0C15.75 0.54 15.66 1.16 15.36 1.66C15.06 2.15 14.43 2.58 13.77 2.98C13.11 3.39 12.25 3.74 11.39 4.08C10.53 4.42 9.62 4.74 8.62 5.03C7.61 5.32 6.57 5.61 5.36 5.84C4.15 6.06 2.93 6.26 1.36 6.39C-0.22 6.52 -2.3 6.58 -4.11 6.62C-5.91 6.65 -7.9 6.62 -9.49 6.58C-11.07 6.54 -12.28 6.49 -13.59 6.38C-14.9 6.27 -16.21 6.16 -17.35 5.93C-18.49 5.71 -19.63 5.42 -20.45 5.03C-21.27 4.65 -21.9 4.15 -22.28 3.64C-22.67 3.12 -22.72 2.53 -22.74 1.93C-22.75 1.32 -22.53 0.63 -22.38 0C-22.23 -0.63 -22.05 -1.27 -21.83 -1.83C-21.62 -2.4 -21.46 -2.91 -21.09 -3.4C-20.73 -3.89 -20.3 -4.38 -19.64 -4.79C-18.99 -5.19 -18.14 -5.56 -17.16 -5.85C-16.19 -6.14 -15.03 -6.35 -13.79 -6.52C-12.55 -6.69 -11.33 -6.8 -9.72 -6.87C-8.11 -6.94 -5.99 -6.98 -4.11 -6.95C-2.22 -6.91 -0.02 -6.83 1.59 -6.66C3.2 -6.5 4.42 -6.25 5.56 -5.96C6.7 -5.68 7.59 -5.3 8.43 -4.95C9.27 -4.61 9.9 -4.23 10.59 -3.87C11.28 -3.51 11.93 -3.17 12.58 -2.79C13.22 -2.4 13.95 -2.04 14.46 -1.58C14.96 -1.12 15.45 -0.54 15.6 0Z"/><path d="M12.13 0C12.16 0.46 12.01 0.96 11.79 1.38C11.58 1.8 11.25 2.17 10.84 2.55C10.44 2.92 9.98 3.29 9.35 3.63C8.73 3.96 8 4.3 7.11 4.56C6.22 4.82 5.15 5.04 4.01 5.2C2.87 5.36 1.68 5.43 0.27 5.49C-1.13 5.55 -2.88 5.55 -4.42 5.57C-5.96 5.58 -7.62 5.59 -8.98 5.58C-10.35 5.57 -11.46 5.59 -12.62 5.51C-13.77 5.44 -14.94 5.35 -15.91 5.15C-16.89 4.95 -17.78 4.66 -18.45 4.32C-19.12 3.98 -19.59 3.55 -19.94 3.11C-20.3 2.66 -20.46 2.19 -20.59 1.67C-20.73 1.16 -20.77 0.55 -20.74 0C-20.71 -0.55 -20.63 -1.16 -20.4 -1.65C-20.16 -2.15 -19.81 -2.59 -19.33 -2.98C-18.85 -3.38 -18.2 -3.72 -17.51 -4.03C-16.82 -4.34 -16.03 -4.59 -15.2 -4.83C-14.38 -5.07 -13.55 -5.29 -12.57 -5.48C-11.58 -5.67 -10.67 -5.87 -9.31 -5.99C-7.96 -6.1 -6.07 -6.19 -4.42 -6.17C-2.77 -6.16 -0.79 -6.05 0.6 -5.88C2 -5.71 2.99 -5.44 3.96 -5.17C4.92 -4.9 5.66 -4.58 6.4 -4.28C7.14 -3.98 7.77 -3.68 8.41 -3.38C9.05 -3.07 9.7 -2.78 10.23 -2.45C10.76 -2.11 11.28 -1.77 11.6 -1.36C11.92 -0.96 12.1 -0.46 12.13 0Z"/><path d="M9.24 0C9.26 0.39 9.13 0.81 8.96 1.17C8.78 1.53 8.53 1.84 8.2 2.16C7.86 2.48 7.48 2.8 6.95 3.08C6.42 3.36 5.79 3.64 5.02 3.86C4.26 4.07 3.33 4.25 2.36 4.38C1.39 4.5 0.39 4.56 -0.79 4.62C-1.98 4.67 -3.43 4.67 -4.74 4.69C-6.04 4.72 -7.45 4.74 -8.61 4.74C-9.77 4.74 -10.74 4.76 -11.72 4.7C-12.7 4.64 -13.68 4.54 -14.49 4.37C-15.3 4.19 -16.03 3.94 -16.58 3.65C-17.13 3.36 -17.51 2.99 -17.81 2.61C-18.11 2.24 -18.26 1.85 -18.39 1.41C-18.51 0.98 -18.58 0.47 -18.56 0C-18.54 -0.47 -18.48 -0.98 -18.27 -1.4C-18.06 -1.82 -17.74 -2.19 -17.33 -2.52C-16.91 -2.85 -16.35 -3.14 -15.77 -3.4C-15.19 -3.66 -14.53 -3.87 -13.85 -4.08C-13.16 -4.29 -12.48 -4.49 -11.66 -4.66C-10.83 -4.83 -10.05 -5 -8.9 -5.1C-7.75 -5.19 -6.14 -5.26 -4.74 -5.23C-3.34 -5.21 -1.68 -5.1 -0.5 -4.95C0.67 -4.81 1.49 -4.57 2.3 -4.34C3.11 -4.12 3.74 -3.85 4.38 -3.6C5.02 -3.36 5.58 -3.12 6.14 -2.86C6.7 -2.61 7.26 -2.36 7.71 -2.08C8.17 -1.79 8.59 -1.5 8.84 -1.16C9.1 -0.81 9.22 -0.39 9.24 0Z"/><path d="M5.91 0C5.9 0.31 5.89 0.64 5.79 0.92C5.68 1.21 5.55 1.47 5.29 1.73C5.02 1.98 4.65 2.22 4.22 2.44C3.78 2.66 3.23 2.86 2.65 3.05C2.07 3.23 1.44 3.41 0.72 3.56C0.01 3.72 -0.68 3.88 -1.64 3.99C-2.6 4.1 -3.92 4.21 -5.05 4.24C-6.19 4.27 -7.52 4.24 -8.46 4.17C-9.41 4.1 -10.06 3.96 -10.72 3.81C-11.38 3.67 -11.88 3.47 -12.4 3.29C-12.93 3.11 -13.39 2.92 -13.87 2.72C-14.35 2.51 -14.87 2.31 -15.3 2.05C-15.72 1.79 -16.16 1.52 -16.42 1.18C-16.68 0.84 -16.84 0.39 -16.86 0C-16.87 -0.39 -16.72 -0.83 -16.51 -1.19C-16.3 -1.54 -15.97 -1.83 -15.61 -2.11C-15.26 -2.39 -14.86 -2.65 -14.39 -2.88C-13.92 -3.1 -13.41 -3.31 -12.8 -3.47C-12.2 -3.63 -11.51 -3.76 -10.76 -3.84C-10 -3.92 -9.23 -3.94 -8.28 -3.95C-7.33 -3.96 -6.13 -3.92 -5.05 -3.89C-3.98 -3.87 -2.79 -3.83 -1.82 -3.78C-0.86 -3.73 -0.05 -3.68 0.76 -3.58C1.57 -3.49 2.39 -3.37 3.05 -3.2C3.72 -3.04 4.31 -2.81 4.73 -2.58C5.16 -2.34 5.41 -2.05 5.6 -1.78C5.79 -1.5 5.83 -1.23 5.88 -0.93C5.93 -0.63 5.92 -0.31 5.91 0Z"/><path d="M3.35 0C3.36 0.24 3.33 0.51 3.21 0.73C3.1 0.95 2.89 1.15 2.65 1.34C2.41 1.53 2.11 1.71 1.78 1.88C1.45 2.06 1.11 2.23 0.69 2.39C0.27 2.56 -0.18 2.73 -0.73 2.86C-1.29 2.99 -1.88 3.11 -2.65 3.18C-3.42 3.25 -4.49 3.28 -5.37 3.27C-6.25 3.26 -7.21 3.19 -7.92 3.12C-8.63 3.06 -9.1 2.96 -9.63 2.87C-10.16 2.77 -10.63 2.68 -11.11 2.57C-11.59 2.46 -12.08 2.35 -12.51 2.2C-12.93 2.05 -13.35 1.87 -13.64 1.66C-13.94 1.44 -14.16 1.2 -14.29 0.92C-14.42 0.65 -14.43 0.31 -14.42 0C-14.4 -0.31 -14.31 -0.64 -14.18 -0.91C-14.06 -1.19 -13.9 -1.43 -13.65 -1.66C-13.41 -1.88 -13.12 -2.1 -12.74 -2.27C-12.35 -2.44 -11.88 -2.58 -11.37 -2.69C-10.86 -2.79 -10.28 -2.85 -9.69 -2.91C-9.1 -2.96 -8.55 -2.98 -7.83 -3.01C-7.11 -3.04 -6.22 -3.07 -5.37 -3.08C-4.52 -3.09 -3.52 -3.11 -2.74 -3.08C-1.96 -3.05 -1.29 -2.99 -0.67 -2.9C-0.06 -2.8 0.5 -2.66 0.95 -2.5C1.39 -2.34 1.72 -2.14 2.01 -1.94C2.3 -1.75 2.48 -1.54 2.66 -1.34C2.85 -1.14 3 -0.94 3.11 -0.72C3.22 -0.5 3.33 -0.24 3.35 0Z"/><path d="M0.49 0C0.43 0.17 0.33 0.35 0.25 0.5C0.16 0.66 0.1 0.8 -0.02 0.95C-0.13 1.09 -0.25 1.24 -0.46 1.38C-0.67 1.51 -0.93 1.64 -1.25 1.75C-1.57 1.86 -1.97 1.95 -2.39 2.03C-2.82 2.11 -3.24 2.17 -3.79 2.21C-4.34 2.26 -5.05 2.3 -5.68 2.32C-6.32 2.34 -7.04 2.35 -7.59 2.33C-8.13 2.3 -8.55 2.26 -8.94 2.19C-9.33 2.12 -9.65 2.02 -9.94 1.91C-10.23 1.8 -10.44 1.66 -10.66 1.53C-10.89 1.4 -11.08 1.27 -11.29 1.12C-11.49 0.97 -11.72 0.83 -11.88 0.64C-12.05 0.45 -12.23 0.22 -12.3 0C-12.36 -0.22 -12.36 -0.48 -12.27 -0.68C-12.18 -0.88 -11.98 -1.06 -11.76 -1.21C-11.53 -1.37 -11.21 -1.5 -10.91 -1.61C-10.61 -1.72 -10.28 -1.82 -9.93 -1.9C-9.59 -1.99 -9.24 -2.07 -8.84 -2.12C-8.44 -2.18 -8.05 -2.23 -7.52 -2.25C-7 -2.27 -6.3 -2.27 -5.68 -2.25C-5.07 -2.23 -4.39 -2.19 -3.86 -2.14C-3.32 -2.09 -2.92 -2.03 -2.49 -1.97C-2.06 -1.9 -1.64 -1.84 -1.26 -1.75C-0.88 -1.66 -0.5 -1.56 -0.21 -1.44C0.07 -1.32 0.31 -1.17 0.45 -1.02C0.59 -0.87 0.63 -0.71 0.64 -0.54C0.65 -0.37 0.56 -0.17 0.49 0Z"/><path d="M-1.91 0C-1.88 0.11 -1.89 0.24 -1.95 0.34C-2.02 0.45 -2.15 0.54 -2.3 0.62C-2.45 0.7 -2.66 0.77 -2.85 0.83C-3.04 0.9 -3.24 0.95 -3.45 1.01C-3.66 1.07 -3.86 1.12 -4.09 1.18C-4.33 1.23 -4.55 1.28 -4.87 1.32C-5.19 1.36 -5.62 1.39 -6 1.4C-6.38 1.42 -6.82 1.42 -7.15 1.41C-7.48 1.4 -7.73 1.37 -7.99 1.34C-8.25 1.31 -8.5 1.27 -8.72 1.22C-8.94 1.16 -9.15 1.1 -9.31 1.02C-9.48 0.94 -9.62 0.84 -9.7 0.74C-9.78 0.64 -9.81 0.52 -9.82 0.4C-9.83 0.27 -9.78 0.13 -9.75 0C-9.72 -0.13 -9.67 -0.26 -9.63 -0.38C-9.59 -0.49 -9.56 -0.6 -9.5 -0.7C-9.44 -0.8 -9.38 -0.91 -9.25 -1C-9.13 -1.09 -8.97 -1.18 -8.77 -1.24C-8.57 -1.3 -8.32 -1.35 -8.05 -1.38C-7.78 -1.41 -7.5 -1.41 -7.16 -1.42C-6.82 -1.42 -6.38 -1.41 -6 -1.4C-5.62 -1.38 -5.19 -1.36 -4.86 -1.33C-4.54 -1.3 -4.28 -1.26 -4.04 -1.21C-3.79 -1.16 -3.58 -1.1 -3.39 -1.03C-3.21 -0.96 -3.06 -0.89 -2.91 -0.81C-2.76 -0.74 -2.63 -0.66 -2.5 -0.58C-2.37 -0.5 -2.24 -0.43 -2.14 -0.33C-2.04 -0.23 -1.94 -0.11 -1.91 0Z" fill="#fff" stroke="none"/></g>
<path d="M987.7 913.2 L987.7 1114.8 M853.8 987.2 L1056.2 987.2" stroke="#161616" stroke-width="1.6" fill="none"/>
<text transform="translate(826.28 1114.4) scale(0.9997 1)" font-size="10.3" font-weight="bold" style="fill:#141414;stroke:#141414;stroke-width:0.4px" >10</text>
<text transform="translate(838.35 1107.5) scale(1.1623 1)" font-size="9.6" font-weight="bold" style="fill:#141414;stroke:#141414;stroke-width:0.2px" >0</text>
<text transform="translate(826.28 1083.14) scale(0.9997 1)" font-size="10.3" font-weight="bold" style="fill:#141414;stroke:#141414;stroke-width:0.4px" >10</text>
<text transform="translate(838.12 1076.24) scale(1.1746 1)" font-size="9.6" font-weight="bold" style="fill:#141414;stroke:#141414;stroke-width:0.2px" >1</text>
<text transform="translate(826.28 1046.08) scale(0.9997 1)" font-size="10.3" font-weight="bold" style="fill:#141414;stroke:#141414;stroke-width:0.4px" >10</text>
<text transform="translate(838.41 1039.18) scale(1.1502 1)" font-size="9.6" font-weight="bold" style="fill:#141414;stroke:#141414;stroke-width:0.2px" >2</text>
<text transform="translate(826.28 1009.02) scale(0.9997 1)" font-size="10.3" font-weight="bold" style="fill:#141414;stroke:#141414;stroke-width:0.4px" >10</text>
<text transform="translate(838.53 1002.12) scale(1.1153 1)" font-size="9.6" font-weight="bold" style="fill:#141414;stroke:#141414;stroke-width:0.2px" >3</text>
<text transform="translate(826.28 971.96) scale(0.9997 1)" font-size="10.3" font-weight="bold" style="fill:#141414;stroke:#141414;stroke-width:0.4px" >10</text>
<text transform="translate(838.65 965.06) scale(1.0319 1)" font-size="9.6" font-weight="bold" style="fill:#141414;stroke:#141414;stroke-width:0.2px" >4</text>
<text transform="translate(826.28 934.9) scale(0.9997 1)" font-size="10.3" font-weight="bold" style="fill:#141414;stroke:#141414;stroke-width:0.4px" >10</text>
<text transform="translate(838.48 928) scale(1.1042 1)" font-size="9.6" font-weight="bold" style="fill:#141414;stroke:#141414;stroke-width:0.2px" >5</text>
<text transform="translate(857.48 1141.2) scale(0.9997 1)" font-size="10.3" font-weight="bold" style="fill:#141414;stroke:#141414;stroke-width:0.4px" >10</text>
<text transform="translate(869.55 1134.3) scale(1.1623 1)" font-size="9.6" font-weight="bold" style="fill:#141414;stroke:#141414;stroke-width:0.2px" >0</text>
<text transform="translate(884.98 1141.2) scale(0.9997 1)" font-size="10.3" font-weight="bold" style="fill:#141414;stroke:#141414;stroke-width:0.4px" >10</text>
<text transform="translate(896.82 1134.3) scale(1.1746 1)" font-size="9.6" font-weight="bold" style="fill:#141414;stroke:#141414;stroke-width:0.2px" >1</text>
<text transform="translate(922.28 1141.2) scale(0.9997 1)" font-size="10.3" font-weight="bold" style="fill:#141414;stroke:#141414;stroke-width:0.4px" >10</text>
<text transform="translate(934.41 1134.3) scale(1.1502 1)" font-size="9.6" font-weight="bold" style="fill:#141414;stroke:#141414;stroke-width:0.2px" >2</text>
<text transform="translate(959.38 1141.2) scale(0.9997 1)" font-size="10.3" font-weight="bold" style="fill:#141414;stroke:#141414;stroke-width:0.4px" >10</text>
<text transform="translate(971.63 1134.3) scale(1.1153 1)" font-size="9.6" font-weight="bold" style="fill:#141414;stroke:#141414;stroke-width:0.2px" >3</text>
<text transform="translate(996.68 1141.2) scale(0.9997 1)" font-size="10.3" font-weight="bold" style="fill:#141414;stroke:#141414;stroke-width:0.4px" >10</text>
<text transform="translate(1009.05 1134.3) scale(1.0319 1)" font-size="9.6" font-weight="bold" style="fill:#141414;stroke:#141414;stroke-width:0.2px" >4</text>
<text transform="translate(1033.98 1141.2) scale(0.9997 1)" font-size="10.3" font-weight="bold" style="fill:#141414;stroke:#141414;stroke-width:0.4px" >10</text>
<text transform="translate(1046.18 1134.3) scale(1.1042 1)" font-size="9.6" font-weight="bold" style="fill:#141414;stroke:#141414;stroke-width:0.2px" >5</text>
<path d="M847.4 1114.1 L853.8 1114.1 M847.4 1077.04 L853.8 1077.04 M847.4 1039.98 L853.8 1039.98 M847.4 1002.92 L853.8 1002.92 M847.4 965.86 L853.8 965.86 M847.4 928.8 L853.8 928.8 M854.2 1114.8 L854.2 1121 M890.2 1114.8 L890.2 1121 M927.5 1114.8 L927.5 1121 M964.6 1114.8 L964.6 1121 M1001.9 1114.8 L1001.9 1121 M1039.2 1114.8 L1039.2 1121" stroke="#2a2a2a" stroke-width="1.3" fill="none"/>
<path d="M850.5 1102.94 L853.8 1102.94 M850.5 1096.42 L853.8 1096.42 M850.5 1091.79 L853.8 1091.79 M850.5 1088.2 L853.8 1088.2 M850.5 1085.26 L853.8 1085.26 M850.5 1082.78 L853.8 1082.78 M850.5 1080.63 L853.8 1080.63 M850.5 1078.74 L853.8 1078.74 M850.5 1065.88 L853.8 1065.88 M850.5 1059.36 L853.8 1059.36 M850.5 1054.73 L853.8 1054.73 M850.5 1051.14 L853.8 1051.14 M850.5 1048.2 L853.8 1048.2 M850.5 1045.72 L853.8 1045.72 M850.5 1043.57 L853.8 1043.57 M850.5 1041.68 L853.8 1041.68 M850.5 1028.82 L853.8 1028.82 M850.5 1022.3 L853.8 1022.3 M850.5 1017.67 L853.8 1017.67 M850.5 1014.08 L853.8 1014.08 M850.5 1011.14 L853.8 1011.14 M850.5 1008.66 L853.8 1008.66 M850.5 1006.51 L853.8 1006.51 M850.5 1004.62 L853.8 1004.62 M850.5 991.76 L853.8 991.76 M850.5 985.24 L853.8 985.24 M850.5 980.61 L853.8 980.61 M850.5 977.02 L853.8 977.02 M850.5 974.08 L853.8 974.08 M850.5 971.6 L853.8 971.6 M850.5 969.45 L853.8 969.45 M850.5 967.56 L853.8 967.56 M850.5 954.7 L853.8 954.7 M850.5 948.18 L853.8 948.18 M850.5 943.55 L853.8 943.55 M850.5 939.96 L853.8 939.96 M850.5 937.02 L853.8 937.02 M850.5 934.54 L853.8 934.54 M850.5 932.39 L853.8 932.39 M850.5 930.5 L853.8 930.5 M850.5 917.64 L853.8 917.64 M865.04 1114.8 L865.04 1118 M871.38 1114.8 L871.38 1118 M875.87 1114.8 L875.87 1118 M879.36 1114.8 L879.36 1118 M882.21 1114.8 L882.21 1118 M884.62 1114.8 L884.62 1118 M886.71 1114.8 L886.71 1118 M888.55 1114.8 L888.55 1118 M901.43 1114.8 L901.43 1118 M908 1114.8 L908 1118 M912.66 1114.8 L912.66 1118 M916.27 1114.8 L916.27 1118 M919.23 1114.8 L919.23 1118 M921.72 1114.8 L921.72 1118 M923.89 1114.8 L923.89 1118 M925.79 1114.8 L925.79 1118 M938.67 1114.8 L938.67 1118 M945.2 1114.8 L945.2 1118 M949.84 1114.8 L949.84 1118 M953.43 1114.8 L953.43 1118 M956.37 1114.8 L956.37 1118 M958.85 1114.8 L958.85 1118 M961 1114.8 L961 1118 M962.9 1114.8 L962.9 1118 M975.83 1114.8 L975.83 1118 M982.4 1114.8 L982.4 1118 M987.06 1114.8 L987.06 1118 M990.67 1114.8 L990.67 1118 M993.63 1114.8 L993.63 1118 M996.12 1114.8 L996.12 1118 M998.29 1114.8 L998.29 1118 M1000.19 1114.8 L1000.19 1118 M1013.13 1114.8 L1013.13 1118 M1019.7 1114.8 L1019.7 1118 M1024.36 1114.8 L1024.36 1118 M1027.97 1114.8 L1027.97 1118 M1030.93 1114.8 L1030.93 1118 M1033.42 1114.8 L1033.42 1118 M1035.59 1114.8 L1035.59 1118 M1037.49 1114.8 L1037.49 1118 M1050.37 1114.8 L1050.37 1118" stroke="#2a2a2a" stroke-width="0.8" fill="none"/>
<text transform="translate(857.48 933.9) scale(1.1000 1)" font-size="12.6" style="fill:#1c1c1c;stroke:#1c1c1c;stroke-width:0.3px" >Q1</text>
<text transform="translate(857.55 951.2) scale(1.1000 1)" font-size="12.6" style="fill:#1c1c1c;stroke:#1c1c1c;stroke-width:0.3px" >0.46</text>
<text transform="translate(1019.99 933.9) scale(1.1000 1)" font-size="12.6" style="fill:#1c1c1c;stroke:#1c1c1c;stroke-width:0.3px" >Q2</text>
<text transform="translate(1011.4 951.2) scale(1.1000 1)" font-size="12.6" style="fill:#1c1c1c;stroke:#1c1c1c;stroke-width:0.3px" >7.96</text>
<text transform="translate(857.48 1084.7) scale(1.1000 1)" font-size="12.6" style="fill:#1c1c1c;stroke:#1c1c1c;stroke-width:0.3px" >Q4</text>
<text transform="translate(857.48 1102.1) scale(1.1000 1)" font-size="12.6" style="fill:#1c1c1c;stroke:#1c1c1c;stroke-width:0.3px" >81.8</text>
<text transform="translate(1019.85 1084.7) scale(1.1000 1)" font-size="12.6" style="fill:#1c1c1c;stroke:#1c1c1c;stroke-width:0.3px" >Q3</text>
<text transform="translate(1011.33 1102.1) scale(1.1000 1)" font-size="12.6" style="fill:#1c1c1c;stroke:#1c1c1c;stroke-width:0.3px" >9.80</text>
</g>
<g>
<text transform="translate(1165.59 892.1) scale(1.0208 1)" font-size="22.2" >PDONγ</text>
<rect x="1104.4" y="912.8" width="202.4" height="201.6" fill="#fff" stroke="#2a2a2a" stroke-width="1.3"/>
<g fill="none" stroke="#ec7480" stroke-width="0.6" opacity="0.85" transform="translate(1239.5 998.8) rotate(-35)"><path d="M46.71 0C47.33 1.96 47.89 4.22 47.63 6.11C47.38 8 46.53 9.75 45.18 11.32C43.82 12.88 41.69 14.27 39.48 15.5C37.28 16.72 34.61 17.71 31.94 18.65C29.26 19.59 26.48 20.41 23.42 21.12C20.35 21.83 17.45 22.5 13.55 22.93C9.65 23.36 4.49 23.65 0 23.68C-4.49 23.72 -9.55 23.49 -13.38 23.15C-17.21 22.82 -19.98 22.26 -23 21.67C-26.03 21.07 -28.79 20.42 -31.52 19.59C-34.24 18.76 -37.03 17.89 -39.34 16.7C-41.66 15.51 -43.94 14.1 -45.41 12.45C-46.87 10.8 -47.81 8.88 -48.13 6.81C-48.44 4.73 -47.91 2.18 -47.29 0C-46.67 -2.18 -45.46 -4.4 -44.43 -6.28C-43.4 -8.16 -42.3 -9.68 -41.12 -11.27C-39.94 -12.87 -38.88 -14.42 -37.34 -15.85C-35.8 -17.27 -34.1 -18.69 -31.87 -19.81C-29.65 -20.94 -26.98 -21.89 -23.98 -22.59C-20.98 -23.29 -17.86 -23.7 -13.86 -23.99C-9.87 -24.28 -4.65 -24.36 -0 -24.32C4.65 -24.28 9.97 -24.13 14.03 -23.75C18.1 -23.36 21.35 -22.82 24.4 -22C27.44 -21.19 30.11 -20.07 32.29 -18.86C34.47 -17.64 36.05 -16.14 37.48 -14.71C38.91 -13.27 39.81 -11.76 40.89 -10.24C41.97 -8.73 42.97 -7.34 43.94 -5.64C44.91 -3.93 46.09 -1.96 46.71 0Z" fill="#ec7480" fill-opacity="0.16"/><path d="M42.63 0C42.75 1.8 42.56 3.79 42 5.45C41.44 7.12 40.42 8.55 39.27 9.97C38.12 11.39 36.68 12.7 35.09 13.98C33.5 15.26 31.82 16.53 29.73 17.67C27.63 18.8 25.34 19.97 22.53 20.8C19.72 21.63 16.7 22.32 12.86 22.65C9.01 22.97 3.77 22.94 -0.53 22.75C-4.83 22.56 -9.46 22 -12.95 21.49C-16.44 20.99 -18.77 20.34 -21.47 19.73C-24.17 19.11 -26.67 18.54 -29.14 17.79C-31.61 17.03 -34.18 16.26 -36.29 15.18C-38.41 14.1 -40.42 12.81 -41.83 11.32C-43.24 9.84 -44.18 8.14 -44.74 6.25C-45.3 4.36 -45.32 2.07 -45.2 0C-45.08 -2.07 -44.66 -4.28 -44.02 -6.15C-43.38 -8.02 -42.58 -9.66 -41.36 -11.19C-40.13 -12.73 -38.59 -14.17 -36.68 -15.34C-34.77 -16.52 -32.38 -17.48 -29.89 -18.25C-27.4 -19.03 -24.61 -19.51 -21.75 -20C-18.9 -20.48 -16.29 -20.81 -12.76 -21.16C-9.22 -21.51 -4.76 -21.9 -0.53 -22.09C3.71 -22.29 8.78 -22.5 12.67 -22.33C16.56 -22.15 19.85 -21.76 22.82 -21.05C25.78 -20.35 28.37 -19.26 30.48 -18.11C32.59 -16.95 34.1 -15.51 35.48 -14.13C36.87 -12.76 37.83 -11.31 38.79 -9.85C39.76 -8.39 40.64 -7 41.28 -5.36C41.92 -3.72 42.51 -1.8 42.63 0Z"/><path d="M40.15 0C40.69 1.72 41.17 3.73 40.91 5.38C40.66 7.04 39.86 8.58 38.63 9.94C37.4 11.31 35.48 12.51 33.52 13.57C31.56 14.63 29.21 15.49 26.86 16.3C24.51 17.11 22.08 17.83 19.41 18.45C16.73 19.08 14.21 19.68 10.8 20.06C7.39 20.45 2.88 20.72 -1.05 20.76C-4.99 20.81 -9.44 20.63 -12.81 20.35C-16.19 20.07 -18.65 19.6 -21.32 19.09C-23.99 18.57 -26.44 18 -28.83 17.27C-31.23 16.54 -33.67 15.75 -35.68 14.7C-37.69 13.64 -39.65 12.38 -40.89 10.92C-42.14 9.47 -42.9 7.77 -43.14 5.95C-43.38 4.13 -42.87 1.91 -42.33 0C-41.78 -1.91 -40.74 -3.84 -39.86 -5.49C-38.99 -7.13 -38.08 -8.47 -37.08 -9.88C-36.09 -11.29 -35.21 -12.67 -33.88 -13.93C-32.55 -15.19 -31.08 -16.46 -29.13 -17.45C-27.18 -18.45 -24.83 -19.29 -22.18 -19.9C-19.53 -20.51 -16.77 -20.87 -13.25 -21.11C-9.73 -21.35 -5.13 -21.4 -1.05 -21.35C3.03 -21.3 7.69 -21.16 11.24 -20.8C14.79 -20.45 17.62 -19.96 20.27 -19.23C22.92 -18.51 25.24 -17.53 27.15 -16.47C29.06 -15.41 30.44 -14.11 31.72 -12.86C33 -11.61 33.83 -10.3 34.82 -8.99C35.81 -7.67 36.75 -6.46 37.64 -4.96C38.53 -3.46 39.6 -1.72 40.15 0Z"/><path d="M35.45 0C35.55 1.58 35.7 3.25 35.59 4.77C35.49 6.29 35.45 7.73 34.81 9.12C34.17 10.5 33.24 11.93 31.75 13.08C30.26 14.23 28.16 15.26 25.89 16.04C23.61 16.82 20.85 17.32 18.1 17.75C15.35 18.18 12.7 18.38 9.42 18.61C6.14 18.83 2.09 19 -1.58 19.09C-5.25 19.17 -9.4 19.25 -12.62 19.11C-15.85 18.97 -18.41 18.7 -20.92 18.22C-23.43 17.74 -25.66 17.03 -27.68 16.22C-29.71 15.42 -31.43 14.43 -33.07 13.37C-34.71 12.3 -36.22 11.15 -37.51 9.85C-38.8 8.55 -40.07 7.19 -40.81 5.55C-41.55 3.91 -42.05 1.83 -41.95 0C-41.85 -1.83 -41.16 -3.88 -40.21 -5.46C-39.26 -7.05 -37.69 -8.3 -36.24 -9.5C-34.79 -10.71 -33.1 -11.69 -31.5 -12.7C-29.9 -13.71 -28.41 -14.66 -26.65 -15.58C-24.89 -16.51 -23.18 -17.48 -20.93 -18.23C-18.68 -18.97 -16.38 -19.67 -13.16 -20.03C-9.93 -20.4 -5.43 -20.52 -1.58 -20.44C2.27 -20.35 6.67 -19.96 9.95 -19.51C13.23 -19.06 15.62 -18.43 18.11 -17.75C20.59 -17.08 22.85 -16.32 24.86 -15.44C26.87 -14.56 28.73 -13.57 30.18 -12.46C31.63 -11.36 32.74 -10.1 33.55 -8.8C34.35 -7.5 34.68 -6.16 35 -4.69C35.31 -3.22 35.35 -1.58 35.45 0Z"/><path d="M33.14 0C33.53 1.49 33.94 3.17 33.79 4.6C33.63 6.04 33.13 7.38 32.22 8.6C31.31 9.82 29.88 10.94 28.31 11.94C26.75 12.93 24.83 13.78 22.84 14.57C20.84 15.35 18.71 16.05 16.33 16.63C13.95 17.21 11.63 17.74 8.56 18.05C5.49 18.36 1.39 18.53 -2.11 18.49C-5.6 18.46 -9.5 18.18 -12.41 17.84C-15.32 17.5 -17.33 16.96 -19.57 16.45C-21.8 15.93 -23.79 15.39 -25.83 14.75C-27.87 14.11 -29.98 13.48 -31.82 12.61C-33.65 11.74 -35.55 10.74 -36.83 9.52C-38.12 8.3 -39.1 6.88 -39.52 5.29C-39.94 3.7 -39.73 1.71 -39.35 0C-38.96 -1.71 -38.05 -3.49 -37.21 -4.96C-36.38 -6.44 -35.38 -7.62 -34.33 -8.83C-33.28 -10.05 -32.26 -11.19 -30.93 -12.23C-29.6 -13.27 -28.16 -14.28 -26.37 -15.08C-24.59 -15.89 -22.52 -16.56 -20.22 -17.07C-17.92 -17.57 -15.6 -17.88 -12.58 -18.13C-9.56 -18.37 -5.66 -18.49 -2.11 -18.52C1.45 -18.56 5.55 -18.55 8.73 -18.34C11.91 -18.12 14.55 -17.8 16.99 -17.22C19.43 -16.64 21.64 -15.82 23.38 -14.88C25.12 -13.94 26.37 -12.74 27.43 -11.59C28.49 -10.44 29.04 -9.19 29.72 -7.97C30.39 -6.76 30.91 -5.64 31.48 -4.31C32.05 -2.98 32.76 -1.49 33.14 0Z"/><path d="M33.01 0C32.92 1.47 32.22 3.08 31.41 4.37C30.6 5.65 29.34 6.68 28.14 7.71C26.95 8.74 25.65 9.65 24.26 10.55C22.87 11.45 21.48 12.33 19.8 13.1C18.13 13.87 16.32 14.62 14.21 15.19C12.09 15.75 9.93 16.19 7.12 16.5C4.31 16.82 0.64 16.96 -2.63 17.06C-5.9 17.15 -9.58 17.16 -12.5 17.07C-15.42 16.98 -17.79 16.86 -20.15 16.51C-22.52 16.15 -24.84 15.68 -26.7 14.96C-28.56 14.24 -30.17 13.25 -31.33 12.18C-32.48 11.1 -33.11 9.78 -33.62 8.5C-34.12 7.21 -34.16 5.9 -34.34 4.48C-34.52 3.07 -34.6 1.51 -34.7 0C-34.79 -1.51 -35.02 -3.13 -34.91 -4.56C-34.79 -6 -34.65 -7.35 -34.01 -8.6C-33.38 -9.86 -32.39 -11.07 -31.08 -12.07C-29.77 -13.07 -28.01 -13.92 -26.16 -14.62C-24.3 -15.33 -22.19 -15.86 -19.94 -16.3C-17.68 -16.75 -15.51 -17.09 -12.63 -17.29C-9.74 -17.5 -5.94 -17.61 -2.63 -17.52C0.68 -17.42 4.48 -17.15 7.25 -16.72C10.02 -16.3 11.99 -15.65 13.99 -14.99C15.99 -14.33 17.6 -13.54 19.27 -12.79C20.94 -12.03 22.46 -11.29 24.01 -10.46C25.56 -9.63 27.22 -8.81 28.54 -7.81C29.87 -6.81 31.23 -5.74 31.97 -4.44C32.71 -3.14 33.1 -1.47 33.01 0Z"/><path d="M27.94 0C27.84 1.3 27.39 2.68 26.88 3.85C26.36 5.02 25.6 5.99 24.83 7.01C24.06 8.03 23.27 9.01 22.26 9.98C21.26 10.94 20.23 11.96 18.78 12.81C17.34 13.67 15.64 14.53 13.58 15.1C11.53 15.67 9.24 16.07 6.45 16.25C3.66 16.43 -0.08 16.32 -3.16 16.17C-6.24 16.02 -9.5 15.67 -12.03 15.36C-14.56 15.05 -16.35 14.7 -18.34 14.3C-20.33 13.9 -22.24 13.52 -23.99 12.95C-25.75 12.39 -27.47 11.73 -28.86 10.91C-30.25 10.08 -31.42 9.08 -32.33 8C-33.23 6.91 -33.81 5.73 -34.27 4.4C-34.73 3.07 -34.99 1.48 -35.08 0C-35.18 -1.48 -35.19 -3.12 -34.85 -4.48C-34.5 -5.85 -33.96 -7.09 -33.02 -8.19C-32.09 -9.29 -30.74 -10.27 -29.24 -11.07C-27.74 -11.86 -25.84 -12.44 -24 -12.95C-22.16 -13.47 -20.21 -13.79 -18.2 -14.16C-16.19 -14.54 -14.44 -14.88 -11.93 -15.19C-9.43 -15.49 -6.2 -15.86 -3.16 -16.01C-0.11 -16.16 3.58 -16.26 6.35 -16.08C9.11 -15.91 11.37 -15.51 13.44 -14.97C15.51 -14.42 17.25 -13.62 18.79 -12.82C20.32 -12.01 21.52 -11.06 22.64 -10.13C23.77 -9.19 24.73 -8.22 25.53 -7.19C26.33 -6.15 27.05 -5.12 27.45 -3.93C27.85 -2.73 28.03 -1.3 27.94 0Z"/><path d="M27.15 0C27.15 1.27 26.67 2.69 25.98 3.8C25.28 4.92 24.09 5.81 22.97 6.68C21.85 7.54 20.53 8.27 19.26 9C17.99 9.74 16.76 10.44 15.35 11.11C13.93 11.79 12.52 12.48 10.76 13.03C9.01 13.58 7.25 14.09 4.84 14.42C2.43 14.75 -0.84 14.93 -3.68 15C-6.53 15.07 -9.76 14.98 -12.26 14.83C-14.75 14.68 -16.67 14.46 -18.66 14.1C-20.64 13.75 -22.53 13.33 -24.14 12.72C-25.76 12.11 -27.24 11.34 -28.32 10.46C-29.4 9.57 -30.13 8.48 -30.62 7.38C-31.11 6.29 -31.16 5.13 -31.27 3.9C-31.38 2.67 -31.27 1.3 -31.26 0C-31.26 -1.3 -31.33 -2.66 -31.23 -3.89C-31.13 -5.13 -31.11 -6.29 -30.65 -7.39C-30.19 -8.5 -29.53 -9.62 -28.47 -10.52C-27.42 -11.42 -25.94 -12.21 -24.3 -12.82C-22.67 -13.42 -20.71 -13.81 -18.69 -14.13C-16.67 -14.45 -14.7 -14.62 -12.2 -14.73C-9.7 -14.85 -6.51 -14.9 -3.68 -14.83C-0.85 -14.76 2.36 -14.61 4.78 -14.32C7.19 -14.03 9.01 -13.58 10.8 -13.06C12.59 -12.54 14.07 -11.87 15.51 -11.21C16.94 -10.54 18.17 -9.82 19.42 -9.07C20.67 -8.31 21.92 -7.56 23 -6.69C24.09 -5.81 25.25 -4.91 25.94 -3.8C26.63 -2.68 27.14 -1.27 27.15 0Z"/><path d="M21.58 0C21.82 1.1 22.17 2.31 22.14 3.38C22.11 4.45 21.97 5.48 21.41 6.42C20.84 7.36 19.9 8.26 18.74 9.01C17.59 9.76 16.05 10.38 14.49 10.92C12.93 11.46 11.2 11.88 9.38 12.26C7.57 12.64 5.85 12.97 3.59 13.2C1.32 13.43 -1.62 13.62 -4.21 13.66C-6.8 13.69 -9.76 13.6 -11.95 13.4C-14.15 13.19 -15.74 12.82 -17.4 12.42C-19.05 12.02 -20.46 11.52 -21.89 10.99C-23.33 10.46 -24.71 9.92 -26 9.25C-27.3 8.58 -28.66 7.87 -29.67 6.98C-30.67 6.09 -31.6 5.1 -32.03 3.93C-32.47 2.77 -32.52 1.28 -32.28 0C-32.04 -1.28 -31.32 -2.64 -30.61 -3.73C-29.91 -4.82 -28.93 -5.67 -28.04 -6.53C-27.15 -7.4 -26.27 -8.18 -25.28 -8.94C-24.28 -9.7 -23.32 -10.46 -22.07 -11.1C-20.82 -11.74 -19.44 -12.35 -17.78 -12.78C-16.12 -13.21 -14.38 -13.51 -12.12 -13.69C-9.86 -13.87 -6.86 -13.89 -4.21 -13.85C-1.56 -13.82 1.43 -13.69 3.76 -13.48C6.09 -13.27 7.95 -13.01 9.76 -12.6C11.58 -12.2 13.3 -11.67 14.67 -11.03C16.05 -10.38 17.17 -9.56 18.02 -8.72C18.87 -7.89 19.33 -6.93 19.78 -6.01C20.23 -5.09 20.42 -4.2 20.72 -3.2C21.02 -2.2 21.35 -1.1 21.58 0Z"/><path d="M19.64 0C19.71 1.02 19.57 2.14 19.26 3.08C18.94 4.02 18.38 4.82 17.76 5.64C17.13 6.45 16.38 7.21 15.5 7.94C14.61 8.68 13.67 9.42 12.47 10.05C11.26 10.68 9.89 11.3 8.26 11.73C6.64 12.15 4.87 12.46 2.7 12.59C0.53 12.72 -2.35 12.64 -4.74 12.52C-7.12 12.41 -9.64 12.12 -11.61 11.89C-13.57 11.65 -14.94 11.39 -16.52 11.1C-18.1 10.81 -19.64 10.56 -21.09 10.16C-22.53 9.76 -24.02 9.31 -25.2 8.68C-26.38 8.06 -27.42 7.28 -28.15 6.42C-28.88 5.56 -29.3 4.58 -29.56 3.51C-29.83 2.44 -29.82 1.16 -29.74 0C-29.66 -1.16 -29.46 -2.4 -29.1 -3.45C-28.74 -4.49 -28.28 -5.41 -27.58 -6.26C-26.87 -7.11 -25.95 -7.89 -24.86 -8.54C-23.77 -9.19 -22.42 -9.7 -21.05 -10.14C-19.68 -10.58 -18.19 -10.89 -16.63 -11.21C-15.08 -11.52 -13.68 -11.8 -11.7 -12.05C-9.72 -12.3 -7.15 -12.58 -4.74 -12.69C-2.32 -12.81 0.61 -12.89 2.79 -12.75C4.98 -12.6 6.77 -12.28 8.38 -11.83C9.98 -11.37 11.3 -10.7 12.43 -10.03C13.56 -9.36 14.36 -8.56 15.16 -7.81C15.95 -7.05 16.57 -6.29 17.18 -5.49C17.79 -4.69 18.39 -3.93 18.8 -3.02C19.21 -2.1 19.56 -1.02 19.64 0Z"/><path d="M16.81 0C16.82 0.93 16.67 1.92 16.47 2.79C16.26 3.66 16.03 4.44 15.6 5.23C15.16 6.01 14.67 6.82 13.85 7.5C13.04 8.19 11.99 8.85 10.73 9.34C9.47 9.83 7.9 10.18 6.3 10.43C4.7 10.68 3.05 10.74 1.13 10.82C-0.8 10.89 -3.15 10.87 -5.26 10.88C-7.37 10.88 -9.67 10.91 -11.54 10.86C-13.41 10.81 -14.95 10.78 -16.5 10.58C-18.04 10.38 -19.55 10.1 -20.81 9.66C-22.07 9.23 -23.17 8.63 -24.07 7.98C-24.98 7.33 -25.65 6.55 -26.23 5.75C-26.82 4.94 -27.26 4.11 -27.57 3.15C-27.89 2.2 -28.13 1.05 -28.13 0C-28.12 -1.05 -27.96 -2.22 -27.55 -3.15C-27.14 -4.08 -26.44 -4.87 -25.66 -5.59C-24.88 -6.31 -23.85 -6.9 -22.87 -7.47C-21.89 -8.04 -20.86 -8.52 -19.77 -9.02C-18.69 -9.52 -17.66 -10.02 -16.36 -10.45C-15.06 -10.89 -13.83 -11.35 -11.98 -11.62C-10.13 -11.89 -7.52 -12.08 -5.26 -12.07C-3.01 -12.06 -0.34 -11.85 1.57 -11.56C3.47 -11.26 4.81 -10.77 6.16 -10.3C7.52 -9.83 8.62 -9.28 9.7 -8.74C10.78 -8.19 11.77 -7.64 12.65 -7.03C13.54 -6.42 14.39 -5.79 15.02 -5.08C15.65 -4.37 16.14 -3.63 16.44 -2.78C16.74 -1.94 16.81 -0.93 16.81 0Z"/><path d="M15.31 0C15.2 0.87 14.78 1.81 14.35 2.58C13.91 3.35 13.31 3.99 12.68 4.63C12.05 5.27 11.38 5.87 10.57 6.42C9.76 6.97 8.87 7.51 7.82 7.95C6.77 8.39 5.56 8.76 4.25 9.06C2.94 9.35 1.63 9.55 -0.05 9.72C-1.72 9.9 -3.84 10.01 -5.79 10.1C-7.74 10.19 -9.95 10.29 -11.73 10.28C-13.5 10.26 -15 10.23 -16.43 10.02C-17.86 9.81 -19.23 9.48 -20.3 9.02C-21.36 8.55 -22.2 7.9 -22.84 7.23C-23.47 6.57 -23.79 5.78 -24.11 5.02C-24.42 4.26 -24.56 3.52 -24.74 2.68C-24.93 1.84 -25.14 0.91 -25.24 0C-25.34 -0.91 -25.48 -1.91 -25.36 -2.77C-25.25 -3.62 -25.01 -4.42 -24.54 -5.14C-24.08 -5.87 -23.37 -6.53 -22.57 -7.12C-21.76 -7.7 -20.77 -8.2 -19.7 -8.65C-18.64 -9.1 -17.5 -9.49 -16.19 -9.8C-14.89 -10.11 -13.6 -10.39 -11.87 -10.52C-10.14 -10.66 -7.78 -10.7 -5.79 -10.6C-3.8 -10.51 -1.54 -10.25 0.1 -9.96C1.73 -9.67 2.83 -9.24 4.01 -8.84C5.2 -8.45 6.18 -8.02 7.23 -7.6C8.28 -7.18 9.32 -6.79 10.3 -6.31C11.28 -5.84 12.34 -5.35 13.12 -4.74C13.89 -4.13 14.6 -3.45 14.97 -2.66C15.33 -1.87 15.41 -0.87 15.31 0Z"/><path d="M12.27 0C12.25 0.77 12.05 1.63 11.67 2.31C11.3 2.99 10.65 3.55 10 4.09C9.35 4.62 8.52 5.06 7.75 5.52C6.98 5.98 6.21 6.39 5.37 6.82C4.52 7.26 3.73 7.72 2.69 8.12C1.65 8.52 0.62 8.94 -0.88 9.2C-2.38 9.46 -4.5 9.65 -6.32 9.69C-8.13 9.73 -10.24 9.62 -11.77 9.44C-13.3 9.26 -14.37 8.95 -15.48 8.63C-16.59 8.31 -17.53 7.94 -18.43 7.53C-19.33 7.12 -20.17 6.69 -20.89 6.18C-21.6 5.68 -22.25 5.12 -22.71 4.5C-23.18 3.87 -23.48 3.21 -23.68 2.46C-23.89 1.71 -23.91 0.82 -23.92 0C-23.94 -0.82 -23.89 -1.7 -23.77 -2.47C-23.65 -3.24 -23.55 -3.95 -23.23 -4.64C-22.9 -5.32 -22.5 -6.02 -21.83 -6.58C-21.15 -7.14 -20.24 -7.65 -19.2 -8.01C-18.15 -8.36 -16.86 -8.57 -15.56 -8.71C-14.27 -8.85 -12.97 -8.84 -11.43 -8.85C-9.89 -8.87 -8.02 -8.82 -6.32 -8.79C-4.61 -8.75 -2.73 -8.73 -1.22 -8.63C0.3 -8.53 1.55 -8.42 2.77 -8.2C4 -7.97 5.15 -7.66 6.14 -7.27C7.12 -6.89 7.96 -6.4 8.69 -5.89C9.42 -5.38 10 -4.81 10.51 -4.22C11.02 -3.62 11.47 -3.02 11.76 -2.32C12.05 -1.62 12.28 -0.77 12.27 0Z"/><path d="M9.13 0C8.97 0.66 8.56 1.35 8.21 1.93C7.85 2.51 7.4 2.96 6.98 3.46C6.57 3.96 6.2 4.44 5.72 4.93C5.23 5.41 4.76 5.93 4.06 6.37C3.36 6.8 2.54 7.24 1.53 7.55C0.52 7.85 -0.6 8.08 -2 8.2C-3.39 8.32 -5.26 8.32 -6.84 8.29C-8.42 8.26 -10.15 8.15 -11.47 8.01C-12.8 7.88 -13.78 7.71 -14.79 7.49C-15.81 7.26 -16.74 7 -17.55 6.66C-18.37 6.32 -19.07 5.9 -19.66 5.44C-20.24 4.98 -20.66 4.45 -21.05 3.9C-21.45 3.35 -21.73 2.79 -22.01 2.14C-22.29 1.5 -22.57 0.74 -22.74 0C-22.91 -0.74 -23.09 -1.58 -23.01 -2.29C-22.93 -2.99 -22.72 -3.66 -22.28 -4.23C-21.83 -4.8 -21.12 -5.32 -20.33 -5.73C-19.55 -6.13 -18.54 -6.42 -17.57 -6.67C-16.61 -6.93 -15.59 -7.08 -14.54 -7.25C-13.5 -7.43 -12.58 -7.58 -11.29 -7.7C-10.01 -7.82 -8.36 -7.95 -6.84 -7.98C-5.32 -8.02 -3.53 -8.01 -2.18 -7.9C-0.82 -7.79 0.24 -7.58 1.28 -7.32C2.32 -7.07 3.23 -6.73 4.08 -6.38C4.93 -6.02 5.71 -5.63 6.39 -5.19C7.08 -4.76 7.74 -4.29 8.21 -3.77C8.68 -3.25 9.05 -2.69 9.21 -2.06C9.36 -1.43 9.3 -0.66 9.13 0Z"/><path d="M6.1 0C6.09 0.57 6.06 1.18 5.9 1.7C5.73 2.22 5.49 2.69 5.12 3.13C4.76 3.57 4.25 3.97 3.71 4.35C3.16 4.72 2.52 5.05 1.84 5.38C1.15 5.7 0.45 6.01 -0.39 6.29C-1.24 6.57 -2.05 6.86 -3.21 7.04C-4.37 7.23 -5.98 7.38 -7.37 7.4C-8.75 7.42 -10.37 7.34 -11.52 7.18C-12.66 7.03 -13.44 6.75 -14.24 6.47C-15.03 6.2 -15.64 5.86 -16.29 5.54C-16.93 5.22 -17.52 4.91 -18.1 4.55C-18.69 4.2 -19.31 3.84 -19.8 3.41C-20.29 2.97 -20.77 2.5 -21.05 1.93C-21.33 1.37 -21.48 0.65 -21.49 0C-21.5 -0.65 -21.34 -1.36 -21.12 -1.94C-20.91 -2.53 -20.59 -3.03 -20.21 -3.52C-19.83 -4.01 -19.39 -4.47 -18.84 -4.87C-18.29 -5.27 -17.65 -5.64 -16.89 -5.92C-16.14 -6.2 -15.25 -6.4 -14.31 -6.53C-13.37 -6.67 -12.41 -6.7 -11.25 -6.72C-10.1 -6.75 -8.67 -6.71 -7.37 -6.69C-6.07 -6.66 -4.65 -6.65 -3.47 -6.59C-2.3 -6.53 -1.31 -6.49 -0.33 -6.35C0.66 -6.21 1.65 -6.01 2.44 -5.73C3.24 -5.44 3.93 -5.05 4.45 -4.64C4.96 -4.22 5.27 -3.72 5.53 -3.23C5.78 -2.74 5.87 -2.25 5.97 -1.71C6.06 -1.17 6.11 -0.57 6.1 0Z"/><path d="M3.59 0C3.48 0.48 3.23 0.97 3.01 1.4C2.8 1.82 2.55 2.17 2.3 2.55C2.05 2.94 1.84 3.32 1.5 3.69C1.16 4.05 0.8 4.45 0.26 4.76C-0.27 5.08 -0.94 5.38 -1.71 5.58C-2.48 5.78 -3.33 5.91 -4.37 5.97C-5.4 6.04 -6.75 6.01 -7.89 5.98C-9.04 5.95 -10.27 5.87 -11.23 5.78C-12.19 5.69 -12.91 5.58 -13.66 5.43C-14.4 5.27 -15.09 5.09 -15.7 4.85C-16.3 4.61 -16.83 4.31 -17.28 3.98C-17.72 3.65 -18.06 3.27 -18.38 2.88C-18.7 2.48 -18.95 2.07 -19.18 1.6C-19.41 1.12 -19.64 0.55 -19.75 0C-19.86 -0.55 -19.95 -1.18 -19.84 -1.69C-19.74 -2.2 -19.5 -2.67 -19.12 -3.08C-18.74 -3.48 -18.16 -3.82 -17.57 -4.11C-16.98 -4.39 -16.26 -4.58 -15.58 -4.78C-14.89 -4.97 -14.21 -5.11 -13.47 -5.25C-12.74 -5.4 -12.1 -5.56 -11.17 -5.67C-10.24 -5.78 -9.02 -5.9 -7.89 -5.93C-6.77 -5.97 -5.43 -5.95 -4.43 -5.87C-3.43 -5.78 -2.65 -5.61 -1.89 -5.42C-1.13 -5.22 -0.47 -4.96 0.14 -4.69C0.75 -4.42 1.31 -4.13 1.79 -3.8C2.27 -3.48 2.73 -3.13 3.04 -2.74C3.35 -2.35 3.58 -1.94 3.67 -1.48C3.77 -1.03 3.7 -0.48 3.59 0Z"/><path d="M0.87 0C0.98 0.39 1.09 0.84 1.05 1.21C1.01 1.59 0.88 1.95 0.64 2.27C0.4 2.59 0.02 2.89 -0.39 3.15C-0.81 3.41 -1.32 3.63 -1.85 3.84C-2.38 4.04 -2.94 4.22 -3.57 4.38C-4.2 4.53 -4.81 4.67 -5.61 4.75C-6.42 4.83 -7.5 4.88 -8.42 4.87C-9.34 4.86 -10.37 4.79 -11.14 4.7C-11.91 4.61 -12.44 4.48 -13.03 4.34C-13.62 4.21 -14.14 4.06 -14.68 3.89C-15.22 3.72 -15.77 3.56 -16.26 3.33C-16.74 3.1 -17.24 2.83 -17.58 2.51C-17.92 2.19 -18.18 1.81 -18.28 1.39C-18.39 0.98 -18.34 0.45 -18.23 0C-18.13 -0.45 -17.89 -0.92 -17.66 -1.31C-17.44 -1.69 -17.18 -2.01 -16.9 -2.32C-16.62 -2.64 -16.36 -2.95 -16.01 -3.22C-15.66 -3.5 -15.29 -3.76 -14.82 -3.98C-14.35 -4.19 -13.81 -4.37 -13.2 -4.51C-12.6 -4.64 -11.98 -4.72 -11.19 -4.79C-10.39 -4.85 -9.36 -4.88 -8.42 -4.89C-7.48 -4.89 -6.4 -4.89 -5.57 -4.83C-4.73 -4.77 -4.04 -4.69 -3.39 -4.53C-2.75 -4.38 -2.17 -4.17 -1.71 -3.92C-1.25 -3.67 -0.92 -3.36 -0.64 -3.05C-0.36 -2.75 -0.22 -2.42 -0.04 -2.1C0.14 -1.78 0.28 -1.49 0.43 -1.14C0.58 -0.78 0.77 -0.39 0.87 0Z"/><path d="M-1.53 0C-1.54 0.31 -1.58 0.65 -1.69 0.93C-1.8 1.21 -1.97 1.46 -2.2 1.69C-2.42 1.92 -2.73 2.13 -3.04 2.32C-3.35 2.51 -3.7 2.68 -4.06 2.85C-4.43 3.02 -4.79 3.19 -5.24 3.35C-5.68 3.5 -6.09 3.67 -6.71 3.78C-7.33 3.89 -8.2 3.99 -8.95 4.01C-9.7 4.04 -10.59 4 -11.22 3.93C-11.84 3.85 -12.28 3.7 -12.72 3.55C-13.15 3.4 -13.49 3.22 -13.83 3.04C-14.18 2.86 -14.48 2.68 -14.78 2.48C-15.08 2.28 -15.39 2.07 -15.63 1.83C-15.87 1.59 -16.09 1.33 -16.23 1.03C-16.36 0.72 -16.43 0.34 -16.44 0C-16.45 -0.34 -16.38 -0.72 -16.29 -1.04C-16.19 -1.35 -16.06 -1.63 -15.88 -1.9C-15.71 -2.17 -15.5 -2.44 -15.22 -2.66C-14.94 -2.89 -14.59 -3.1 -14.18 -3.25C-13.77 -3.41 -13.27 -3.52 -12.75 -3.58C-12.23 -3.65 -11.69 -3.65 -11.06 -3.66C-10.43 -3.66 -9.65 -3.62 -8.95 -3.6C-8.25 -3.58 -7.49 -3.55 -6.87 -3.52C-6.24 -3.48 -5.73 -3.46 -5.2 -3.38C-4.68 -3.3 -4.15 -3.2 -3.72 -3.06C-3.28 -2.91 -2.9 -2.71 -2.6 -2.49C-2.31 -2.27 -2.11 -2.01 -1.94 -1.75C-1.78 -1.5 -1.7 -1.23 -1.63 -0.94C-1.56 -0.65 -1.52 -0.31 -1.53 0Z"/><path d="M-4 0C-3.94 0.23 -3.92 0.49 -3.99 0.7C-4.05 0.92 -4.2 1.1 -4.37 1.28C-4.55 1.45 -4.8 1.6 -5.04 1.74C-5.29 1.88 -5.56 2 -5.85 2.12C-6.14 2.23 -6.44 2.34 -6.79 2.42C-7.13 2.51 -7.48 2.58 -7.92 2.62C-8.37 2.67 -8.96 2.68 -9.47 2.68C-9.98 2.68 -10.55 2.65 -10.99 2.62C-11.43 2.58 -11.75 2.54 -12.11 2.49C-12.47 2.43 -12.83 2.38 -13.15 2.29C-13.48 2.2 -13.81 2.09 -14.06 1.95C-14.31 1.8 -14.53 1.62 -14.66 1.42C-14.8 1.23 -14.84 1 -14.85 0.76C-14.86 0.52 -14.79 0.25 -14.73 0C-14.67 -0.25 -14.58 -0.49 -14.5 -0.71C-14.41 -0.93 -14.34 -1.11 -14.23 -1.3C-14.11 -1.49 -13.99 -1.68 -13.81 -1.84C-13.63 -2 -13.4 -2.15 -13.14 -2.28C-12.87 -2.4 -12.55 -2.49 -12.2 -2.57C-11.85 -2.64 -11.51 -2.69 -11.05 -2.73C-10.6 -2.77 -10.01 -2.8 -9.47 -2.8C-8.94 -2.8 -8.32 -2.79 -7.86 -2.74C-7.39 -2.69 -7.03 -2.61 -6.7 -2.5C-6.37 -2.4 -6.1 -2.25 -5.87 -2.11C-5.63 -1.96 -5.47 -1.8 -5.29 -1.64C-5.11 -1.49 -4.97 -1.33 -4.81 -1.17C-4.65 -1 -4.48 -0.85 -4.34 -0.66C-4.21 -0.46 -4.06 -0.23 -4 0Z"/><path d="M-6.63 0C-6.6 0.14 -6.59 0.3 -6.62 0.43C-6.66 0.56 -6.74 0.68 -6.85 0.79C-6.96 0.89 -7.13 0.98 -7.3 1.06C-7.46 1.14 -7.66 1.2 -7.85 1.25C-8.04 1.31 -8.22 1.37 -8.43 1.42C-8.63 1.47 -8.81 1.53 -9.07 1.57C-9.33 1.62 -9.68 1.66 -10 1.68C-10.32 1.71 -10.7 1.71 -10.98 1.7C-11.26 1.68 -11.48 1.64 -11.69 1.59C-11.91 1.55 -12.09 1.48 -12.27 1.41C-12.44 1.34 -12.6 1.25 -12.73 1.16C-12.87 1.07 -12.99 0.96 -13.08 0.84C-13.16 0.73 -13.22 0.6 -13.24 0.46C-13.27 0.32 -13.24 0.15 -13.21 0C-13.18 -0.15 -13.12 -0.3 -13.07 -0.43C-13.01 -0.57 -12.96 -0.68 -12.89 -0.79C-12.83 -0.91 -12.77 -1.03 -12.68 -1.14C-12.58 -1.24 -12.47 -1.36 -12.32 -1.44C-12.16 -1.53 -11.97 -1.6 -11.75 -1.64C-11.52 -1.69 -11.28 -1.71 -10.99 -1.71C-10.7 -1.72 -10.32 -1.7 -10 -1.68C-9.68 -1.65 -9.33 -1.62 -9.06 -1.59C-8.79 -1.55 -8.59 -1.52 -8.38 -1.47C-8.16 -1.42 -7.97 -1.36 -7.8 -1.29C-7.63 -1.21 -7.48 -1.13 -7.35 -1.04C-7.23 -0.95 -7.13 -0.85 -7.04 -0.74C-6.95 -0.64 -6.87 -0.53 -6.8 -0.41C-6.73 -0.29 -6.66 -0.14 -6.63 0Z" fill="#fff" stroke="none"/></g>
<path d="M1238.4 912.8 L1238.4 1114.4 M1104.4 986.3 L1306.8 986.3" stroke="#161616" stroke-width="1.6" fill="none"/>
<text transform="translate(1076.88 1114) scale(0.9997 1)" font-size="10.3" font-weight="bold" style="fill:#141414;stroke:#141414;stroke-width:0.4px" >10</text>
<text transform="translate(1088.95 1107.1) scale(1.1623 1)" font-size="9.6" font-weight="bold" style="fill:#141414;stroke:#141414;stroke-width:0.2px" >0</text>
<text transform="translate(1076.88 1082.74) scale(0.9997 1)" font-size="10.3" font-weight="bold" style="fill:#141414;stroke:#141414;stroke-width:0.4px" >10</text>
<text transform="translate(1088.72 1075.84) scale(1.1746 1)" font-size="9.6" font-weight="bold" style="fill:#141414;stroke:#141414;stroke-width:0.2px" >1</text>
<text transform="translate(1076.88 1045.68) scale(0.9997 1)" font-size="10.3" font-weight="bold" style="fill:#141414;stroke:#141414;stroke-width:0.4px" >10</text>
<text transform="translate(1089.01 1038.78) scale(1.1502 1)" font-size="9.6" font-weight="bold" style="fill:#141414;stroke:#141414;stroke-width:0.2px" >2</text>
<text transform="translate(1076.88 1008.62) scale(0.9997 1)" font-size="10.3" font-weight="bold" style="fill:#141414;stroke:#141414;stroke-width:0.4px" >10</text>
<text transform="translate(1089.13 1001.72) scale(1.1153 1)" font-size="9.6" font-weight="bold" style="fill:#141414;stroke:#141414;stroke-width:0.2px" >3</text>
<text transform="translate(1076.88 971.56) scale(0.9997 1)" font-size="10.3" font-weight="bold" style="fill:#141414;stroke:#141414;stroke-width:0.4px" >10</text>
<text transform="translate(1089.25 964.66) scale(1.0319 1)" font-size="9.6" font-weight="bold" style="fill:#141414;stroke:#141414;stroke-width:0.2px" >4</text>
<text transform="translate(1076.88 934.5) scale(0.9997 1)" font-size="10.3" font-weight="bold" style="fill:#141414;stroke:#141414;stroke-width:0.4px" >10</text>
<text transform="translate(1089.08 927.6) scale(1.1042 1)" font-size="9.6" font-weight="bold" style="fill:#141414;stroke:#141414;stroke-width:0.2px" >5</text>
<text transform="translate(1108.08 1140.8) scale(0.9997 1)" font-size="10.3" font-weight="bold" style="fill:#141414;stroke:#141414;stroke-width:0.4px" >10</text>
<text transform="translate(1120.15 1133.9) scale(1.1623 1)" font-size="9.6" font-weight="bold" style="fill:#141414;stroke:#141414;stroke-width:0.2px" >0</text>
<text transform="translate(1135.58 1140.8) scale(0.9997 1)" font-size="10.3" font-weight="bold" style="fill:#141414;stroke:#141414;stroke-width:0.4px" >10</text>
<text transform="translate(1147.42 1133.9) scale(1.1746 1)" font-size="9.6" font-weight="bold" style="fill:#141414;stroke:#141414;stroke-width:0.2px" >1</text>
<text transform="translate(1172.88 1140.8) scale(0.9997 1)" font-size="10.3" font-weight="bold" style="fill:#141414;stroke:#141414;stroke-width:0.4px" >10</text>
<text transform="translate(1185.01 1133.9) scale(1.1502 1)" font-size="9.6" font-weight="bold" style="fill:#141414;stroke:#141414;stroke-width:0.2px" >2</text>
<text transform="translate(1209.98 1140.8) scale(0.9997 1)" font-size="10.3" font-weight="bold" style="fill:#141414;stroke:#141414;stroke-width:0.4px" >10</text>
<text transform="translate(1222.23 1133.9) scale(1.1153 1)" font-size="9.6" font-weight="bold" style="fill:#141414;stroke:#141414;stroke-width:0.2px" >3</text>
<text transform="translate(1247.28 1140.8) scale(0.9997 1)" font-size="10.3" font-weight="bold" style="fill:#141414;stroke:#141414;stroke-width:0.4px" >10</text>
<text transform="translate(1259.65 1133.9) scale(1.0319 1)" font-size="9.6" font-weight="bold" style="fill:#141414;stroke:#141414;stroke-width:0.2px" >4</text>
<text transform="translate(1284.58 1140.8) scale(0.9997 1)" font-size="10.3" font-weight="bold" style="fill:#141414;stroke:#141414;stroke-width:0.4px" >10</text>
<text transform="translate(1296.78 1133.9) scale(1.1042 1)" font-size="9.6" font-weight="bold" style="fill:#141414;stroke:#141414;stroke-width:0.2px" >5</text>
<path d="M1098 1113.7 L1104.4 1113.7 M1098 1076.64 L1104.4 1076.64 M1098 1039.58 L1104.4 1039.58 M1098 1002.52 L1104.4 1002.52 M1098 965.46 L1104.4 965.46 M1098 928.4 L1104.4 928.4 M1104.8 1114.4 L1104.8 1120.6 M1140.8 1114.4 L1140.8 1120.6 M1178.1 1114.4 L1178.1 1120.6 M1215.2 1114.4 L1215.2 1120.6 M1252.5 1114.4 L1252.5 1120.6 M1289.8 1114.4 L1289.8 1120.6" stroke="#2a2a2a" stroke-width="1.3" fill="none"/>
<path d="M1101.1 1102.54 L1104.4 1102.54 M1101.1 1096.02 L1104.4 1096.02 M1101.1 1091.39 L1104.4 1091.39 M1101.1 1087.8 L1104.4 1087.8 M1101.1 1084.86 L1104.4 1084.86 M1101.1 1082.38 L1104.4 1082.38 M1101.1 1080.23 L1104.4 1080.23 M1101.1 1078.34 L1104.4 1078.34 M1101.1 1065.48 L1104.4 1065.48 M1101.1 1058.96 L1104.4 1058.96 M1101.1 1054.33 L1104.4 1054.33 M1101.1 1050.74 L1104.4 1050.74 M1101.1 1047.8 L1104.4 1047.8 M1101.1 1045.32 L1104.4 1045.32 M1101.1 1043.17 L1104.4 1043.17 M1101.1 1041.28 L1104.4 1041.28 M1101.1 1028.42 L1104.4 1028.42 M1101.1 1021.9 L1104.4 1021.9 M1101.1 1017.27 L1104.4 1017.27 M1101.1 1013.68 L1104.4 1013.68 M1101.1 1010.74 L1104.4 1010.74 M1101.1 1008.26 L1104.4 1008.26 M1101.1 1006.11 L1104.4 1006.11 M1101.1 1004.22 L1104.4 1004.22 M1101.1 991.36 L1104.4 991.36 M1101.1 984.84 L1104.4 984.84 M1101.1 980.21 L1104.4 980.21 M1101.1 976.62 L1104.4 976.62 M1101.1 973.68 L1104.4 973.68 M1101.1 971.2 L1104.4 971.2 M1101.1 969.05 L1104.4 969.05 M1101.1 967.16 L1104.4 967.16 M1101.1 954.3 L1104.4 954.3 M1101.1 947.78 L1104.4 947.78 M1101.1 943.15 L1104.4 943.15 M1101.1 939.56 L1104.4 939.56 M1101.1 936.62 L1104.4 936.62 M1101.1 934.14 L1104.4 934.14 M1101.1 931.99 L1104.4 931.99 M1101.1 930.1 L1104.4 930.1 M1101.1 917.24 L1104.4 917.24 M1115.64 1114.4 L1115.64 1117.6 M1121.98 1114.4 L1121.98 1117.6 M1126.47 1114.4 L1126.47 1117.6 M1129.96 1114.4 L1129.96 1117.6 M1132.81 1114.4 L1132.81 1117.6 M1135.22 1114.4 L1135.22 1117.6 M1137.31 1114.4 L1137.31 1117.6 M1139.15 1114.4 L1139.15 1117.6 M1152.03 1114.4 L1152.03 1117.6 M1158.6 1114.4 L1158.6 1117.6 M1163.26 1114.4 L1163.26 1117.6 M1166.87 1114.4 L1166.87 1117.6 M1169.83 1114.4 L1169.83 1117.6 M1172.32 1114.4 L1172.32 1117.6 M1174.49 1114.4 L1174.49 1117.6 M1176.39 1114.4 L1176.39 1117.6 M1189.27 1114.4 L1189.27 1117.6 M1195.8 1114.4 L1195.8 1117.6 M1200.44 1114.4 L1200.44 1117.6 M1204.03 1114.4 L1204.03 1117.6 M1206.97 1114.4 L1206.97 1117.6 M1209.45 1114.4 L1209.45 1117.6 M1211.6 1114.4 L1211.6 1117.6 M1213.5 1114.4 L1213.5 1117.6 M1226.43 1114.4 L1226.43 1117.6 M1233 1114.4 L1233 1117.6 M1237.66 1114.4 L1237.66 1117.6 M1241.27 1114.4 L1241.27 1117.6 M1244.23 1114.4 L1244.23 1117.6 M1246.72 1114.4 L1246.72 1117.6 M1248.89 1114.4 L1248.89 1117.6 M1250.79 1114.4 L1250.79 1117.6 M1263.73 1114.4 L1263.73 1117.6 M1270.3 1114.4 L1270.3 1117.6 M1274.96 1114.4 L1274.96 1117.6 M1278.57 1114.4 L1278.57 1117.6 M1281.53 1114.4 L1281.53 1117.6 M1284.02 1114.4 L1284.02 1117.6 M1286.19 1114.4 L1286.19 1117.6 M1288.09 1114.4 L1288.09 1117.6 M1300.97 1114.4 L1300.97 1117.6" stroke="#2a2a2a" stroke-width="0.8" fill="none"/>
<text transform="translate(1108.08 933.5) scale(1.1000 1)" font-size="12.6" style="fill:#1c1c1c;stroke:#1c1c1c;stroke-width:0.3px" >Q1</text>
<text transform="translate(1107.66 950.8) scale(1.1000 1)" font-size="12.6" style="fill:#1c1c1c;stroke:#1c1c1c;stroke-width:0.3px" >1.18</text>
<text transform="translate(1270.59 933.5) scale(1.1000 1)" font-size="12.6" style="fill:#1c1c1c;stroke:#1c1c1c;stroke-width:0.3px" >Q2</text>
<text transform="translate(1262 950.8) scale(1.1000 1)" font-size="12.6" style="fill:#1c1c1c;stroke:#1c1c1c;stroke-width:0.3px" >14.3</text>
<text transform="translate(1108.08 1084.3) scale(1.1000 1)" font-size="12.6" style="fill:#1c1c1c;stroke:#1c1c1c;stroke-width:0.3px" >Q4</text>
<text transform="translate(1108.15 1101.7) scale(1.1000 1)" font-size="12.6" style="fill:#1c1c1c;stroke:#1c1c1c;stroke-width:0.3px" >53.9</text>
<text transform="translate(1270.45 1084.3) scale(1.1000 1)" font-size="12.6" style="fill:#1c1c1c;stroke:#1c1c1c;stroke-width:0.3px" >Q3</text>
<text transform="translate(1262.14 1101.7) scale(1.1000 1)" font-size="12.6" style="fill:#1c1c1c;stroke:#1c1c1c;stroke-width:0.3px" >30.7</text>
</g>
</g>
</svg>
</body>
</html>
